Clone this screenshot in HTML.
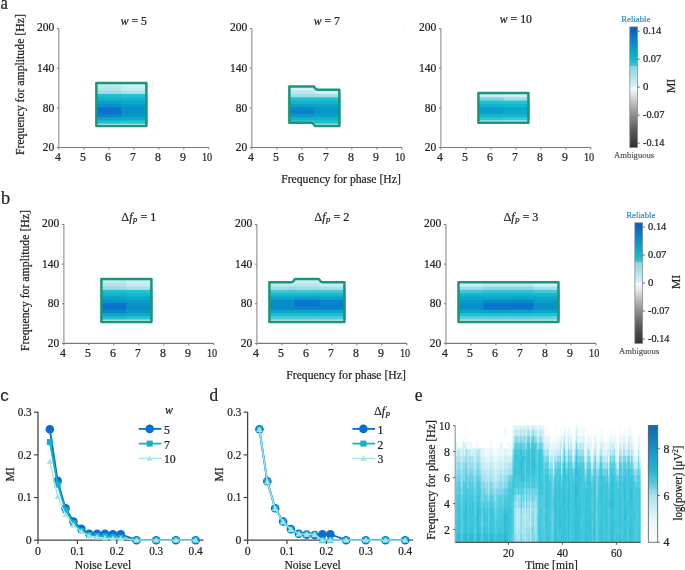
<!DOCTYPE html><html><head><meta charset="utf-8"><style>html,body{margin:0;padding:0;background:#fff;overflow:hidden}svg{display:block;will-change:transform}text{font-family:"Liberation Serif",serif;stroke:#222;stroke-width:0.22px}</style></head><body>
<svg width="685" height="570" viewBox="0 0 685 570" fill="#222">
<defs>
<linearGradient id="cba" x1="0" y1="0" x2="0" y2="1"><stop offset="0" stop-color="#0a5ec0"/><stop offset="0.035" stop-color="#0a62c2"/><stop offset="0.1" stop-color="#0a7ec8"/><stop offset="0.17" stop-color="#0a98c8"/><stop offset="0.23" stop-color="#0aaec8"/><stop offset="0.27" stop-color="#12b8cc"/><stop offset="0.32" stop-color="#3cc4d4"/><stop offset="0.326" stop-color="#80d4de"/><stop offset="0.335" stop-color="#8ed8e2"/><stop offset="0.4" stop-color="#a8e2ea"/><stop offset="0.47" stop-color="#c8eff4"/><stop offset="0.495" stop-color="#d4f4f8"/><stop offset="0.497" stop-color="#fbfbfb"/><stop offset="0.56" stop-color="#e4e4e4"/><stop offset="0.62" stop-color="#c4c4c4"/><stop offset="0.69" stop-color="#a0a0a0"/><stop offset="0.74" stop-color="#8a8a8a"/><stop offset="0.84" stop-color="#606060"/><stop offset="0.93" stop-color="#444"/><stop offset="1" stop-color="#303030"/></linearGradient>
<linearGradient id="cbb" x1="0" y1="0" x2="0" y2="1"><stop offset="0" stop-color="#0a5ec0"/><stop offset="0.035" stop-color="#0a62c2"/><stop offset="0.1" stop-color="#0a7ec8"/><stop offset="0.17" stop-color="#0a98c8"/><stop offset="0.23" stop-color="#0aaec8"/><stop offset="0.27" stop-color="#12b8cc"/><stop offset="0.32" stop-color="#3cc4d4"/><stop offset="0.326" stop-color="#80d4de"/><stop offset="0.335" stop-color="#8ed8e2"/><stop offset="0.4" stop-color="#a8e2ea"/><stop offset="0.47" stop-color="#c8eff4"/><stop offset="0.495" stop-color="#d4f4f8"/><stop offset="0.497" stop-color="#fbfbfb"/><stop offset="0.56" stop-color="#e4e4e4"/><stop offset="0.62" stop-color="#c4c4c4"/><stop offset="0.69" stop-color="#a0a0a0"/><stop offset="0.74" stop-color="#8a8a8a"/><stop offset="0.84" stop-color="#606060"/><stop offset="0.93" stop-color="#444"/><stop offset="1" stop-color="#303030"/></linearGradient>
<linearGradient id="cbe" x1="0" y1="0" x2="0" y2="1"><stop offset="0" stop-color="#0b68b6"/><stop offset="0.2" stop-color="#1a90c8"/><stop offset="0.38" stop-color="#22b4d0"/><stop offset="0.5" stop-color="#5cc9dc"/><stop offset="0.6" stop-color="#a8e2ec"/><stop offset="0.8" stop-color="#e6f7fa"/><stop offset="1" stop-color="#ffffff"/></linearGradient>
</defs>
<rect width="685" height="570" fill="#fff"/>
<text x="0.60" y="9.00" font-size="18.5" fill="#222" textLength="7.4" lengthAdjust="spacingAndGlyphs">a</text>
<text x="0.90" y="204.30" font-size="18.5" fill="#222" textLength="9.2" lengthAdjust="spacingAndGlyphs">b</text>
<text x="0.3" y="401" font-size="17" style="font-family:'Liberation Sans',sans-serif;stroke-width:0.15px" fill="#222">c</text>
<text x="209.60" y="400.80" font-size="18.5" fill="#222" textLength="8.6" lengthAdjust="spacingAndGlyphs">d</text>
<text x="414.70" y="400.80" font-size="18.5" fill="#222" textLength="7.8" lengthAdjust="spacingAndGlyphs">e</text>
<rect x="96.35" y="122.73" width="26.00" height="4.30" fill="#c8eef2"/>
<rect x="96.35" y="119.42" width="26.00" height="4.30" fill="#20bdd0"/>
<rect x="96.35" y="116.12" width="26.00" height="4.30" fill="#0aa5c8"/>
<rect x="96.35" y="112.82" width="26.00" height="4.30" fill="#0a86c8"/>
<rect x="96.35" y="109.52" width="26.00" height="4.30" fill="#0a72cc"/>
<rect x="96.35" y="106.21" width="26.00" height="4.30" fill="#0a74cc"/>
<rect x="96.35" y="102.91" width="26.00" height="4.30" fill="#0a92c8"/>
<rect x="96.35" y="99.61" width="26.00" height="4.30" fill="#0aa0c8"/>
<rect x="96.35" y="96.30" width="26.00" height="4.30" fill="#12b2cc"/>
<rect x="96.35" y="93.00" width="26.00" height="4.30" fill="#1ebdd0"/>
<rect x="96.35" y="89.70" width="26.00" height="4.30" fill="#9ddbe3"/>
<rect x="96.35" y="86.39" width="26.00" height="4.30" fill="#b0e3ea"/>
<rect x="96.35" y="83.09" width="26.00" height="4.30" fill="#c0eaf0"/>
<rect x="121.35" y="122.73" width="26.00" height="4.30" fill="#cdf0f4"/>
<rect x="121.35" y="119.42" width="26.00" height="4.30" fill="#28c2d2"/>
<rect x="121.35" y="116.12" width="26.00" height="4.30" fill="#0aacc8"/>
<rect x="121.35" y="112.82" width="26.00" height="4.30" fill="#0a98c8"/>
<rect x="121.35" y="109.52" width="26.00" height="4.30" fill="#0a90c8"/>
<rect x="121.35" y="106.21" width="26.00" height="4.30" fill="#0a90c8"/>
<rect x="121.35" y="102.91" width="26.00" height="4.30" fill="#0a9cc8"/>
<rect x="121.35" y="99.61" width="26.00" height="4.30" fill="#0aa8ca"/>
<rect x="121.35" y="96.30" width="26.00" height="4.30" fill="#17b6cd"/>
<rect x="121.35" y="93.00" width="26.00" height="4.30" fill="#24c1d2"/>
<rect x="121.35" y="89.70" width="26.00" height="4.30" fill="#aae1e9"/>
<rect x="121.35" y="86.39" width="26.00" height="4.30" fill="#c2ecf1"/>
<rect x="121.35" y="83.09" width="26.00" height="4.30" fill="#caf0f4"/>
<path d="M96.35,126.03 L96.35,83.09 L146.35,83.09 L146.35,126.03 Z" fill="none" stroke="#1c9678" stroke-width="2.5" stroke-linejoin="round"/>
<rect x="289.35" y="119.42" width="26.00" height="4.30" fill="#40c6d4"/>
<rect x="289.35" y="116.12" width="26.00" height="4.30" fill="#10b0cc"/>
<rect x="289.35" y="112.82" width="26.00" height="4.30" fill="#0a98c8"/>
<rect x="289.35" y="109.52" width="26.00" height="4.30" fill="#0a80cc"/>
<rect x="289.35" y="106.21" width="26.00" height="4.30" fill="#0a88cc"/>
<rect x="289.35" y="102.91" width="26.00" height="4.30" fill="#0aa0c8"/>
<rect x="289.35" y="99.61" width="26.00" height="4.30" fill="#10b4cc"/>
<rect x="289.35" y="96.30" width="26.00" height="4.30" fill="#20c0d0"/>
<rect x="289.35" y="93.00" width="26.00" height="4.30" fill="#a0dde6"/>
<rect x="289.35" y="89.70" width="26.00" height="4.30" fill="#b8e6ee"/>
<rect x="289.35" y="86.39" width="26.00" height="4.30" fill="#d0f2f6"/>
<rect x="314.35" y="122.73" width="26.00" height="4.30" fill="#b8e8ee"/>
<rect x="314.35" y="119.42" width="26.00" height="4.30" fill="#20c0d0"/>
<rect x="314.35" y="116.12" width="26.00" height="4.30" fill="#10b2cc"/>
<rect x="314.35" y="112.82" width="26.00" height="4.30" fill="#0aa0c8"/>
<rect x="314.35" y="109.52" width="26.00" height="4.30" fill="#0a96c8"/>
<rect x="314.35" y="106.21" width="26.00" height="4.30" fill="#0a98c8"/>
<rect x="314.35" y="102.91" width="26.00" height="4.30" fill="#0aa5c8"/>
<rect x="314.35" y="99.61" width="26.00" height="4.30" fill="#12b4cc"/>
<rect x="314.35" y="96.30" width="26.00" height="4.30" fill="#20c0d0"/>
<rect x="314.35" y="93.00" width="26.00" height="4.30" fill="#a8e0e8"/>
<rect x="314.35" y="89.70" width="26.00" height="4.30" fill="#cdf0f4"/>
<path d="M289.35,122.73 L289.35,86.39 L313.75,86.39 L314.75,87.59 L315.95,89.30 L318.35,89.70 L339.35,89.70 L339.35,126.03 L314.95,126.03 L313.95,124.83 L312.75,123.13 L310.35,122.73 Z" fill="none" stroke="#1c9678" stroke-width="2.5" stroke-linejoin="round"/>
<rect x="478.40" y="119.42" width="26.00" height="4.30" fill="#c0eaf0"/>
<rect x="478.40" y="116.12" width="26.00" height="4.30" fill="#30c5d5"/>
<rect x="478.40" y="112.82" width="26.00" height="4.30" fill="#10b5cc"/>
<rect x="478.40" y="109.52" width="26.00" height="4.30" fill="#0a9fcc"/>
<rect x="478.40" y="106.21" width="26.00" height="4.30" fill="#0a9fcc"/>
<rect x="478.40" y="102.91" width="26.00" height="4.30" fill="#10b5cc"/>
<rect x="478.40" y="99.61" width="26.00" height="4.30" fill="#20c0d0"/>
<rect x="478.40" y="96.30" width="26.00" height="4.30" fill="#7dd3e0"/>
<rect x="478.40" y="93.00" width="26.00" height="4.30" fill="#c8eef2"/>
<rect x="503.40" y="119.42" width="26.00" height="4.30" fill="#c8eef2"/>
<rect x="503.40" y="116.12" width="26.00" height="4.30" fill="#38c8d6"/>
<rect x="503.40" y="112.82" width="26.00" height="4.30" fill="#14b8cc"/>
<rect x="503.40" y="109.52" width="26.00" height="4.30" fill="#0aabc8"/>
<rect x="503.40" y="106.21" width="26.00" height="4.30" fill="#0aabc8"/>
<rect x="503.40" y="102.91" width="26.00" height="4.30" fill="#14b8cc"/>
<rect x="503.40" y="99.61" width="26.00" height="4.30" fill="#25c2d2"/>
<rect x="503.40" y="96.30" width="26.00" height="4.30" fill="#a0dde8"/>
<rect x="503.40" y="93.00" width="26.00" height="4.30" fill="#d0f0f4"/>
<path d="M478.40,122.73 L478.40,93.00 L528.40,93.00 L528.40,122.73 Z" fill="none" stroke="#1c9678" stroke-width="2.5" stroke-linejoin="round"/>
<line x1="58.85" y1="28.59" x2="58.85" y2="147.50" stroke="#8c8c8c" stroke-width="1.1"/>
<line x1="58.85" y1="147.50" x2="208.85" y2="147.50" stroke="#7a7a7a" stroke-width="1.1"/>
<line x1="56.85" y1="28.59" x2="58.85" y2="28.59" stroke="#7a7a7a" stroke-width="1"/>
<text x="54.25" y="31.19" font-size="11.8" text-anchor="end" fill="#222" textLength="17.3" lengthAdjust="spacingAndGlyphs">200</text>
<line x1="56.85" y1="68.23" x2="58.85" y2="68.23" stroke="#7a7a7a" stroke-width="1"/>
<text x="54.25" y="71.93" font-size="11.8" text-anchor="end" fill="#222" textLength="17.3" lengthAdjust="spacingAndGlyphs">140</text>
<line x1="56.85" y1="107.86" x2="58.85" y2="107.86" stroke="#7a7a7a" stroke-width="1"/>
<text x="54.25" y="111.56" font-size="11.8" text-anchor="end" fill="#222" textLength="11.5" lengthAdjust="spacingAndGlyphs">80</text>
<line x1="56.85" y1="147.50" x2="58.85" y2="147.50" stroke="#7a7a7a" stroke-width="1"/>
<text x="54.25" y="151.20" font-size="11.8" text-anchor="end" fill="#222" textLength="11.5" lengthAdjust="spacingAndGlyphs">20</text>
<line x1="58.85" y1="147.50" x2="58.85" y2="149.50" stroke="#7a7a7a" stroke-width="1"/>
<text x="57.95" y="160.60" font-size="11.8" text-anchor="middle" fill="#222">4</text>
<line x1="83.85" y1="147.50" x2="83.85" y2="149.50" stroke="#7a7a7a" stroke-width="1"/>
<text x="82.95" y="160.60" font-size="11.8" text-anchor="middle" fill="#222">5</text>
<line x1="108.85" y1="147.50" x2="108.85" y2="149.50" stroke="#7a7a7a" stroke-width="1"/>
<text x="107.95" y="160.60" font-size="11.8" text-anchor="middle" fill="#222">6</text>
<line x1="133.85" y1="147.50" x2="133.85" y2="149.50" stroke="#7a7a7a" stroke-width="1"/>
<text x="132.95" y="160.60" font-size="11.8" text-anchor="middle" fill="#222">7</text>
<line x1="158.85" y1="147.50" x2="158.85" y2="149.50" stroke="#7a7a7a" stroke-width="1"/>
<text x="157.95" y="160.60" font-size="11.8" text-anchor="middle" fill="#222">8</text>
<line x1="183.85" y1="147.50" x2="183.85" y2="149.50" stroke="#7a7a7a" stroke-width="1"/>
<text x="182.95" y="160.60" font-size="11.8" text-anchor="middle" fill="#222">9</text>
<line x1="208.85" y1="147.50" x2="208.85" y2="149.50" stroke="#7a7a7a" stroke-width="1"/>
<text x="207.05" y="160.60" font-size="11.8" text-anchor="middle" fill="#222" textLength="10.2" lengthAdjust="spacingAndGlyphs">10</text>
<text x="133.85" y="25.10" font-size="11.8" text-anchor="middle"><tspan font-style="italic">w</tspan> = 5</text>
<line x1="251.85" y1="28.59" x2="251.85" y2="147.50" stroke="#8c8c8c" stroke-width="1.1"/>
<line x1="251.85" y1="147.50" x2="401.85" y2="147.50" stroke="#7a7a7a" stroke-width="1.1"/>
<line x1="249.85" y1="28.59" x2="251.85" y2="28.59" stroke="#7a7a7a" stroke-width="1"/>
<text x="247.25" y="31.19" font-size="11.8" text-anchor="end" fill="#222" textLength="17.3" lengthAdjust="spacingAndGlyphs">200</text>
<line x1="249.85" y1="68.23" x2="251.85" y2="68.23" stroke="#7a7a7a" stroke-width="1"/>
<text x="247.25" y="71.93" font-size="11.8" text-anchor="end" fill="#222" textLength="17.3" lengthAdjust="spacingAndGlyphs">140</text>
<line x1="249.85" y1="107.86" x2="251.85" y2="107.86" stroke="#7a7a7a" stroke-width="1"/>
<text x="247.25" y="111.56" font-size="11.8" text-anchor="end" fill="#222" textLength="11.5" lengthAdjust="spacingAndGlyphs">80</text>
<line x1="249.85" y1="147.50" x2="251.85" y2="147.50" stroke="#7a7a7a" stroke-width="1"/>
<text x="247.25" y="151.20" font-size="11.8" text-anchor="end" fill="#222" textLength="11.5" lengthAdjust="spacingAndGlyphs">20</text>
<line x1="251.85" y1="147.50" x2="251.85" y2="149.50" stroke="#7a7a7a" stroke-width="1"/>
<text x="250.95" y="160.60" font-size="11.8" text-anchor="middle" fill="#222">4</text>
<line x1="276.85" y1="147.50" x2="276.85" y2="149.50" stroke="#7a7a7a" stroke-width="1"/>
<text x="275.95" y="160.60" font-size="11.8" text-anchor="middle" fill="#222">5</text>
<line x1="301.85" y1="147.50" x2="301.85" y2="149.50" stroke="#7a7a7a" stroke-width="1"/>
<text x="300.95" y="160.60" font-size="11.8" text-anchor="middle" fill="#222">6</text>
<line x1="326.85" y1="147.50" x2="326.85" y2="149.50" stroke="#7a7a7a" stroke-width="1"/>
<text x="325.95" y="160.60" font-size="11.8" text-anchor="middle" fill="#222">7</text>
<line x1="351.85" y1="147.50" x2="351.85" y2="149.50" stroke="#7a7a7a" stroke-width="1"/>
<text x="350.95" y="160.60" font-size="11.8" text-anchor="middle" fill="#222">8</text>
<line x1="376.85" y1="147.50" x2="376.85" y2="149.50" stroke="#7a7a7a" stroke-width="1"/>
<text x="375.95" y="160.60" font-size="11.8" text-anchor="middle" fill="#222">9</text>
<line x1="401.85" y1="147.50" x2="401.85" y2="149.50" stroke="#7a7a7a" stroke-width="1"/>
<text x="400.05" y="160.60" font-size="11.8" text-anchor="middle" fill="#222" textLength="10.2" lengthAdjust="spacingAndGlyphs">10</text>
<text x="326.85" y="24.60" font-size="11.8" text-anchor="middle"><tspan font-style="italic">w</tspan> = 7</text>
<line x1="440.90" y1="28.59" x2="440.90" y2="147.50" stroke="#8c8c8c" stroke-width="1.1"/>
<line x1="440.90" y1="147.50" x2="590.90" y2="147.50" stroke="#7a7a7a" stroke-width="1.1"/>
<line x1="438.90" y1="28.59" x2="440.90" y2="28.59" stroke="#7a7a7a" stroke-width="1"/>
<text x="436.30" y="31.19" font-size="11.8" text-anchor="end" fill="#222" textLength="17.3" lengthAdjust="spacingAndGlyphs">200</text>
<line x1="438.90" y1="68.23" x2="440.90" y2="68.23" stroke="#7a7a7a" stroke-width="1"/>
<text x="436.30" y="71.93" font-size="11.8" text-anchor="end" fill="#222" textLength="17.3" lengthAdjust="spacingAndGlyphs">140</text>
<line x1="438.90" y1="107.86" x2="440.90" y2="107.86" stroke="#7a7a7a" stroke-width="1"/>
<text x="436.30" y="111.56" font-size="11.8" text-anchor="end" fill="#222" textLength="11.5" lengthAdjust="spacingAndGlyphs">80</text>
<line x1="438.90" y1="147.50" x2="440.90" y2="147.50" stroke="#7a7a7a" stroke-width="1"/>
<text x="436.30" y="151.20" font-size="11.8" text-anchor="end" fill="#222" textLength="11.5" lengthAdjust="spacingAndGlyphs">20</text>
<line x1="440.90" y1="147.50" x2="440.90" y2="149.50" stroke="#7a7a7a" stroke-width="1"/>
<text x="440.00" y="160.60" font-size="11.8" text-anchor="middle" fill="#222">4</text>
<line x1="465.90" y1="147.50" x2="465.90" y2="149.50" stroke="#7a7a7a" stroke-width="1"/>
<text x="465.00" y="160.60" font-size="11.8" text-anchor="middle" fill="#222">5</text>
<line x1="490.90" y1="147.50" x2="490.90" y2="149.50" stroke="#7a7a7a" stroke-width="1"/>
<text x="490.00" y="160.60" font-size="11.8" text-anchor="middle" fill="#222">6</text>
<line x1="515.90" y1="147.50" x2="515.90" y2="149.50" stroke="#7a7a7a" stroke-width="1"/>
<text x="515.00" y="160.60" font-size="11.8" text-anchor="middle" fill="#222">7</text>
<line x1="540.90" y1="147.50" x2="540.90" y2="149.50" stroke="#7a7a7a" stroke-width="1"/>
<text x="540.00" y="160.60" font-size="11.8" text-anchor="middle" fill="#222">8</text>
<line x1="565.90" y1="147.50" x2="565.90" y2="149.50" stroke="#7a7a7a" stroke-width="1"/>
<text x="565.00" y="160.60" font-size="11.8" text-anchor="middle" fill="#222">9</text>
<line x1="590.90" y1="147.50" x2="590.90" y2="149.50" stroke="#7a7a7a" stroke-width="1"/>
<text x="589.10" y="160.60" font-size="11.8" text-anchor="middle" fill="#222" textLength="10.2" lengthAdjust="spacingAndGlyphs">10</text>
<text x="515.90" y="23.40" font-size="11.8" text-anchor="middle"><tspan font-style="italic">w</tspan> = 10</text>
<text x="23.90" y="84.60" font-size="12.6" text-anchor="middle" fill="#222" textLength="141" lengthAdjust="spacingAndGlyphs" transform="rotate(-90 23.90 84.60)">Frequency for amplitude [Hz]</text>
<text x="341.00" y="182.60" font-size="12.6" text-anchor="middle" fill="#222" textLength="119.6" lengthAdjust="spacingAndGlyphs">Frequency for phase [Hz]</text>
<rect x="629.80" y="26.90" width="7.8" height="120.70" fill="url(#cba)" stroke="#8a8a8a" stroke-width="0.8"/>
<line x1="637.60" y1="31.15" x2="639.60" y2="31.15" stroke="#555" stroke-width="1"/>
<text x="643.00" y="34.25" font-size="10.8" fill="#222" textLength="18.3" lengthAdjust="spacingAndGlyphs">0.14</text>
<line x1="637.60" y1="59.15" x2="639.60" y2="59.15" stroke="#555" stroke-width="1"/>
<text x="643.00" y="62.25" font-size="10.8" fill="#222" textLength="18.3" lengthAdjust="spacingAndGlyphs">0.07</text>
<line x1="637.60" y1="87.15" x2="639.60" y2="87.15" stroke="#555" stroke-width="1"/>
<text x="643.00" y="90.25" font-size="10.8" fill="#222">0</text>
<line x1="637.60" y1="115.15" x2="639.60" y2="115.15" stroke="#555" stroke-width="1"/>
<text x="643.00" y="118.25" font-size="10.8" fill="#222" textLength="21.4" lengthAdjust="spacingAndGlyphs">-0.07</text>
<line x1="637.60" y1="143.15" x2="639.60" y2="143.15" stroke="#555" stroke-width="1"/>
<text x="643.00" y="146.25" font-size="10.8" fill="#222" textLength="21.4" lengthAdjust="spacingAndGlyphs">-0.14</text>
<text x="635.80" y="22.00" font-size="9.0" text-anchor="middle" fill="#2f8cc4" style="stroke:#2f8cc4" textLength="29.1" lengthAdjust="spacingAndGlyphs">Reliable</text>
<text x="634.10" y="157.90" font-size="9.0" text-anchor="middle" fill="#555" style="stroke:#555" textLength="40.2" lengthAdjust="spacingAndGlyphs">Ambiguous</text>
<text x="675.30" y="86.00" font-size="11.6" text-anchor="middle" fill="#222" transform="rotate(-90 675.30 86.00)">MI</text>
<rect x="101.40" y="318.63" width="26.00" height="4.30" fill="#c8eef2"/>
<rect x="101.40" y="315.32" width="26.00" height="4.30" fill="#20bdd0"/>
<rect x="101.40" y="312.02" width="26.00" height="4.30" fill="#0aa5c8"/>
<rect x="101.40" y="308.72" width="26.00" height="4.30" fill="#0a86c8"/>
<rect x="101.40" y="305.42" width="26.00" height="4.30" fill="#0a72cc"/>
<rect x="101.40" y="302.11" width="26.00" height="4.30" fill="#0a74cc"/>
<rect x="101.40" y="298.81" width="26.00" height="4.30" fill="#0a92c8"/>
<rect x="101.40" y="295.51" width="26.00" height="4.30" fill="#0aa0c8"/>
<rect x="101.40" y="292.20" width="26.00" height="4.30" fill="#12b2cc"/>
<rect x="101.40" y="288.90" width="26.00" height="4.30" fill="#1ebdd0"/>
<rect x="101.40" y="285.60" width="26.00" height="4.30" fill="#9ddbe3"/>
<rect x="101.40" y="282.29" width="26.00" height="4.30" fill="#b0e3ea"/>
<rect x="101.40" y="278.99" width="26.00" height="4.30" fill="#c0eaf0"/>
<rect x="126.40" y="318.63" width="26.00" height="4.30" fill="#cdf0f4"/>
<rect x="126.40" y="315.32" width="26.00" height="4.30" fill="#28c2d2"/>
<rect x="126.40" y="312.02" width="26.00" height="4.30" fill="#0aacc8"/>
<rect x="126.40" y="308.72" width="26.00" height="4.30" fill="#0a98c8"/>
<rect x="126.40" y="305.42" width="26.00" height="4.30" fill="#0a90c8"/>
<rect x="126.40" y="302.11" width="26.00" height="4.30" fill="#0a90c8"/>
<rect x="126.40" y="298.81" width="26.00" height="4.30" fill="#0a9cc8"/>
<rect x="126.40" y="295.51" width="26.00" height="4.30" fill="#0aa8ca"/>
<rect x="126.40" y="292.20" width="26.00" height="4.30" fill="#17b6cd"/>
<rect x="126.40" y="288.90" width="26.00" height="4.30" fill="#24c1d2"/>
<rect x="126.40" y="285.60" width="26.00" height="4.30" fill="#aae1e9"/>
<rect x="126.40" y="282.29" width="26.00" height="4.30" fill="#c2ecf1"/>
<rect x="126.40" y="278.99" width="26.00" height="4.30" fill="#caf0f4"/>
<path d="M101.40,321.93 L101.40,278.99 L151.40,278.99 L151.40,321.93 Z" fill="none" stroke="#1c9678" stroke-width="2.5" stroke-linejoin="round"/>
<rect x="269.40" y="318.63" width="26.00" height="4.30" fill="#c8eef2"/>
<rect x="269.40" y="315.32" width="26.00" height="4.30" fill="#50cad8"/>
<rect x="269.40" y="312.02" width="26.00" height="4.30" fill="#20bcd0"/>
<rect x="269.40" y="308.72" width="26.00" height="4.30" fill="#0aa5c8"/>
<rect x="269.40" y="305.42" width="26.00" height="4.30" fill="#0a88c8"/>
<rect x="269.40" y="302.11" width="26.00" height="4.30" fill="#0a8ec8"/>
<rect x="269.40" y="298.81" width="26.00" height="4.30" fill="#0a8ec8"/>
<rect x="269.40" y="295.51" width="26.00" height="4.30" fill="#0aa5c8"/>
<rect x="269.40" y="292.20" width="26.00" height="4.30" fill="#15b8cc"/>
<rect x="269.40" y="288.90" width="26.00" height="4.30" fill="#40c5d5"/>
<rect x="269.40" y="285.60" width="26.00" height="4.30" fill="#a0dce5"/>
<rect x="269.40" y="282.29" width="26.00" height="4.30" fill="#c0e8ee"/>
<rect x="294.40" y="318.63" width="26.00" height="4.30" fill="#c8eef2"/>
<rect x="294.40" y="315.32" width="26.00" height="4.30" fill="#50cad8"/>
<rect x="294.40" y="312.02" width="26.00" height="4.30" fill="#20bcd0"/>
<rect x="294.40" y="308.72" width="26.00" height="4.30" fill="#0aa5c8"/>
<rect x="294.40" y="305.42" width="26.00" height="4.30" fill="#0a80cc"/>
<rect x="294.40" y="302.11" width="26.00" height="4.30" fill="#0a76cc"/>
<rect x="294.40" y="298.81" width="26.00" height="4.30" fill="#0a78cc"/>
<rect x="294.40" y="295.51" width="26.00" height="4.30" fill="#0aa0c8"/>
<rect x="294.40" y="292.20" width="26.00" height="4.30" fill="#15b8cc"/>
<rect x="294.40" y="288.90" width="26.00" height="4.30" fill="#40c5d5"/>
<rect x="294.40" y="285.60" width="26.00" height="4.30" fill="#a0dce5"/>
<rect x="294.40" y="282.29" width="26.00" height="4.30" fill="#b8e6ee"/>
<rect x="294.40" y="278.99" width="26.00" height="4.30" fill="#c8eef2"/>
<rect x="319.40" y="318.63" width="26.00" height="4.30" fill="#cdf0f4"/>
<rect x="319.40" y="315.32" width="26.00" height="4.30" fill="#50cad8"/>
<rect x="319.40" y="312.02" width="26.00" height="4.30" fill="#20bcd0"/>
<rect x="319.40" y="308.72" width="26.00" height="4.30" fill="#0aa5c8"/>
<rect x="319.40" y="305.42" width="26.00" height="4.30" fill="#0a80cc"/>
<rect x="319.40" y="302.11" width="26.00" height="4.30" fill="#0a7ecc"/>
<rect x="319.40" y="298.81" width="26.00" height="4.30" fill="#0a84cc"/>
<rect x="319.40" y="295.51" width="26.00" height="4.30" fill="#0aa5c8"/>
<rect x="319.40" y="292.20" width="26.00" height="4.30" fill="#15b8cc"/>
<rect x="319.40" y="288.90" width="26.00" height="4.30" fill="#40c5d5"/>
<rect x="319.40" y="285.60" width="26.00" height="4.30" fill="#a8e0e8"/>
<rect x="319.40" y="282.29" width="26.00" height="4.30" fill="#c8eef2"/>
<path d="M269.40,321.93 L269.40,282.29 L290.40,282.29 L292.80,281.89 L294.00,280.19 L295.00,278.99 L318.80,278.99 L319.80,280.19 L321.00,281.89 L323.40,282.29 L344.40,282.29 L344.40,321.93 Z" fill="none" stroke="#1c9678" stroke-width="2.5" stroke-linejoin="round"/>
<rect x="458.45" y="318.63" width="26.00" height="4.30" fill="#c8eef2"/>
<rect x="458.45" y="315.32" width="26.00" height="4.30" fill="#60cede"/>
<rect x="458.45" y="312.02" width="26.00" height="4.30" fill="#20c0d0"/>
<rect x="458.45" y="308.72" width="26.00" height="4.30" fill="#0aa5c8"/>
<rect x="458.45" y="305.42" width="26.00" height="4.30" fill="#0a90c8"/>
<rect x="458.45" y="302.11" width="26.00" height="4.30" fill="#0a90c8"/>
<rect x="458.45" y="298.81" width="26.00" height="4.30" fill="#0a9ac8"/>
<rect x="458.45" y="295.51" width="26.00" height="4.30" fill="#0aa8c8"/>
<rect x="458.45" y="292.20" width="26.00" height="4.30" fill="#10b5cc"/>
<rect x="458.45" y="288.90" width="26.00" height="4.30" fill="#40c6d6"/>
<rect x="458.45" y="285.60" width="26.00" height="4.30" fill="#a0dde6"/>
<rect x="458.45" y="282.29" width="26.00" height="4.30" fill="#cdf0f4"/>
<rect x="483.45" y="318.63" width="26.00" height="4.30" fill="#c8eef2"/>
<rect x="483.45" y="315.32" width="26.00" height="4.30" fill="#60cede"/>
<rect x="483.45" y="312.02" width="26.00" height="4.30" fill="#20c0d0"/>
<rect x="483.45" y="308.72" width="26.00" height="4.30" fill="#0aa0c8"/>
<rect x="483.45" y="305.42" width="26.00" height="4.30" fill="#0a76cc"/>
<rect x="483.45" y="302.11" width="26.00" height="4.30" fill="#0a74cc"/>
<rect x="483.45" y="298.81" width="26.00" height="4.30" fill="#0a8ac8"/>
<rect x="483.45" y="295.51" width="26.00" height="4.30" fill="#0aa5c8"/>
<rect x="483.45" y="292.20" width="26.00" height="4.30" fill="#10b5cc"/>
<rect x="483.45" y="288.90" width="26.00" height="4.30" fill="#30c2d4"/>
<rect x="483.45" y="285.60" width="26.00" height="4.30" fill="#8fd6e2"/>
<rect x="483.45" y="282.29" width="26.00" height="4.30" fill="#c0eaf0"/>
<rect x="508.45" y="318.63" width="26.00" height="4.30" fill="#c8eef2"/>
<rect x="508.45" y="315.32" width="26.00" height="4.30" fill="#60cede"/>
<rect x="508.45" y="312.02" width="26.00" height="4.30" fill="#20c0d0"/>
<rect x="508.45" y="308.72" width="26.00" height="4.30" fill="#0aa0c8"/>
<rect x="508.45" y="305.42" width="26.00" height="4.30" fill="#0a74cc"/>
<rect x="508.45" y="302.11" width="26.00" height="4.30" fill="#0a72cc"/>
<rect x="508.45" y="298.81" width="26.00" height="4.30" fill="#0a88c8"/>
<rect x="508.45" y="295.51" width="26.00" height="4.30" fill="#0aa5c8"/>
<rect x="508.45" y="292.20" width="26.00" height="4.30" fill="#10b5cc"/>
<rect x="508.45" y="288.90" width="26.00" height="4.30" fill="#30c2d4"/>
<rect x="508.45" y="285.60" width="26.00" height="4.30" fill="#8fd6e2"/>
<rect x="508.45" y="282.29" width="26.00" height="4.30" fill="#c0eaf0"/>
<rect x="533.45" y="318.63" width="26.00" height="4.30" fill="#cdf0f4"/>
<rect x="533.45" y="315.32" width="26.00" height="4.30" fill="#68d0e0"/>
<rect x="533.45" y="312.02" width="26.00" height="4.30" fill="#24c1d2"/>
<rect x="533.45" y="308.72" width="26.00" height="4.30" fill="#0aa8c8"/>
<rect x="533.45" y="305.42" width="26.00" height="4.30" fill="#0a92c8"/>
<rect x="533.45" y="302.11" width="26.00" height="4.30" fill="#0a92c8"/>
<rect x="533.45" y="298.81" width="26.00" height="4.30" fill="#0a9cc8"/>
<rect x="533.45" y="295.51" width="26.00" height="4.30" fill="#0aa8c8"/>
<rect x="533.45" y="292.20" width="26.00" height="4.30" fill="#14b8cc"/>
<rect x="533.45" y="288.90" width="26.00" height="4.30" fill="#40c6d6"/>
<rect x="533.45" y="285.60" width="26.00" height="4.30" fill="#a8e0e8"/>
<rect x="533.45" y="282.29" width="26.00" height="4.30" fill="#d0f0f4"/>
<path d="M458.45,321.93 L458.45,282.29 L558.45,282.29 L558.45,321.93 Z" fill="none" stroke="#1c9678" stroke-width="2.5" stroke-linejoin="round"/>
<line x1="63.90" y1="224.49" x2="63.90" y2="343.40" stroke="#8c8c8c" stroke-width="1.1"/>
<line x1="63.90" y1="343.40" x2="213.90" y2="343.40" stroke="#7a7a7a" stroke-width="1.1"/>
<line x1="61.90" y1="224.49" x2="63.90" y2="224.49" stroke="#7a7a7a" stroke-width="1"/>
<text x="59.30" y="227.09" font-size="11.8" text-anchor="end" fill="#222" textLength="17.3" lengthAdjust="spacingAndGlyphs">200</text>
<line x1="61.90" y1="264.13" x2="63.90" y2="264.13" stroke="#7a7a7a" stroke-width="1"/>
<text x="59.30" y="267.83" font-size="11.8" text-anchor="end" fill="#222" textLength="17.3" lengthAdjust="spacingAndGlyphs">140</text>
<line x1="61.90" y1="303.76" x2="63.90" y2="303.76" stroke="#7a7a7a" stroke-width="1"/>
<text x="59.30" y="307.46" font-size="11.8" text-anchor="end" fill="#222" textLength="11.5" lengthAdjust="spacingAndGlyphs">80</text>
<line x1="61.90" y1="343.40" x2="63.90" y2="343.40" stroke="#7a7a7a" stroke-width="1"/>
<text x="59.30" y="347.10" font-size="11.8" text-anchor="end" fill="#222" textLength="11.5" lengthAdjust="spacingAndGlyphs">20</text>
<line x1="63.90" y1="343.40" x2="63.90" y2="345.40" stroke="#7a7a7a" stroke-width="1"/>
<text x="63.00" y="356.50" font-size="11.8" text-anchor="middle" fill="#222">4</text>
<line x1="88.90" y1="343.40" x2="88.90" y2="345.40" stroke="#7a7a7a" stroke-width="1"/>
<text x="88.00" y="356.50" font-size="11.8" text-anchor="middle" fill="#222">5</text>
<line x1="113.90" y1="343.40" x2="113.90" y2="345.40" stroke="#7a7a7a" stroke-width="1"/>
<text x="113.00" y="356.50" font-size="11.8" text-anchor="middle" fill="#222">6</text>
<line x1="138.90" y1="343.40" x2="138.90" y2="345.40" stroke="#7a7a7a" stroke-width="1"/>
<text x="138.00" y="356.50" font-size="11.8" text-anchor="middle" fill="#222">7</text>
<line x1="163.90" y1="343.40" x2="163.90" y2="345.40" stroke="#7a7a7a" stroke-width="1"/>
<text x="163.00" y="356.50" font-size="11.8" text-anchor="middle" fill="#222">8</text>
<line x1="188.90" y1="343.40" x2="188.90" y2="345.40" stroke="#7a7a7a" stroke-width="1"/>
<text x="188.00" y="356.50" font-size="11.8" text-anchor="middle" fill="#222">9</text>
<line x1="213.90" y1="343.40" x2="213.90" y2="345.40" stroke="#7a7a7a" stroke-width="1"/>
<text x="212.10" y="356.50" font-size="11.8" text-anchor="middle" fill="#222" textLength="10.2" lengthAdjust="spacingAndGlyphs">10</text>
<text x="138.90" y="221.00" font-size="12.2" text-anchor="middle">Δ<tspan font-style="italic">f</tspan><tspan font-style="italic" font-size="7.8" dy="2.5">P</tspan><tspan dy="-2.5"> = 1</tspan></text>
<line x1="256.90" y1="224.49" x2="256.90" y2="343.40" stroke="#8c8c8c" stroke-width="1.1"/>
<line x1="256.90" y1="343.40" x2="406.90" y2="343.40" stroke="#7a7a7a" stroke-width="1.1"/>
<line x1="254.90" y1="224.49" x2="256.90" y2="224.49" stroke="#7a7a7a" stroke-width="1"/>
<text x="252.30" y="227.09" font-size="11.8" text-anchor="end" fill="#222" textLength="17.3" lengthAdjust="spacingAndGlyphs">200</text>
<line x1="254.90" y1="264.13" x2="256.90" y2="264.13" stroke="#7a7a7a" stroke-width="1"/>
<text x="252.30" y="267.83" font-size="11.8" text-anchor="end" fill="#222" textLength="17.3" lengthAdjust="spacingAndGlyphs">140</text>
<line x1="254.90" y1="303.76" x2="256.90" y2="303.76" stroke="#7a7a7a" stroke-width="1"/>
<text x="252.30" y="307.46" font-size="11.8" text-anchor="end" fill="#222" textLength="11.5" lengthAdjust="spacingAndGlyphs">80</text>
<line x1="254.90" y1="343.40" x2="256.90" y2="343.40" stroke="#7a7a7a" stroke-width="1"/>
<text x="252.30" y="347.10" font-size="11.8" text-anchor="end" fill="#222" textLength="11.5" lengthAdjust="spacingAndGlyphs">20</text>
<line x1="256.90" y1="343.40" x2="256.90" y2="345.40" stroke="#7a7a7a" stroke-width="1"/>
<text x="256.00" y="356.50" font-size="11.8" text-anchor="middle" fill="#222">4</text>
<line x1="281.90" y1="343.40" x2="281.90" y2="345.40" stroke="#7a7a7a" stroke-width="1"/>
<text x="281.00" y="356.50" font-size="11.8" text-anchor="middle" fill="#222">5</text>
<line x1="306.90" y1="343.40" x2="306.90" y2="345.40" stroke="#7a7a7a" stroke-width="1"/>
<text x="306.00" y="356.50" font-size="11.8" text-anchor="middle" fill="#222">6</text>
<line x1="331.90" y1="343.40" x2="331.90" y2="345.40" stroke="#7a7a7a" stroke-width="1"/>
<text x="331.00" y="356.50" font-size="11.8" text-anchor="middle" fill="#222">7</text>
<line x1="356.90" y1="343.40" x2="356.90" y2="345.40" stroke="#7a7a7a" stroke-width="1"/>
<text x="356.00" y="356.50" font-size="11.8" text-anchor="middle" fill="#222">8</text>
<line x1="381.90" y1="343.40" x2="381.90" y2="345.40" stroke="#7a7a7a" stroke-width="1"/>
<text x="381.00" y="356.50" font-size="11.8" text-anchor="middle" fill="#222">9</text>
<line x1="406.90" y1="343.40" x2="406.90" y2="345.40" stroke="#7a7a7a" stroke-width="1"/>
<text x="405.10" y="356.50" font-size="11.8" text-anchor="middle" fill="#222" textLength="10.2" lengthAdjust="spacingAndGlyphs">10</text>
<text x="331.90" y="221.00" font-size="12.2" text-anchor="middle">Δ<tspan font-style="italic">f</tspan><tspan font-style="italic" font-size="7.8" dy="2.5">P</tspan><tspan dy="-2.5"> = 2</tspan></text>
<line x1="445.95" y1="224.49" x2="445.95" y2="343.40" stroke="#8c8c8c" stroke-width="1.1"/>
<line x1="445.95" y1="343.40" x2="595.95" y2="343.40" stroke="#7a7a7a" stroke-width="1.1"/>
<line x1="443.95" y1="224.49" x2="445.95" y2="224.49" stroke="#7a7a7a" stroke-width="1"/>
<text x="441.35" y="227.09" font-size="11.8" text-anchor="end" fill="#222" textLength="17.3" lengthAdjust="spacingAndGlyphs">200</text>
<line x1="443.95" y1="264.13" x2="445.95" y2="264.13" stroke="#7a7a7a" stroke-width="1"/>
<text x="441.35" y="267.83" font-size="11.8" text-anchor="end" fill="#222" textLength="17.3" lengthAdjust="spacingAndGlyphs">140</text>
<line x1="443.95" y1="303.76" x2="445.95" y2="303.76" stroke="#7a7a7a" stroke-width="1"/>
<text x="441.35" y="307.46" font-size="11.8" text-anchor="end" fill="#222" textLength="11.5" lengthAdjust="spacingAndGlyphs">80</text>
<line x1="443.95" y1="343.40" x2="445.95" y2="343.40" stroke="#7a7a7a" stroke-width="1"/>
<text x="441.35" y="347.10" font-size="11.8" text-anchor="end" fill="#222" textLength="11.5" lengthAdjust="spacingAndGlyphs">20</text>
<line x1="445.95" y1="343.40" x2="445.95" y2="345.40" stroke="#7a7a7a" stroke-width="1"/>
<text x="445.05" y="356.50" font-size="11.8" text-anchor="middle" fill="#222">4</text>
<line x1="470.95" y1="343.40" x2="470.95" y2="345.40" stroke="#7a7a7a" stroke-width="1"/>
<text x="470.05" y="356.50" font-size="11.8" text-anchor="middle" fill="#222">5</text>
<line x1="495.95" y1="343.40" x2="495.95" y2="345.40" stroke="#7a7a7a" stroke-width="1"/>
<text x="495.05" y="356.50" font-size="11.8" text-anchor="middle" fill="#222">6</text>
<line x1="520.95" y1="343.40" x2="520.95" y2="345.40" stroke="#7a7a7a" stroke-width="1"/>
<text x="520.05" y="356.50" font-size="11.8" text-anchor="middle" fill="#222">7</text>
<line x1="545.95" y1="343.40" x2="545.95" y2="345.40" stroke="#7a7a7a" stroke-width="1"/>
<text x="545.05" y="356.50" font-size="11.8" text-anchor="middle" fill="#222">8</text>
<line x1="570.95" y1="343.40" x2="570.95" y2="345.40" stroke="#7a7a7a" stroke-width="1"/>
<text x="570.05" y="356.50" font-size="11.8" text-anchor="middle" fill="#222">9</text>
<line x1="595.95" y1="343.40" x2="595.95" y2="345.40" stroke="#7a7a7a" stroke-width="1"/>
<text x="594.15" y="356.50" font-size="11.8" text-anchor="middle" fill="#222" textLength="10.2" lengthAdjust="spacingAndGlyphs">10</text>
<text x="520.95" y="221.00" font-size="12.2" text-anchor="middle">Δ<tspan font-style="italic">f</tspan><tspan font-style="italic" font-size="7.8" dy="2.5">P</tspan><tspan dy="-2.5"> = 3</tspan></text>
<text x="28.95" y="280.50" font-size="12.6" text-anchor="middle" fill="#222" textLength="141" lengthAdjust="spacingAndGlyphs" transform="rotate(-90 28.95 280.50)">Frequency for amplitude [Hz]</text>
<text x="346.05" y="378.50" font-size="12.6" text-anchor="middle" fill="#222" textLength="119.6" lengthAdjust="spacingAndGlyphs">Frequency for phase [Hz]</text>
<rect x="634.85" y="222.80" width="7.8" height="120.70" fill="url(#cbb)" stroke="#8a8a8a" stroke-width="0.8"/>
<line x1="642.65" y1="227.05" x2="644.65" y2="227.05" stroke="#555" stroke-width="1"/>
<text x="648.05" y="230.15" font-size="10.8" fill="#222" textLength="18.3" lengthAdjust="spacingAndGlyphs">0.14</text>
<line x1="642.65" y1="255.05" x2="644.65" y2="255.05" stroke="#555" stroke-width="1"/>
<text x="648.05" y="258.15" font-size="10.8" fill="#222" textLength="18.3" lengthAdjust="spacingAndGlyphs">0.07</text>
<line x1="642.65" y1="283.05" x2="644.65" y2="283.05" stroke="#555" stroke-width="1"/>
<text x="648.05" y="286.15" font-size="10.8" fill="#222">0</text>
<line x1="642.65" y1="311.05" x2="644.65" y2="311.05" stroke="#555" stroke-width="1"/>
<text x="648.05" y="314.15" font-size="10.8" fill="#222" textLength="21.4" lengthAdjust="spacingAndGlyphs">-0.07</text>
<line x1="642.65" y1="339.05" x2="644.65" y2="339.05" stroke="#555" stroke-width="1"/>
<text x="648.05" y="342.15" font-size="10.8" fill="#222" textLength="21.4" lengthAdjust="spacingAndGlyphs">-0.14</text>
<text x="640.85" y="217.90" font-size="9.0" text-anchor="middle" fill="#2f8cc4" style="stroke:#2f8cc4" textLength="29.1" lengthAdjust="spacingAndGlyphs">Reliable</text>
<text x="639.15" y="353.80" font-size="9.0" text-anchor="middle" fill="#555" style="stroke:#555" textLength="40.2" lengthAdjust="spacingAndGlyphs">Ambiguous</text>
<text x="680.35" y="281.90" font-size="11.6" text-anchor="middle" fill="#222" transform="rotate(-90 680.35 281.90)">MI</text>
<line x1="38.00" y1="412.00" x2="38.00" y2="540.20" stroke="#444" stroke-width="1.3"/>
<line x1="38.00" y1="540.20" x2="203.50" y2="540.20" stroke="#444" stroke-width="1.3"/>
<line x1="34.00" y1="540.20" x2="38.00" y2="540.20" stroke="#444" stroke-width="1.2"/>
<text x="31.70" y="544.10" font-size="11.8" text-anchor="end" fill="#222">0</text>
<line x1="34.00" y1="497.53" x2="38.00" y2="497.53" stroke="#444" stroke-width="1.2"/>
<text x="31.70" y="501.43" font-size="11.8" text-anchor="end" fill="#222" textLength="14.0" lengthAdjust="spacingAndGlyphs">0.1</text>
<line x1="34.00" y1="454.86" x2="38.00" y2="454.86" stroke="#444" stroke-width="1.2"/>
<text x="31.70" y="458.76" font-size="11.8" text-anchor="end" fill="#222" textLength="14.0" lengthAdjust="spacingAndGlyphs">0.2</text>
<line x1="34.00" y1="412.19" x2="38.00" y2="412.19" stroke="#444" stroke-width="1.2"/>
<text x="31.70" y="416.09" font-size="11.8" text-anchor="end" fill="#222" textLength="14.0" lengthAdjust="spacingAndGlyphs">0.3</text>
<line x1="38.00" y1="540.20" x2="38.00" y2="544.00" stroke="#444" stroke-width="1.2"/>
<text x="38.00" y="555.00" font-size="11.8" text-anchor="middle" fill="#222">0</text>
<line x1="77.40" y1="540.20" x2="77.40" y2="544.00" stroke="#444" stroke-width="1.2"/>
<text x="77.40" y="555.00" font-size="11.8" text-anchor="middle" fill="#222" textLength="14.0" lengthAdjust="spacingAndGlyphs">0.1</text>
<line x1="116.80" y1="540.20" x2="116.80" y2="544.00" stroke="#444" stroke-width="1.2"/>
<text x="116.80" y="555.00" font-size="11.8" text-anchor="middle" fill="#222" textLength="14.0" lengthAdjust="spacingAndGlyphs">0.2</text>
<line x1="156.20" y1="540.20" x2="156.20" y2="544.00" stroke="#444" stroke-width="1.2"/>
<text x="156.20" y="555.00" font-size="11.8" text-anchor="middle" fill="#222" textLength="14.0" lengthAdjust="spacingAndGlyphs">0.3</text>
<line x1="195.60" y1="540.20" x2="195.60" y2="544.00" stroke="#444" stroke-width="1.2"/>
<text x="195.60" y="555.00" font-size="11.8" text-anchor="middle" fill="#222" textLength="14.0" lengthAdjust="spacingAndGlyphs">0.4</text>
<text x="103.00" y="568.70" font-size="12.6" text-anchor="middle" fill="#222" textLength="56.4" lengthAdjust="spacingAndGlyphs">Noise Level</text>
<text x="13.50" y="474.50" font-size="11.6" text-anchor="middle" fill="#222" transform="rotate(-90 13.50 474.50)">MI</text>
<path d="M49.82,429.26 L57.70,480.89 L65.58,508.20 L73.46,521.43 L81.34,528.68 L89.22,533.80 L97.10,533.80 L104.98,533.80 L112.86,534.23 L120.74,534.23 L136.50,540.20 L156.20,540.20 L175.90,540.20 L195.60,540.20" fill="none" stroke="#0a6ecf" stroke-width="1.8" stroke-linejoin="round"/>
<circle cx="49.82" cy="429.26" r="4.30" fill="#0a6ecf"/>
<circle cx="57.70" cy="480.89" r="4.30" fill="#0a6ecf"/>
<circle cx="65.58" cy="508.20" r="4.30" fill="#0a6ecf"/>
<circle cx="73.46" cy="521.43" r="4.30" fill="#0a6ecf"/>
<circle cx="81.34" cy="528.68" r="4.30" fill="#0a6ecf"/>
<circle cx="89.22" cy="533.80" r="4.30" fill="#0a6ecf"/>
<circle cx="97.10" cy="533.80" r="4.30" fill="#0a6ecf"/>
<circle cx="104.98" cy="533.80" r="4.30" fill="#0a6ecf"/>
<circle cx="112.86" cy="534.23" r="4.30" fill="#0a6ecf"/>
<circle cx="120.74" cy="534.23" r="4.30" fill="#0a6ecf"/>
<circle cx="136.50" cy="540.20" r="4.30" fill="#0a6ecf"/>
<circle cx="156.20" cy="540.20" r="4.30" fill="#0a6ecf"/>
<circle cx="175.90" cy="540.20" r="4.30" fill="#0a6ecf"/>
<circle cx="195.60" cy="540.20" r="4.30" fill="#0a6ecf"/>
<path d="M49.82,442.06 L57.70,484.73 L65.58,510.33 L73.46,523.13 L81.34,530.81 L89.22,535.08 L97.10,535.93 L104.98,536.36 L112.86,537.21 L120.74,537.64 L136.50,540.20 L156.20,540.20 L175.90,540.20 L195.60,540.20" fill="none" stroke="#14afc9" stroke-width="1.8" stroke-linejoin="round"/>
<rect x="46.82" y="439.06" width="6.00" height="6.00" fill="#14afc9"/>
<rect x="54.70" y="481.73" width="6.00" height="6.00" fill="#14afc9"/>
<rect x="62.58" y="507.33" width="6.00" height="6.00" fill="#14afc9"/>
<rect x="70.46" y="520.13" width="6.00" height="6.00" fill="#14afc9"/>
<rect x="78.34" y="527.81" width="6.00" height="6.00" fill="#14afc9"/>
<rect x="86.22" y="532.08" width="6.00" height="6.00" fill="#14afc9"/>
<rect x="94.10" y="532.93" width="6.00" height="6.00" fill="#14afc9"/>
<rect x="101.98" y="533.36" width="6.00" height="6.00" fill="#14afc9"/>
<rect x="109.86" y="534.21" width="6.00" height="6.00" fill="#14afc9"/>
<rect x="117.74" y="534.64" width="6.00" height="6.00" fill="#14afc9"/>
<rect x="133.50" y="537.20" width="6.00" height="6.00" fill="#14afc9"/>
<rect x="153.20" y="537.20" width="6.00" height="6.00" fill="#14afc9"/>
<rect x="172.90" y="537.20" width="6.00" height="6.00" fill="#14afc9"/>
<rect x="192.60" y="537.20" width="6.00" height="6.00" fill="#14afc9"/>
<path d="M49.82,461.69 L57.70,496.68 L65.58,514.60 L73.46,525.27 L81.34,531.67 L89.22,535.93 L97.10,537.21 L104.98,538.07 L112.86,538.49 L120.74,538.49 L136.50,540.20 L156.20,540.20 L175.90,540.20 L195.60,540.20" fill="none" stroke="#a6e3ec" stroke-width="1.3" stroke-linejoin="round"/>
<path d="M49.82,458.49 L53.02,464.09 L46.62,464.09 Z" fill="#a6e3ec"/>
<path d="M57.70,493.48 L60.90,499.08 L54.50,499.08 Z" fill="#a6e3ec"/>
<path d="M65.58,511.40 L68.78,517.00 L62.38,517.00 Z" fill="#a6e3ec"/>
<path d="M73.46,522.07 L76.66,527.67 L70.26,527.67 Z" fill="#a6e3ec"/>
<path d="M81.34,528.47 L84.54,534.07 L78.14,534.07 Z" fill="#a6e3ec"/>
<path d="M89.22,532.73 L92.42,538.33 L86.02,538.33 Z" fill="#a6e3ec"/>
<path d="M97.10,534.01 L100.30,539.61 L93.90,539.61 Z" fill="#a6e3ec"/>
<path d="M104.98,534.87 L108.18,540.47 L101.78,540.47 Z" fill="#a6e3ec"/>
<path d="M112.86,535.29 L116.06,540.89 L109.66,540.89 Z" fill="#a6e3ec"/>
<path d="M120.74,535.29 L123.94,540.89 L117.54,540.89 Z" fill="#a6e3ec"/>
<path d="M136.50,537.00 L139.70,542.60 L133.30,542.60 Z" fill="#a6e3ec"/>
<path d="M156.20,537.00 L159.40,542.60 L153.00,542.60 Z" fill="#a6e3ec"/>
<path d="M175.90,537.00 L179.10,542.60 L172.70,542.60 Z" fill="#a6e3ec"/>
<path d="M195.60,537.00 L198.80,542.60 L192.40,542.60 Z" fill="#a6e3ec"/>
<line x1="138.70" y1="428.90" x2="161.40" y2="428.90" stroke="#0a6ecf" stroke-width="1.8"/>
<circle cx="149.70" cy="428.90" r="4.30" fill="#0a6ecf"/>
<text x="163.90" y="433.90" font-size="11.8" fill="#222">5</text>
<line x1="138.70" y1="443.60" x2="161.40" y2="443.60" stroke="#14afc9" stroke-width="1.8"/>
<rect x="146.70" y="440.60" width="6.00" height="6.00" fill="#14afc9"/>
<text x="163.90" y="448.60" font-size="11.8" fill="#222">7</text>
<line x1="138.70" y1="458.40" x2="161.40" y2="458.40" stroke="#a6e3ec" stroke-width="1.3"/>
<path d="M149.70,455.20 L152.90,460.80 L146.50,460.80 Z" fill="#a6e3ec"/>
<text x="163.90" y="463.40" font-size="11.8" fill="#222">10</text>
<text x="164.9" y="414.1" font-size="12" font-style="italic">w</text>
<line x1="247.60" y1="412.00" x2="247.60" y2="540.20" stroke="#444" stroke-width="1.3"/>
<line x1="247.60" y1="540.20" x2="413.10" y2="540.20" stroke="#444" stroke-width="1.3"/>
<line x1="243.60" y1="540.20" x2="247.60" y2="540.20" stroke="#444" stroke-width="1.2"/>
<text x="241.30" y="544.10" font-size="11.8" text-anchor="end" fill="#222">0</text>
<line x1="243.60" y1="497.53" x2="247.60" y2="497.53" stroke="#444" stroke-width="1.2"/>
<text x="241.30" y="501.43" font-size="11.8" text-anchor="end" fill="#222" textLength="14.0" lengthAdjust="spacingAndGlyphs">0.1</text>
<line x1="243.60" y1="454.86" x2="247.60" y2="454.86" stroke="#444" stroke-width="1.2"/>
<text x="241.30" y="458.76" font-size="11.8" text-anchor="end" fill="#222" textLength="14.0" lengthAdjust="spacingAndGlyphs">0.2</text>
<line x1="243.60" y1="412.19" x2="247.60" y2="412.19" stroke="#444" stroke-width="1.2"/>
<text x="241.30" y="416.09" font-size="11.8" text-anchor="end" fill="#222" textLength="14.0" lengthAdjust="spacingAndGlyphs">0.3</text>
<line x1="247.60" y1="540.20" x2="247.60" y2="544.00" stroke="#444" stroke-width="1.2"/>
<text x="247.60" y="555.00" font-size="11.8" text-anchor="middle" fill="#222">0</text>
<line x1="287.00" y1="540.20" x2="287.00" y2="544.00" stroke="#444" stroke-width="1.2"/>
<text x="287.00" y="555.00" font-size="11.8" text-anchor="middle" fill="#222" textLength="14.0" lengthAdjust="spacingAndGlyphs">0.1</text>
<line x1="326.40" y1="540.20" x2="326.40" y2="544.00" stroke="#444" stroke-width="1.2"/>
<text x="326.40" y="555.00" font-size="11.8" text-anchor="middle" fill="#222" textLength="14.0" lengthAdjust="spacingAndGlyphs">0.2</text>
<line x1="365.80" y1="540.20" x2="365.80" y2="544.00" stroke="#444" stroke-width="1.2"/>
<text x="365.80" y="555.00" font-size="11.8" text-anchor="middle" fill="#222" textLength="14.0" lengthAdjust="spacingAndGlyphs">0.3</text>
<line x1="405.20" y1="540.20" x2="405.20" y2="544.00" stroke="#444" stroke-width="1.2"/>
<text x="405.20" y="555.00" font-size="11.8" text-anchor="middle" fill="#222" textLength="14.0" lengthAdjust="spacingAndGlyphs">0.4</text>
<text x="312.60" y="568.70" font-size="12.6" text-anchor="middle" fill="#222" textLength="56.4" lengthAdjust="spacingAndGlyphs">Noise Level</text>
<text x="223.10" y="474.50" font-size="11.6" text-anchor="middle" fill="#222" transform="rotate(-90 223.10 474.50)">MI</text>
<path d="M259.42,429.26 L267.30,481.32 L275.18,508.20 L283.06,521.43 L290.94,529.11 L298.82,533.80 L306.70,534.65 L314.58,535.08 L322.46,534.23 L330.34,534.23 L346.10,540.20 L365.80,540.20 L385.50,540.20 L405.20,540.20" fill="none" stroke="#0a6ecf" stroke-width="1.8" stroke-linejoin="round"/>
<circle cx="259.42" cy="429.26" r="4.30" fill="#0a6ecf"/>
<circle cx="267.30" cy="481.32" r="4.30" fill="#0a6ecf"/>
<circle cx="275.18" cy="508.20" r="4.30" fill="#0a6ecf"/>
<circle cx="283.06" cy="521.43" r="4.30" fill="#0a6ecf"/>
<circle cx="290.94" cy="529.11" r="4.30" fill="#0a6ecf"/>
<circle cx="298.82" cy="533.80" r="4.30" fill="#0a6ecf"/>
<circle cx="306.70" cy="534.65" r="4.30" fill="#0a6ecf"/>
<circle cx="314.58" cy="535.08" r="4.30" fill="#0a6ecf"/>
<circle cx="322.46" cy="534.23" r="4.30" fill="#0a6ecf"/>
<circle cx="330.34" cy="534.23" r="4.30" fill="#0a6ecf"/>
<circle cx="346.10" cy="540.20" r="4.30" fill="#0a6ecf"/>
<circle cx="365.80" cy="540.20" r="4.30" fill="#0a6ecf"/>
<circle cx="385.50" cy="540.20" r="4.30" fill="#0a6ecf"/>
<circle cx="405.20" cy="540.20" r="4.30" fill="#0a6ecf"/>
<path d="M259.42,429.26 L267.30,481.74 L275.18,508.62 L283.06,521.85 L290.94,529.53 L298.82,534.23 L306.70,534.65 L314.58,534.65 L322.46,540.20 L330.34,540.20 L346.10,540.20 L365.80,540.20 L385.50,540.20 L405.20,540.20" fill="none" stroke="#14afc9" stroke-width="1.8" stroke-linejoin="round"/>
<rect x="256.42" y="426.26" width="6.00" height="6.00" fill="#14afc9"/>
<rect x="264.30" y="478.74" width="6.00" height="6.00" fill="#14afc9"/>
<rect x="272.18" y="505.62" width="6.00" height="6.00" fill="#14afc9"/>
<rect x="280.06" y="518.85" width="6.00" height="6.00" fill="#14afc9"/>
<rect x="287.94" y="526.53" width="6.00" height="6.00" fill="#14afc9"/>
<rect x="295.82" y="531.23" width="6.00" height="6.00" fill="#14afc9"/>
<rect x="303.70" y="531.65" width="6.00" height="6.00" fill="#14afc9"/>
<rect x="311.58" y="531.65" width="6.00" height="6.00" fill="#14afc9"/>
<rect x="319.46" y="537.20" width="6.00" height="6.00" fill="#14afc9"/>
<rect x="327.34" y="537.20" width="6.00" height="6.00" fill="#14afc9"/>
<rect x="343.10" y="537.20" width="6.00" height="6.00" fill="#14afc9"/>
<rect x="362.80" y="537.20" width="6.00" height="6.00" fill="#14afc9"/>
<rect x="382.50" y="537.20" width="6.00" height="6.00" fill="#14afc9"/>
<rect x="402.20" y="537.20" width="6.00" height="6.00" fill="#14afc9"/>
<path d="M259.42,429.68 L267.30,481.74 L275.18,508.62 L283.06,521.85 L290.94,529.53 L298.82,533.80 L306.70,534.23 L314.58,534.65 L322.46,540.20 L330.34,540.20 L346.10,540.20 L365.80,540.20 L385.50,540.20 L405.20,540.20" fill="none" stroke="#a6e3ec" stroke-width="1.3" stroke-linejoin="round"/>
<path d="M259.42,426.48 L262.62,432.08 L256.22,432.08 Z" fill="#a6e3ec"/>
<path d="M267.30,478.54 L270.50,484.14 L264.10,484.14 Z" fill="#a6e3ec"/>
<path d="M275.18,505.42 L278.38,511.02 L271.98,511.02 Z" fill="#a6e3ec"/>
<path d="M283.06,518.65 L286.26,524.25 L279.86,524.25 Z" fill="#a6e3ec"/>
<path d="M290.94,526.33 L294.14,531.93 L287.74,531.93 Z" fill="#a6e3ec"/>
<path d="M298.82,530.60 L302.02,536.20 L295.62,536.20 Z" fill="#a6e3ec"/>
<path d="M306.70,531.03 L309.90,536.63 L303.50,536.63 Z" fill="#a6e3ec"/>
<path d="M314.58,531.45 L317.78,537.05 L311.38,537.05 Z" fill="#a6e3ec"/>
<path d="M322.46,537.00 L325.66,542.60 L319.26,542.60 Z" fill="#a6e3ec"/>
<path d="M330.34,537.00 L333.54,542.60 L327.14,542.60 Z" fill="#a6e3ec"/>
<path d="M346.10,537.00 L349.30,542.60 L342.90,542.60 Z" fill="#a6e3ec"/>
<path d="M365.80,537.00 L369.00,542.60 L362.60,542.60 Z" fill="#a6e3ec"/>
<path d="M385.50,537.00 L388.70,542.60 L382.30,542.60 Z" fill="#a6e3ec"/>
<path d="M405.20,537.00 L408.40,542.60 L402.00,542.60 Z" fill="#a6e3ec"/>
<line x1="352.40" y1="428.90" x2="375.10" y2="428.90" stroke="#0a6ecf" stroke-width="1.8"/>
<circle cx="363.40" cy="428.90" r="4.30" fill="#0a6ecf"/>
<text x="377.60" y="433.90" font-size="11.8" fill="#222">1</text>
<line x1="352.40" y1="443.60" x2="375.10" y2="443.60" stroke="#14afc9" stroke-width="1.8"/>
<rect x="360.40" y="440.60" width="6.00" height="6.00" fill="#14afc9"/>
<text x="377.60" y="448.60" font-size="11.8" fill="#222">2</text>
<line x1="352.40" y1="458.40" x2="375.10" y2="458.40" stroke="#a6e3ec" stroke-width="1.3"/>
<path d="M363.40,455.20 L366.60,460.80 L360.20,460.80 Z" fill="#a6e3ec"/>
<text x="377.60" y="463.40" font-size="11.8" fill="#222">3</text>
<text x="374" y="415" font-size="12.2">Δ<tspan font-style="italic">f</tspan><tspan font-style="italic" font-size="7.8" dy="2.5">P</tspan></text>
<rect x="455.80" y="539.35" width="2.35" height="2.95" fill="#40c8dc"/>
<rect x="455.80" y="532.85" width="2.35" height="7.50" fill="#3ac6da"/>
<rect x="455.80" y="526.35" width="2.35" height="7.50" fill="#47cade"/>
<rect x="455.80" y="519.85" width="2.35" height="7.50" fill="#44c9dd"/>
<rect x="455.80" y="513.35" width="2.35" height="7.50" fill="#4fcce0"/>
<rect x="455.80" y="506.85" width="2.35" height="7.50" fill="#4ccbdf"/>
<rect x="455.80" y="500.35" width="2.35" height="7.50" fill="#53cde1"/>
<rect x="455.80" y="493.85" width="2.35" height="7.50" fill="#4fcce0"/>
<rect x="455.80" y="487.35" width="2.35" height="7.50" fill="#5ccfe2"/>
<rect x="455.80" y="480.85" width="2.35" height="7.50" fill="#67d2e5"/>
<rect x="455.80" y="474.35" width="2.35" height="7.50" fill="#73d5e7"/>
<rect x="455.80" y="467.85" width="2.35" height="7.50" fill="#98dfec"/>
<rect x="455.80" y="461.35" width="2.35" height="7.50" fill="#9ee0ed"/>
<rect x="455.80" y="454.85" width="2.35" height="7.50" fill="#aee5f0"/>
<rect x="455.80" y="448.35" width="2.35" height="7.50" fill="#c8eef5"/>
<rect x="455.80" y="441.85" width="2.35" height="7.50" fill="#e6f7fa"/>
<rect x="457.15" y="539.35" width="2.35" height="2.95" fill="#3bc6da"/>
<rect x="457.15" y="532.85" width="2.35" height="7.50" fill="#34bfd8"/>
<rect x="457.15" y="526.35" width="2.35" height="7.50" fill="#3ac6da"/>
<rect x="457.15" y="519.85" width="2.35" height="7.50" fill="#3dc7db"/>
<rect x="457.15" y="513.35" width="2.35" height="7.50" fill="#40c8dc"/>
<rect x="457.15" y="506.85" width="2.35" height="7.50" fill="#39c5da"/>
<rect x="457.15" y="500.35" width="2.35" height="7.50" fill="#3dc7db"/>
<rect x="457.15" y="493.85" width="2.35" height="7.50" fill="#47cade"/>
<rect x="457.15" y="487.35" width="2.35" height="7.50" fill="#53cde1"/>
<rect x="457.15" y="480.85" width="2.35" height="7.50" fill="#63d1e4"/>
<rect x="457.15" y="474.35" width="2.35" height="7.50" fill="#72d5e7"/>
<rect x="457.15" y="467.85" width="2.35" height="7.50" fill="#85d9ea"/>
<rect x="457.15" y="461.35" width="2.35" height="7.50" fill="#a7e3ee"/>
<rect x="457.15" y="454.85" width="2.35" height="7.50" fill="#b0e6f0"/>
<rect x="457.15" y="448.35" width="2.35" height="7.50" fill="#c2ecf4"/>
<rect x="458.50" y="539.35" width="2.35" height="2.95" fill="#36c1d9"/>
<rect x="458.50" y="532.85" width="2.35" height="7.50" fill="#2db6d5"/>
<rect x="458.50" y="526.35" width="2.35" height="7.50" fill="#38c4d9"/>
<rect x="458.50" y="519.85" width="2.35" height="7.50" fill="#3ac6da"/>
<rect x="458.50" y="513.35" width="2.35" height="7.50" fill="#3dc7db"/>
<rect x="458.50" y="506.85" width="2.35" height="7.50" fill="#39c5da"/>
<rect x="458.50" y="500.35" width="2.35" height="7.50" fill="#3bc6da"/>
<rect x="458.50" y="493.85" width="2.35" height="7.50" fill="#48cade"/>
<rect x="458.50" y="487.35" width="2.35" height="7.50" fill="#4dcbdf"/>
<rect x="458.50" y="480.85" width="2.35" height="7.50" fill="#4acade"/>
<rect x="458.50" y="474.35" width="2.35" height="7.50" fill="#64d1e4"/>
<rect x="458.50" y="467.85" width="2.35" height="7.50" fill="#7cd7e9"/>
<rect x="458.50" y="461.35" width="2.35" height="7.50" fill="#7ed8e9"/>
<rect x="458.50" y="454.85" width="2.35" height="7.50" fill="#aae4ef"/>
<rect x="458.50" y="448.35" width="2.35" height="7.50" fill="#a8e3ef"/>
<rect x="458.50" y="441.85" width="2.35" height="7.50" fill="#f5fcfd"/>
<rect x="459.85" y="539.35" width="2.35" height="2.95" fill="#3ec7db"/>
<rect x="459.85" y="532.85" width="2.35" height="7.50" fill="#3bc6da"/>
<rect x="459.85" y="526.35" width="2.35" height="7.50" fill="#3cc6da"/>
<rect x="459.85" y="519.85" width="2.35" height="7.50" fill="#3ac6da"/>
<rect x="459.85" y="513.35" width="2.35" height="7.50" fill="#3ac6da"/>
<rect x="459.85" y="506.85" width="2.35" height="7.50" fill="#3dc7db"/>
<rect x="459.85" y="500.35" width="2.35" height="7.50" fill="#44c9dd"/>
<rect x="459.85" y="493.85" width="2.35" height="7.50" fill="#4acade"/>
<rect x="459.85" y="487.35" width="2.35" height="7.50" fill="#52cce0"/>
<rect x="459.85" y="480.85" width="2.35" height="7.50" fill="#6bd3e5"/>
<rect x="459.85" y="474.35" width="2.35" height="7.50" fill="#72d5e7"/>
<rect x="459.85" y="467.85" width="2.35" height="7.50" fill="#88daea"/>
<rect x="459.85" y="461.35" width="2.35" height="7.50" fill="#a4e2ee"/>
<rect x="459.85" y="454.85" width="2.35" height="7.50" fill="#b6e8f1"/>
<rect x="459.85" y="448.35" width="2.35" height="7.50" fill="#cef0f6"/>
<rect x="461.20" y="539.35" width="2.35" height="2.95" fill="#66d2e4"/>
<rect x="461.20" y="532.85" width="2.35" height="7.50" fill="#5bcfe2"/>
<rect x="461.20" y="526.35" width="2.35" height="7.50" fill="#68d2e5"/>
<rect x="461.20" y="519.85" width="2.35" height="7.50" fill="#6cd3e6"/>
<rect x="461.20" y="513.35" width="2.35" height="7.50" fill="#69d2e5"/>
<rect x="461.20" y="506.85" width="2.35" height="7.50" fill="#6bd3e5"/>
<rect x="461.20" y="500.35" width="2.35" height="7.50" fill="#6fd4e6"/>
<rect x="461.20" y="493.85" width="2.35" height="7.50" fill="#74d5e7"/>
<rect x="461.20" y="487.35" width="2.35" height="7.50" fill="#8adbea"/>
<rect x="461.20" y="480.85" width="2.35" height="7.50" fill="#a3e1ee"/>
<rect x="461.20" y="474.35" width="2.35" height="7.50" fill="#a7e3ee"/>
<rect x="461.20" y="467.85" width="2.35" height="7.50" fill="#b1e6f0"/>
<rect x="461.20" y="461.35" width="2.35" height="7.50" fill="#c3ecf4"/>
<rect x="461.20" y="454.85" width="2.35" height="7.50" fill="#cef0f6"/>
<rect x="461.20" y="448.35" width="2.35" height="7.50" fill="#dff4f9"/>
<rect x="462.54" y="539.35" width="2.35" height="2.95" fill="#38c4d9"/>
<rect x="462.54" y="532.85" width="2.35" height="7.50" fill="#34c0d8"/>
<rect x="462.54" y="526.35" width="2.35" height="7.50" fill="#46c9dd"/>
<rect x="462.54" y="519.85" width="2.35" height="7.50" fill="#43c9dd"/>
<rect x="462.54" y="513.35" width="2.35" height="7.50" fill="#3cc7db"/>
<rect x="462.54" y="506.85" width="2.35" height="7.50" fill="#3dc7db"/>
<rect x="462.54" y="500.35" width="2.35" height="7.50" fill="#45c9dd"/>
<rect x="462.54" y="493.85" width="2.35" height="7.50" fill="#46c9dd"/>
<rect x="462.54" y="487.35" width="2.35" height="7.50" fill="#4ccbdf"/>
<rect x="462.54" y="480.85" width="2.35" height="7.50" fill="#4ecbdf"/>
<rect x="462.54" y="474.35" width="2.35" height="7.50" fill="#6dd3e6"/>
<rect x="462.54" y="467.85" width="2.35" height="7.50" fill="#80d8e9"/>
<rect x="462.54" y="461.35" width="2.35" height="7.50" fill="#88daea"/>
<rect x="462.54" y="454.85" width="2.35" height="7.50" fill="#aae4ef"/>
<rect x="462.54" y="448.35" width="2.35" height="7.50" fill="#b8e9f2"/>
<rect x="462.54" y="441.85" width="2.35" height="7.50" fill="#cceff6"/>
<rect x="463.89" y="539.35" width="2.35" height="2.95" fill="#38c3d9"/>
<rect x="463.89" y="532.85" width="2.35" height="7.50" fill="#36c1d9"/>
<rect x="463.89" y="526.35" width="2.35" height="7.50" fill="#39c5da"/>
<rect x="463.89" y="519.85" width="2.35" height="7.50" fill="#42c8dc"/>
<rect x="463.89" y="513.35" width="2.35" height="7.50" fill="#3ec7db"/>
<rect x="463.89" y="506.85" width="2.35" height="7.50" fill="#3fc7db"/>
<rect x="463.89" y="500.35" width="2.35" height="7.50" fill="#3fc7db"/>
<rect x="463.89" y="493.85" width="2.35" height="7.50" fill="#45c9dd"/>
<rect x="463.89" y="487.35" width="2.35" height="7.50" fill="#53cde1"/>
<rect x="463.89" y="480.85" width="2.35" height="7.50" fill="#52cde0"/>
<rect x="463.89" y="474.35" width="2.35" height="7.50" fill="#7ed8e9"/>
<rect x="463.89" y="467.85" width="2.35" height="7.50" fill="#89dbea"/>
<rect x="463.89" y="461.35" width="2.35" height="7.50" fill="#9bdfed"/>
<rect x="463.89" y="454.85" width="2.35" height="7.50" fill="#b4e7f1"/>
<rect x="463.89" y="448.35" width="2.35" height="7.50" fill="#e3f6fa"/>
<rect x="465.24" y="539.35" width="2.35" height="2.95" fill="#2fb9d6"/>
<rect x="465.24" y="532.85" width="2.35" height="7.50" fill="#2bb2d4"/>
<rect x="465.24" y="526.35" width="2.35" height="7.50" fill="#30bad7"/>
<rect x="465.24" y="519.85" width="2.35" height="7.50" fill="#30bad7"/>
<rect x="465.24" y="513.35" width="2.35" height="7.50" fill="#2db4d5"/>
<rect x="465.24" y="506.85" width="2.35" height="7.50" fill="#2eb8d6"/>
<rect x="465.24" y="500.35" width="2.35" height="7.50" fill="#2fbad6"/>
<rect x="465.24" y="493.85" width="2.35" height="7.50" fill="#3ac6da"/>
<rect x="465.24" y="487.35" width="2.35" height="7.50" fill="#37c2d9"/>
<rect x="465.24" y="480.85" width="2.35" height="7.50" fill="#47cade"/>
<rect x="465.24" y="474.35" width="2.35" height="7.50" fill="#4dcbdf"/>
<rect x="465.24" y="467.85" width="2.35" height="7.50" fill="#5acee2"/>
<rect x="465.24" y="461.35" width="2.35" height="7.50" fill="#5dcfe3"/>
<rect x="465.24" y="454.85" width="2.35" height="7.50" fill="#91ddeb"/>
<rect x="465.24" y="448.35" width="2.35" height="7.50" fill="#94ddec"/>
<rect x="465.24" y="441.85" width="2.35" height="7.50" fill="#d4f2f7"/>
<rect x="465.24" y="435.35" width="2.35" height="7.50" fill="#f6fcfd"/>
<rect x="465.24" y="425.60" width="2.35" height="4.25" fill="#f7fcfd"/>
<rect x="466.59" y="539.35" width="2.35" height="2.95" fill="#3dc7db"/>
<rect x="466.59" y="532.85" width="2.35" height="7.50" fill="#3bc6da"/>
<rect x="466.59" y="526.35" width="2.35" height="7.50" fill="#40c8dc"/>
<rect x="466.59" y="519.85" width="2.35" height="7.50" fill="#47c9dd"/>
<rect x="466.59" y="513.35" width="2.35" height="7.50" fill="#45c9dd"/>
<rect x="466.59" y="506.85" width="2.35" height="7.50" fill="#44c9dd"/>
<rect x="466.59" y="500.35" width="2.35" height="7.50" fill="#48cade"/>
<rect x="466.59" y="493.85" width="2.35" height="7.50" fill="#45c9dd"/>
<rect x="466.59" y="487.35" width="2.35" height="7.50" fill="#55cde1"/>
<rect x="466.59" y="480.85" width="2.35" height="7.50" fill="#68d2e5"/>
<rect x="466.59" y="474.35" width="2.35" height="7.50" fill="#71d4e7"/>
<rect x="466.59" y="467.85" width="2.35" height="7.50" fill="#86daea"/>
<rect x="466.59" y="461.35" width="2.35" height="7.50" fill="#a0e1ed"/>
<rect x="466.59" y="454.85" width="2.35" height="7.50" fill="#a9e3ef"/>
<rect x="466.59" y="448.35" width="2.35" height="7.50" fill="#b5e7f1"/>
<rect x="466.59" y="441.85" width="2.35" height="7.50" fill="#e8f7fb"/>
<rect x="467.94" y="539.35" width="2.35" height="2.95" fill="#3bc6da"/>
<rect x="467.94" y="532.85" width="2.35" height="7.50" fill="#40c8dc"/>
<rect x="467.94" y="526.35" width="2.35" height="7.50" fill="#42c8dc"/>
<rect x="467.94" y="519.85" width="2.35" height="7.50" fill="#4acade"/>
<rect x="467.94" y="513.35" width="2.35" height="7.50" fill="#4acade"/>
<rect x="467.94" y="506.85" width="2.35" height="7.50" fill="#43c8dc"/>
<rect x="467.94" y="500.35" width="2.35" height="7.50" fill="#4ccbdf"/>
<rect x="467.94" y="493.85" width="2.35" height="7.50" fill="#4fcce0"/>
<rect x="467.94" y="487.35" width="2.35" height="7.50" fill="#54cde1"/>
<rect x="467.94" y="480.85" width="2.35" height="7.50" fill="#6ed4e6"/>
<rect x="467.94" y="474.35" width="2.35" height="7.50" fill="#74d5e7"/>
<rect x="467.94" y="467.85" width="2.35" height="7.50" fill="#97deec"/>
<rect x="467.94" y="461.35" width="2.35" height="7.50" fill="#a7e3ee"/>
<rect x="467.94" y="454.85" width="2.35" height="7.50" fill="#b9e9f2"/>
<rect x="467.94" y="448.35" width="2.35" height="7.50" fill="#c3ecf4"/>
<rect x="467.94" y="441.85" width="2.35" height="7.50" fill="#f7fcfd"/>
<rect x="469.29" y="539.35" width="2.35" height="2.95" fill="#39c4da"/>
<rect x="469.29" y="532.85" width="2.35" height="7.50" fill="#30bbd7"/>
<rect x="469.29" y="526.35" width="2.35" height="7.50" fill="#41c8dc"/>
<rect x="469.29" y="519.85" width="2.35" height="7.50" fill="#3ec7db"/>
<rect x="469.29" y="513.35" width="2.35" height="7.50" fill="#40c8dc"/>
<rect x="469.29" y="506.85" width="2.35" height="7.50" fill="#37c3d9"/>
<rect x="469.29" y="500.35" width="2.35" height="7.50" fill="#3cc6da"/>
<rect x="469.29" y="493.85" width="2.35" height="7.50" fill="#41c8dc"/>
<rect x="469.29" y="487.35" width="2.35" height="7.50" fill="#44c9dd"/>
<rect x="469.29" y="480.85" width="2.35" height="7.50" fill="#4fcce0"/>
<rect x="469.29" y="474.35" width="2.35" height="7.50" fill="#64d1e4"/>
<rect x="469.29" y="467.85" width="2.35" height="7.50" fill="#79d6e8"/>
<rect x="469.29" y="461.35" width="2.35" height="7.50" fill="#98deec"/>
<rect x="469.29" y="454.85" width="2.35" height="7.50" fill="#9adfed"/>
<rect x="469.29" y="448.35" width="2.35" height="7.50" fill="#b8e8f2"/>
<rect x="469.29" y="441.85" width="2.35" height="7.50" fill="#e6f7fa"/>
<rect x="470.64" y="539.35" width="2.35" height="2.95" fill="#33bdd8"/>
<rect x="470.64" y="532.85" width="2.35" height="7.50" fill="#30bad7"/>
<rect x="470.64" y="526.35" width="2.35" height="7.50" fill="#36c2d9"/>
<rect x="470.64" y="519.85" width="2.35" height="7.50" fill="#3ec7db"/>
<rect x="470.64" y="513.35" width="2.35" height="7.50" fill="#39c5da"/>
<rect x="470.64" y="506.85" width="2.35" height="7.50" fill="#40c8dc"/>
<rect x="470.64" y="500.35" width="2.35" height="7.50" fill="#45c9dd"/>
<rect x="470.64" y="493.85" width="2.35" height="7.50" fill="#44c9dd"/>
<rect x="470.64" y="487.35" width="2.35" height="7.50" fill="#54cde1"/>
<rect x="470.64" y="480.85" width="2.35" height="7.50" fill="#60d0e3"/>
<rect x="470.64" y="474.35" width="2.35" height="7.50" fill="#66d2e4"/>
<rect x="470.64" y="467.85" width="2.35" height="7.50" fill="#7ad6e8"/>
<rect x="470.64" y="461.35" width="2.35" height="7.50" fill="#99dfec"/>
<rect x="470.64" y="454.85" width="2.35" height="7.50" fill="#b4e7f1"/>
<rect x="470.64" y="448.35" width="2.35" height="7.50" fill="#daf3f8"/>
<rect x="471.99" y="539.35" width="2.35" height="2.95" fill="#31bbd7"/>
<rect x="471.99" y="532.85" width="2.35" height="7.50" fill="#2eb8d6"/>
<rect x="471.99" y="526.35" width="2.35" height="7.50" fill="#35c0d8"/>
<rect x="471.99" y="519.85" width="2.35" height="7.50" fill="#36c1d9"/>
<rect x="471.99" y="513.35" width="2.35" height="7.50" fill="#37c3d9"/>
<rect x="471.99" y="506.85" width="2.35" height="7.50" fill="#34bfd8"/>
<rect x="471.99" y="500.35" width="2.35" height="7.50" fill="#36c2d9"/>
<rect x="471.99" y="493.85" width="2.35" height="7.50" fill="#46c9dd"/>
<rect x="471.99" y="487.35" width="2.35" height="7.50" fill="#48cade"/>
<rect x="471.99" y="480.85" width="2.35" height="7.50" fill="#52cce0"/>
<rect x="471.99" y="474.35" width="2.35" height="7.50" fill="#5ecfe3"/>
<rect x="471.99" y="467.85" width="2.35" height="7.50" fill="#85daea"/>
<rect x="471.99" y="461.35" width="2.35" height="7.50" fill="#93ddec"/>
<rect x="471.99" y="454.85" width="2.35" height="7.50" fill="#a8e3ef"/>
<rect x="471.99" y="448.35" width="2.35" height="7.50" fill="#cff0f6"/>
<rect x="473.34" y="539.35" width="2.35" height="2.95" fill="#42c8dc"/>
<rect x="473.34" y="532.85" width="2.35" height="7.50" fill="#41c8dc"/>
<rect x="473.34" y="526.35" width="2.35" height="7.50" fill="#4ccbdf"/>
<rect x="473.34" y="519.85" width="2.35" height="7.50" fill="#44c9dd"/>
<rect x="473.34" y="513.35" width="2.35" height="7.50" fill="#4ecbdf"/>
<rect x="473.34" y="506.85" width="2.35" height="7.50" fill="#4ccbdf"/>
<rect x="473.34" y="500.35" width="2.35" height="7.50" fill="#4ccbdf"/>
<rect x="473.34" y="493.85" width="2.35" height="7.50" fill="#58cee2"/>
<rect x="473.34" y="487.35" width="2.35" height="7.50" fill="#5bcfe2"/>
<rect x="473.34" y="480.85" width="2.35" height="7.50" fill="#76d5e8"/>
<rect x="473.34" y="474.35" width="2.35" height="7.50" fill="#8bdbeb"/>
<rect x="473.34" y="467.85" width="2.35" height="7.50" fill="#93ddec"/>
<rect x="473.34" y="461.35" width="2.35" height="7.50" fill="#aee5f0"/>
<rect x="473.34" y="454.85" width="2.35" height="7.50" fill="#c0ebf3"/>
<rect x="473.34" y="448.35" width="2.35" height="7.50" fill="#cdeff6"/>
<rect x="474.68" y="539.35" width="2.35" height="2.95" fill="#50cce0"/>
<rect x="474.68" y="532.85" width="2.35" height="7.50" fill="#4dcbdf"/>
<rect x="474.68" y="526.35" width="2.35" height="7.50" fill="#55cde1"/>
<rect x="474.68" y="519.85" width="2.35" height="7.50" fill="#49cade"/>
<rect x="474.68" y="513.35" width="2.35" height="7.50" fill="#4ccbdf"/>
<rect x="474.68" y="506.85" width="2.35" height="7.50" fill="#5acee2"/>
<rect x="474.68" y="500.35" width="2.35" height="7.50" fill="#5ecfe3"/>
<rect x="474.68" y="493.85" width="2.35" height="7.50" fill="#69d2e5"/>
<rect x="474.68" y="487.35" width="2.35" height="7.50" fill="#71d4e7"/>
<rect x="474.68" y="480.85" width="2.35" height="7.50" fill="#8adbea"/>
<rect x="474.68" y="474.35" width="2.35" height="7.50" fill="#90dceb"/>
<rect x="474.68" y="467.85" width="2.35" height="7.50" fill="#abe4ef"/>
<rect x="474.68" y="461.35" width="2.35" height="7.50" fill="#c0ebf3"/>
<rect x="474.68" y="454.85" width="2.35" height="7.50" fill="#cceff6"/>
<rect x="474.68" y="448.35" width="2.35" height="7.50" fill="#d4f1f7"/>
<rect x="476.03" y="539.35" width="2.35" height="2.95" fill="#30bbd7"/>
<rect x="476.03" y="532.85" width="2.35" height="7.50" fill="#34bfd8"/>
<rect x="476.03" y="526.35" width="2.35" height="7.50" fill="#40c8dc"/>
<rect x="476.03" y="519.85" width="2.35" height="7.50" fill="#41c8dc"/>
<rect x="476.03" y="513.35" width="2.35" height="7.50" fill="#39c5da"/>
<rect x="476.03" y="506.85" width="2.35" height="7.50" fill="#40c8dc"/>
<rect x="476.03" y="500.35" width="2.35" height="7.50" fill="#46c9dd"/>
<rect x="476.03" y="493.85" width="2.35" height="7.50" fill="#4dcbdf"/>
<rect x="476.03" y="487.35" width="2.35" height="7.50" fill="#54cde1"/>
<rect x="476.03" y="480.85" width="2.35" height="7.50" fill="#56cde1"/>
<rect x="476.03" y="474.35" width="2.35" height="7.50" fill="#69d2e5"/>
<rect x="476.03" y="467.85" width="2.35" height="7.50" fill="#80d8e9"/>
<rect x="476.03" y="461.35" width="2.35" height="7.50" fill="#91ddeb"/>
<rect x="476.03" y="454.85" width="2.35" height="7.50" fill="#aee5f0"/>
<rect x="476.03" y="448.35" width="2.35" height="7.50" fill="#b6e8f1"/>
<rect x="476.03" y="441.85" width="2.35" height="7.50" fill="#edf9fc"/>
<rect x="477.38" y="539.35" width="2.35" height="2.95" fill="#2eb8d6"/>
<rect x="477.38" y="532.85" width="2.35" height="7.50" fill="#2bb0d3"/>
<rect x="477.38" y="526.35" width="2.35" height="7.50" fill="#2db6d5"/>
<rect x="477.38" y="519.85" width="2.35" height="7.50" fill="#30bbd7"/>
<rect x="477.38" y="513.35" width="2.35" height="7.50" fill="#2eb7d6"/>
<rect x="477.38" y="506.85" width="2.35" height="7.50" fill="#2db6d5"/>
<rect x="477.38" y="500.35" width="2.35" height="7.50" fill="#36c1d9"/>
<rect x="477.38" y="493.85" width="2.35" height="7.50" fill="#3ac6da"/>
<rect x="477.38" y="487.35" width="2.35" height="7.50" fill="#44c9dd"/>
<rect x="477.38" y="480.85" width="2.35" height="7.50" fill="#44c9dd"/>
<rect x="477.38" y="474.35" width="2.35" height="7.50" fill="#58cee2"/>
<rect x="477.38" y="467.85" width="2.35" height="7.50" fill="#73d5e7"/>
<rect x="477.38" y="461.35" width="2.35" height="7.50" fill="#7dd7e9"/>
<rect x="477.38" y="454.85" width="2.35" height="7.50" fill="#a3e1ee"/>
<rect x="477.38" y="448.35" width="2.35" height="7.50" fill="#b1e6f0"/>
<rect x="477.38" y="441.85" width="2.35" height="7.50" fill="#f7fcfd"/>
<rect x="478.73" y="539.35" width="2.35" height="2.95" fill="#33bed8"/>
<rect x="478.73" y="532.85" width="2.35" height="7.50" fill="#32bdd7"/>
<rect x="478.73" y="526.35" width="2.35" height="7.50" fill="#3bc6da"/>
<rect x="478.73" y="519.85" width="2.35" height="7.50" fill="#3ec7db"/>
<rect x="478.73" y="513.35" width="2.35" height="7.50" fill="#3bc6da"/>
<rect x="478.73" y="506.85" width="2.35" height="7.50" fill="#39c5da"/>
<rect x="478.73" y="500.35" width="2.35" height="7.50" fill="#3fc7db"/>
<rect x="478.73" y="493.85" width="2.35" height="7.50" fill="#3cc6da"/>
<rect x="478.73" y="487.35" width="2.35" height="7.50" fill="#48cade"/>
<rect x="478.73" y="480.85" width="2.35" height="7.50" fill="#4ecbdf"/>
<rect x="478.73" y="474.35" width="2.35" height="7.50" fill="#6cd3e6"/>
<rect x="478.73" y="467.85" width="2.35" height="7.50" fill="#83d9ea"/>
<rect x="478.73" y="461.35" width="2.35" height="7.50" fill="#96deec"/>
<rect x="478.73" y="454.85" width="2.35" height="7.50" fill="#aae4ef"/>
<rect x="478.73" y="448.35" width="2.35" height="7.50" fill="#b2e7f1"/>
<rect x="480.08" y="539.35" width="2.35" height="2.95" fill="#3ac6da"/>
<rect x="480.08" y="532.85" width="2.35" height="7.50" fill="#39c5da"/>
<rect x="480.08" y="526.35" width="2.35" height="7.50" fill="#43c8dc"/>
<rect x="480.08" y="519.85" width="2.35" height="7.50" fill="#48cade"/>
<rect x="480.08" y="513.35" width="2.35" height="7.50" fill="#43c9dd"/>
<rect x="480.08" y="506.85" width="2.35" height="7.50" fill="#41c8dc"/>
<rect x="480.08" y="500.35" width="2.35" height="7.50" fill="#4bcbdf"/>
<rect x="480.08" y="493.85" width="2.35" height="7.50" fill="#4ecce0"/>
<rect x="480.08" y="487.35" width="2.35" height="7.50" fill="#50cce0"/>
<rect x="480.08" y="480.85" width="2.35" height="7.50" fill="#68d2e5"/>
<rect x="480.08" y="474.35" width="2.35" height="7.50" fill="#75d5e7"/>
<rect x="480.08" y="467.85" width="2.35" height="7.50" fill="#9adfed"/>
<rect x="480.08" y="461.35" width="2.35" height="7.50" fill="#a8e3ef"/>
<rect x="480.08" y="454.85" width="2.35" height="7.50" fill="#c1ecf4"/>
<rect x="480.08" y="448.35" width="2.35" height="7.50" fill="#d1f0f7"/>
<rect x="481.43" y="539.35" width="2.35" height="2.95" fill="#5acee2"/>
<rect x="481.43" y="532.85" width="2.35" height="7.50" fill="#59cee2"/>
<rect x="481.43" y="526.35" width="2.35" height="7.50" fill="#6bd3e5"/>
<rect x="481.43" y="519.85" width="2.35" height="7.50" fill="#7cd7e9"/>
<rect x="481.43" y="513.35" width="2.35" height="7.50" fill="#71d4e7"/>
<rect x="481.43" y="506.85" width="2.35" height="7.50" fill="#6ad3e5"/>
<rect x="481.43" y="500.35" width="2.35" height="7.50" fill="#76d6e8"/>
<rect x="481.43" y="493.85" width="2.35" height="7.50" fill="#87daea"/>
<rect x="481.43" y="487.35" width="2.35" height="7.50" fill="#90dceb"/>
<rect x="481.43" y="480.85" width="2.35" height="7.50" fill="#9ce0ed"/>
<rect x="481.43" y="474.35" width="2.35" height="7.50" fill="#b2e6f1"/>
<rect x="481.43" y="467.85" width="2.35" height="7.50" fill="#c2ecf4"/>
<rect x="481.43" y="461.35" width="2.35" height="7.50" fill="#d5f2f7"/>
<rect x="481.43" y="454.85" width="2.35" height="7.50" fill="#e2f5fa"/>
<rect x="481.43" y="448.35" width="2.35" height="7.50" fill="#e7f7fb"/>
<rect x="482.78" y="539.35" width="2.35" height="2.95" fill="#3ec7db"/>
<rect x="482.78" y="532.85" width="2.35" height="7.50" fill="#37c3d9"/>
<rect x="482.78" y="526.35" width="2.35" height="7.50" fill="#39c5da"/>
<rect x="482.78" y="519.85" width="2.35" height="7.50" fill="#41c8dc"/>
<rect x="482.78" y="513.35" width="2.35" height="7.50" fill="#41c8dc"/>
<rect x="482.78" y="506.85" width="2.35" height="7.50" fill="#42c8dc"/>
<rect x="482.78" y="500.35" width="2.35" height="7.50" fill="#45c9dd"/>
<rect x="482.78" y="493.85" width="2.35" height="7.50" fill="#64d1e4"/>
<rect x="482.78" y="487.35" width="2.35" height="7.50" fill="#6cd3e6"/>
<rect x="482.78" y="480.85" width="2.35" height="7.50" fill="#79d6e8"/>
<rect x="482.78" y="474.35" width="2.35" height="7.50" fill="#a4e2ee"/>
<rect x="482.78" y="467.85" width="2.35" height="7.50" fill="#ace4ef"/>
<rect x="482.78" y="461.35" width="2.35" height="7.50" fill="#bceaf3"/>
<rect x="482.78" y="454.85" width="2.35" height="7.50" fill="#c9eef5"/>
<rect x="482.78" y="448.35" width="2.35" height="7.50" fill="#e2f5fa"/>
<rect x="484.13" y="539.35" width="2.35" height="2.95" fill="#35c0d8"/>
<rect x="484.13" y="532.85" width="2.35" height="7.50" fill="#32bdd7"/>
<rect x="484.13" y="526.35" width="2.35" height="7.50" fill="#38c4d9"/>
<rect x="484.13" y="519.85" width="2.35" height="7.50" fill="#42c8dc"/>
<rect x="484.13" y="513.35" width="2.35" height="7.50" fill="#39c4da"/>
<rect x="484.13" y="506.85" width="2.35" height="7.50" fill="#42c8dc"/>
<rect x="484.13" y="500.35" width="2.35" height="7.50" fill="#5acfe2"/>
<rect x="484.13" y="493.85" width="2.35" height="7.50" fill="#5ecfe3"/>
<rect x="484.13" y="487.35" width="2.35" height="7.50" fill="#74d5e7"/>
<rect x="484.13" y="480.85" width="2.35" height="7.50" fill="#8fdceb"/>
<rect x="484.13" y="474.35" width="2.35" height="7.50" fill="#aee5f0"/>
<rect x="484.13" y="467.85" width="2.35" height="7.50" fill="#b9e9f2"/>
<rect x="484.13" y="461.35" width="2.35" height="7.50" fill="#cbeff6"/>
<rect x="484.13" y="454.85" width="2.35" height="7.50" fill="#def4f9"/>
<rect x="484.13" y="448.35" width="2.35" height="7.50" fill="#eaf8fb"/>
<rect x="485.48" y="539.35" width="2.35" height="2.95" fill="#34c0d8"/>
<rect x="485.48" y="532.85" width="2.35" height="7.50" fill="#39c5da"/>
<rect x="485.48" y="526.35" width="2.35" height="7.50" fill="#43c8dc"/>
<rect x="485.48" y="519.85" width="2.35" height="7.50" fill="#49cade"/>
<rect x="485.48" y="513.35" width="2.35" height="7.50" fill="#47c9dd"/>
<rect x="485.48" y="506.85" width="2.35" height="7.50" fill="#4bcbdf"/>
<rect x="485.48" y="500.35" width="2.35" height="7.50" fill="#5ccfe2"/>
<rect x="485.48" y="493.85" width="2.35" height="7.50" fill="#5acfe2"/>
<rect x="485.48" y="487.35" width="2.35" height="7.50" fill="#88daea"/>
<rect x="485.48" y="480.85" width="2.35" height="7.50" fill="#a6e2ee"/>
<rect x="485.48" y="474.35" width="2.35" height="7.50" fill="#b3e7f1"/>
<rect x="485.48" y="467.85" width="2.35" height="7.50" fill="#c4edf4"/>
<rect x="485.48" y="461.35" width="2.35" height="7.50" fill="#cdeff6"/>
<rect x="485.48" y="454.85" width="2.35" height="7.50" fill="#e1f5f9"/>
<rect x="485.48" y="448.35" width="2.35" height="7.50" fill="#f2fbfc"/>
<rect x="486.82" y="539.35" width="2.35" height="2.95" fill="#32bdd7"/>
<rect x="486.82" y="532.85" width="2.35" height="7.50" fill="#35c1d8"/>
<rect x="486.82" y="526.35" width="2.35" height="7.50" fill="#3ec7db"/>
<rect x="486.82" y="519.85" width="2.35" height="7.50" fill="#41c8dc"/>
<rect x="486.82" y="513.35" width="2.35" height="7.50" fill="#3ac6da"/>
<rect x="486.82" y="506.85" width="2.35" height="7.50" fill="#46c9dd"/>
<rect x="486.82" y="500.35" width="2.35" height="7.50" fill="#4ecbdf"/>
<rect x="486.82" y="493.85" width="2.35" height="7.50" fill="#6ad2e5"/>
<rect x="486.82" y="487.35" width="2.35" height="7.50" fill="#80d8e9"/>
<rect x="486.82" y="480.85" width="2.35" height="7.50" fill="#87daea"/>
<rect x="486.82" y="474.35" width="2.35" height="7.50" fill="#b8e8f2"/>
<rect x="486.82" y="467.85" width="2.35" height="7.50" fill="#b9e9f2"/>
<rect x="486.82" y="461.35" width="2.35" height="7.50" fill="#cdeff6"/>
<rect x="486.82" y="454.85" width="2.35" height="7.50" fill="#ddf4f9"/>
<rect x="486.82" y="448.35" width="2.35" height="7.50" fill="#eef9fc"/>
<rect x="488.17" y="539.35" width="2.35" height="2.95" fill="#48cade"/>
<rect x="488.17" y="532.85" width="2.35" height="7.50" fill="#4ccbdf"/>
<rect x="488.17" y="526.35" width="2.35" height="7.50" fill="#5acee2"/>
<rect x="488.17" y="519.85" width="2.35" height="7.50" fill="#63d1e4"/>
<rect x="488.17" y="513.35" width="2.35" height="7.50" fill="#66d1e4"/>
<rect x="488.17" y="506.85" width="2.35" height="7.50" fill="#64d1e4"/>
<rect x="488.17" y="500.35" width="2.35" height="7.50" fill="#6ed4e6"/>
<rect x="488.17" y="493.85" width="2.35" height="7.50" fill="#94ddec"/>
<rect x="488.17" y="487.35" width="2.35" height="7.50" fill="#b2e6f1"/>
<rect x="488.17" y="480.85" width="2.35" height="7.50" fill="#b8e9f2"/>
<rect x="488.17" y="474.35" width="2.35" height="7.50" fill="#c2ecf4"/>
<rect x="488.17" y="467.85" width="2.35" height="7.50" fill="#cdeff6"/>
<rect x="488.17" y="461.35" width="2.35" height="7.50" fill="#def4f9"/>
<rect x="488.17" y="454.85" width="2.35" height="7.50" fill="#e8f7fb"/>
<rect x="488.17" y="448.35" width="2.35" height="7.50" fill="#f6fcfd"/>
<rect x="489.52" y="539.35" width="2.35" height="2.95" fill="#32bcd7"/>
<rect x="489.52" y="532.85" width="2.35" height="7.50" fill="#33bed8"/>
<rect x="489.52" y="526.35" width="2.35" height="7.50" fill="#36c1d9"/>
<rect x="489.52" y="519.85" width="2.35" height="7.50" fill="#3bc6da"/>
<rect x="489.52" y="513.35" width="2.35" height="7.50" fill="#3cc7db"/>
<rect x="489.52" y="506.85" width="2.35" height="7.50" fill="#38c4d9"/>
<rect x="489.52" y="500.35" width="2.35" height="7.50" fill="#43c8dc"/>
<rect x="489.52" y="493.85" width="2.35" height="7.50" fill="#51cce0"/>
<rect x="489.52" y="487.35" width="2.35" height="7.50" fill="#6fd4e6"/>
<rect x="489.52" y="480.85" width="2.35" height="7.50" fill="#7bd7e8"/>
<rect x="489.52" y="474.35" width="2.35" height="7.50" fill="#9de0ed"/>
<rect x="489.52" y="467.85" width="2.35" height="7.50" fill="#ade5f0"/>
<rect x="489.52" y="461.35" width="2.35" height="7.50" fill="#beeaf3"/>
<rect x="489.52" y="454.85" width="2.35" height="7.50" fill="#d3f1f7"/>
<rect x="489.52" y="448.35" width="2.35" height="7.50" fill="#def4f9"/>
<rect x="489.52" y="441.85" width="2.35" height="7.50" fill="#f5fcfd"/>
<rect x="490.87" y="539.35" width="2.35" height="2.95" fill="#2cb3d4"/>
<rect x="490.87" y="532.85" width="2.35" height="7.50" fill="#32bcd7"/>
<rect x="490.87" y="526.35" width="2.35" height="7.50" fill="#39c5da"/>
<rect x="490.87" y="519.85" width="2.35" height="7.50" fill="#38c3d9"/>
<rect x="490.87" y="513.35" width="2.35" height="7.50" fill="#38c4d9"/>
<rect x="490.87" y="506.85" width="2.35" height="7.50" fill="#3ac6da"/>
<rect x="490.87" y="500.35" width="2.35" height="7.50" fill="#48cade"/>
<rect x="490.87" y="493.85" width="2.35" height="7.50" fill="#54cde1"/>
<rect x="490.87" y="487.35" width="2.35" height="7.50" fill="#73d5e7"/>
<rect x="490.87" y="480.85" width="2.35" height="7.50" fill="#7ed8e9"/>
<rect x="490.87" y="474.35" width="2.35" height="7.50" fill="#a7e3ee"/>
<rect x="490.87" y="467.85" width="2.35" height="7.50" fill="#b4e7f1"/>
<rect x="490.87" y="461.35" width="2.35" height="7.50" fill="#c7eef5"/>
<rect x="490.87" y="454.85" width="2.35" height="7.50" fill="#d5f2f7"/>
<rect x="490.87" y="448.35" width="2.35" height="7.50" fill="#e6f7fa"/>
<rect x="492.22" y="539.35" width="2.35" height="2.95" fill="#36c1d9"/>
<rect x="492.22" y="532.85" width="2.35" height="7.50" fill="#33bdd8"/>
<rect x="492.22" y="526.35" width="2.35" height="7.50" fill="#39c5da"/>
<rect x="492.22" y="519.85" width="2.35" height="7.50" fill="#3dc7db"/>
<rect x="492.22" y="513.35" width="2.35" height="7.50" fill="#3ac6da"/>
<rect x="492.22" y="506.85" width="2.35" height="7.50" fill="#40c8dc"/>
<rect x="492.22" y="500.35" width="2.35" height="7.50" fill="#41c8dc"/>
<rect x="492.22" y="493.85" width="2.35" height="7.50" fill="#58cee2"/>
<rect x="492.22" y="487.35" width="2.35" height="7.50" fill="#77d6e8"/>
<rect x="492.22" y="480.85" width="2.35" height="7.50" fill="#93ddec"/>
<rect x="492.22" y="474.35" width="2.35" height="7.50" fill="#bae9f2"/>
<rect x="492.22" y="467.85" width="2.35" height="7.50" fill="#b8e8f2"/>
<rect x="492.22" y="461.35" width="2.35" height="7.50" fill="#c8eef5"/>
<rect x="492.22" y="454.85" width="2.35" height="7.50" fill="#dbf3f8"/>
<rect x="492.22" y="448.35" width="2.35" height="7.50" fill="#ecf9fb"/>
<rect x="493.57" y="539.35" width="2.35" height="2.95" fill="#3cc7db"/>
<rect x="493.57" y="532.85" width="2.35" height="7.50" fill="#3ac6da"/>
<rect x="493.57" y="526.35" width="2.35" height="7.50" fill="#46c9dd"/>
<rect x="493.57" y="519.85" width="2.35" height="7.50" fill="#4acade"/>
<rect x="493.57" y="513.35" width="2.35" height="7.50" fill="#46c9dd"/>
<rect x="493.57" y="506.85" width="2.35" height="7.50" fill="#55cde1"/>
<rect x="493.57" y="500.35" width="2.35" height="7.50" fill="#66d2e4"/>
<rect x="493.57" y="493.85" width="2.35" height="7.50" fill="#7fd8e9"/>
<rect x="493.57" y="487.35" width="2.35" height="7.50" fill="#96deec"/>
<rect x="493.57" y="480.85" width="2.35" height="7.50" fill="#a6e2ee"/>
<rect x="493.57" y="474.35" width="2.35" height="7.50" fill="#bceaf3"/>
<rect x="493.57" y="467.85" width="2.35" height="7.50" fill="#c7eef5"/>
<rect x="493.57" y="461.35" width="2.35" height="7.50" fill="#d6f2f7"/>
<rect x="493.57" y="454.85" width="2.35" height="7.50" fill="#e8f7fb"/>
<rect x="493.57" y="448.35" width="2.35" height="7.50" fill="#f7fcfd"/>
<rect x="494.92" y="539.35" width="2.35" height="2.95" fill="#41c8dc"/>
<rect x="494.92" y="532.85" width="2.35" height="7.50" fill="#44c9dd"/>
<rect x="494.92" y="526.35" width="2.35" height="7.50" fill="#50cce0"/>
<rect x="494.92" y="519.85" width="2.35" height="7.50" fill="#5dcfe3"/>
<rect x="494.92" y="513.35" width="2.35" height="7.50" fill="#6bd3e5"/>
<rect x="494.92" y="506.85" width="2.35" height="7.50" fill="#6fd4e6"/>
<rect x="494.92" y="500.35" width="2.35" height="7.50" fill="#7dd7e9"/>
<rect x="494.92" y="493.85" width="2.35" height="7.50" fill="#8fdceb"/>
<rect x="494.92" y="487.35" width="2.35" height="7.50" fill="#a1e1ee"/>
<rect x="494.92" y="480.85" width="2.35" height="7.50" fill="#b3e7f1"/>
<rect x="494.92" y="474.35" width="2.35" height="7.50" fill="#c9eef5"/>
<rect x="494.92" y="467.85" width="2.35" height="7.50" fill="#d2f1f7"/>
<rect x="494.92" y="461.35" width="2.35" height="7.50" fill="#e3f6fa"/>
<rect x="494.92" y="454.85" width="2.35" height="7.50" fill="#ecf9fb"/>
<rect x="494.92" y="448.35" width="2.35" height="7.50" fill="#f4fbfd"/>
<rect x="496.27" y="539.35" width="2.35" height="2.95" fill="#3cc7db"/>
<rect x="496.27" y="532.85" width="2.35" height="7.50" fill="#3bc6da"/>
<rect x="496.27" y="526.35" width="2.35" height="7.50" fill="#55cde1"/>
<rect x="496.27" y="519.85" width="2.35" height="7.50" fill="#43c9dd"/>
<rect x="496.27" y="513.35" width="2.35" height="7.50" fill="#4fcce0"/>
<rect x="496.27" y="506.85" width="2.35" height="7.50" fill="#5ccfe2"/>
<rect x="496.27" y="500.35" width="2.35" height="7.50" fill="#5ecfe3"/>
<rect x="496.27" y="493.85" width="2.35" height="7.50" fill="#6bd3e5"/>
<rect x="496.27" y="487.35" width="2.35" height="7.50" fill="#82d9e9"/>
<rect x="496.27" y="480.85" width="2.35" height="7.50" fill="#a4e2ee"/>
<rect x="496.27" y="474.35" width="2.35" height="7.50" fill="#bae9f2"/>
<rect x="496.27" y="467.85" width="2.35" height="7.50" fill="#c4edf4"/>
<rect x="496.27" y="461.35" width="2.35" height="7.50" fill="#d3f1f7"/>
<rect x="496.27" y="454.85" width="2.35" height="7.50" fill="#e3f6fa"/>
<rect x="496.27" y="448.35" width="2.35" height="7.50" fill="#f0fafc"/>
<rect x="497.62" y="539.35" width="2.35" height="2.95" fill="#33bed8"/>
<rect x="497.62" y="532.85" width="2.35" height="7.50" fill="#34bfd8"/>
<rect x="497.62" y="526.35" width="2.35" height="7.50" fill="#37c3d9"/>
<rect x="497.62" y="519.85" width="2.35" height="7.50" fill="#47c9dd"/>
<rect x="497.62" y="513.35" width="2.35" height="7.50" fill="#3ec7db"/>
<rect x="497.62" y="506.85" width="2.35" height="7.50" fill="#4acade"/>
<rect x="497.62" y="500.35" width="2.35" height="7.50" fill="#64d1e4"/>
<rect x="497.62" y="493.85" width="2.35" height="7.50" fill="#5fd0e3"/>
<rect x="497.62" y="487.35" width="2.35" height="7.50" fill="#7ed8e9"/>
<rect x="497.62" y="480.85" width="2.35" height="7.50" fill="#9ee0ed"/>
<rect x="497.62" y="474.35" width="2.35" height="7.50" fill="#ade5f0"/>
<rect x="497.62" y="467.85" width="2.35" height="7.50" fill="#bbeaf2"/>
<rect x="497.62" y="461.35" width="2.35" height="7.50" fill="#d1f0f7"/>
<rect x="497.62" y="454.85" width="2.35" height="7.50" fill="#dcf4f8"/>
<rect x="497.62" y="448.35" width="2.35" height="7.50" fill="#edf9fb"/>
<rect x="498.96" y="539.35" width="2.35" height="2.95" fill="#38c4d9"/>
<rect x="498.96" y="532.85" width="2.35" height="7.50" fill="#38c4d9"/>
<rect x="498.96" y="526.35" width="2.35" height="7.50" fill="#41c8dc"/>
<rect x="498.96" y="519.85" width="2.35" height="7.50" fill="#48cade"/>
<rect x="498.96" y="513.35" width="2.35" height="7.50" fill="#51cce0"/>
<rect x="498.96" y="506.85" width="2.35" height="7.50" fill="#4ccbdf"/>
<rect x="498.96" y="500.35" width="2.35" height="7.50" fill="#51cce0"/>
<rect x="498.96" y="493.85" width="2.35" height="7.50" fill="#62d0e4"/>
<rect x="498.96" y="487.35" width="2.35" height="7.50" fill="#82d9e9"/>
<rect x="498.96" y="480.85" width="2.35" height="7.50" fill="#8fdceb"/>
<rect x="498.96" y="474.35" width="2.35" height="7.50" fill="#b2e6f1"/>
<rect x="498.96" y="467.85" width="2.35" height="7.50" fill="#c3ecf4"/>
<rect x="498.96" y="461.35" width="2.35" height="7.50" fill="#cef0f6"/>
<rect x="498.96" y="454.85" width="2.35" height="7.50" fill="#daf3f8"/>
<rect x="498.96" y="448.35" width="2.35" height="7.50" fill="#eaf8fb"/>
<rect x="500.31" y="539.35" width="2.35" height="2.95" fill="#33bed8"/>
<rect x="500.31" y="532.85" width="2.35" height="7.50" fill="#36c2d9"/>
<rect x="500.31" y="526.35" width="2.35" height="7.50" fill="#39c5da"/>
<rect x="500.31" y="519.85" width="2.35" height="7.50" fill="#3dc7db"/>
<rect x="500.31" y="513.35" width="2.35" height="7.50" fill="#41c8dc"/>
<rect x="500.31" y="506.85" width="2.35" height="7.50" fill="#48cade"/>
<rect x="500.31" y="500.35" width="2.35" height="7.50" fill="#4ccbdf"/>
<rect x="500.31" y="493.85" width="2.35" height="7.50" fill="#4dcbdf"/>
<rect x="500.31" y="487.35" width="2.35" height="7.50" fill="#77d6e8"/>
<rect x="500.31" y="480.85" width="2.35" height="7.50" fill="#81d8e9"/>
<rect x="500.31" y="474.35" width="2.35" height="7.50" fill="#8edceb"/>
<rect x="500.31" y="467.85" width="2.35" height="7.50" fill="#abe4ef"/>
<rect x="500.31" y="461.35" width="2.35" height="7.50" fill="#bfebf3"/>
<rect x="500.31" y="454.85" width="2.35" height="7.50" fill="#d0f0f6"/>
<rect x="500.31" y="448.35" width="2.35" height="7.50" fill="#e1f5fa"/>
<rect x="500.31" y="441.85" width="2.35" height="7.50" fill="#e4f6fa"/>
<rect x="501.66" y="539.35" width="2.35" height="2.95" fill="#35c0d8"/>
<rect x="501.66" y="532.85" width="2.35" height="7.50" fill="#37c3d9"/>
<rect x="501.66" y="526.35" width="2.35" height="7.50" fill="#43c8dc"/>
<rect x="501.66" y="519.85" width="2.35" height="7.50" fill="#44c9dd"/>
<rect x="501.66" y="513.35" width="2.35" height="7.50" fill="#4bcbdf"/>
<rect x="501.66" y="506.85" width="2.35" height="7.50" fill="#49cade"/>
<rect x="501.66" y="500.35" width="2.35" height="7.50" fill="#60d0e3"/>
<rect x="501.66" y="493.85" width="2.35" height="7.50" fill="#6cd3e6"/>
<rect x="501.66" y="487.35" width="2.35" height="7.50" fill="#82d9e9"/>
<rect x="501.66" y="480.85" width="2.35" height="7.50" fill="#9bdfed"/>
<rect x="501.66" y="474.35" width="2.35" height="7.50" fill="#b6e8f1"/>
<rect x="501.66" y="467.85" width="2.35" height="7.50" fill="#c3ecf4"/>
<rect x="501.66" y="461.35" width="2.35" height="7.50" fill="#d4f1f7"/>
<rect x="501.66" y="454.85" width="2.35" height="7.50" fill="#e3f6fa"/>
<rect x="501.66" y="448.35" width="2.35" height="7.50" fill="#ebf8fb"/>
<rect x="503.01" y="539.35" width="2.35" height="2.95" fill="#36c1d9"/>
<rect x="503.01" y="532.85" width="2.35" height="7.50" fill="#39c5da"/>
<rect x="503.01" y="526.35" width="2.35" height="7.50" fill="#3dc7db"/>
<rect x="503.01" y="519.85" width="2.35" height="7.50" fill="#3ac6da"/>
<rect x="503.01" y="513.35" width="2.35" height="7.50" fill="#40c8dc"/>
<rect x="503.01" y="506.85" width="2.35" height="7.50" fill="#46c9dd"/>
<rect x="503.01" y="500.35" width="2.35" height="7.50" fill="#4fcce0"/>
<rect x="503.01" y="493.85" width="2.35" height="7.50" fill="#65d1e4"/>
<rect x="503.01" y="487.35" width="2.35" height="7.50" fill="#7ad7e8"/>
<rect x="503.01" y="480.85" width="2.35" height="7.50" fill="#a3e1ee"/>
<rect x="503.01" y="474.35" width="2.35" height="7.50" fill="#ace5ef"/>
<rect x="503.01" y="467.85" width="2.35" height="7.50" fill="#c1ecf4"/>
<rect x="503.01" y="461.35" width="2.35" height="7.50" fill="#cceff6"/>
<rect x="503.01" y="454.85" width="2.35" height="7.50" fill="#dbf3f8"/>
<rect x="503.01" y="448.35" width="2.35" height="7.50" fill="#e9f8fb"/>
<rect x="504.36" y="539.35" width="2.35" height="2.95" fill="#28aad1"/>
<rect x="504.36" y="532.85" width="2.35" height="7.50" fill="#2aafd3"/>
<rect x="504.36" y="526.35" width="2.35" height="7.50" fill="#30bad7"/>
<rect x="504.36" y="519.85" width="2.35" height="7.50" fill="#2eb7d6"/>
<rect x="504.36" y="513.35" width="2.35" height="7.50" fill="#2eb7d6"/>
<rect x="504.36" y="506.85" width="2.35" height="7.50" fill="#33bed8"/>
<rect x="504.36" y="500.35" width="2.35" height="7.50" fill="#41c8dc"/>
<rect x="504.36" y="493.85" width="2.35" height="7.50" fill="#48cade"/>
<rect x="504.36" y="487.35" width="2.35" height="7.50" fill="#53cde1"/>
<rect x="504.36" y="480.85" width="2.35" height="7.50" fill="#77d6e8"/>
<rect x="504.36" y="474.35" width="2.35" height="7.50" fill="#8bdbeb"/>
<rect x="504.36" y="467.85" width="2.35" height="7.50" fill="#a5e2ee"/>
<rect x="504.36" y="461.35" width="2.35" height="7.50" fill="#b6e8f1"/>
<rect x="504.36" y="454.85" width="2.35" height="7.50" fill="#c3ecf4"/>
<rect x="504.36" y="448.35" width="2.35" height="7.50" fill="#d5f2f7"/>
<rect x="504.36" y="428.85" width="2.35" height="7.50" fill="#f2fbfc"/>
<rect x="504.36" y="425.60" width="2.35" height="4.25" fill="#f4fbfd"/>
<rect x="505.71" y="539.35" width="2.35" height="2.95" fill="#2fb9d6"/>
<rect x="505.71" y="532.85" width="2.35" height="7.50" fill="#33bed8"/>
<rect x="505.71" y="526.35" width="2.35" height="7.50" fill="#36c2d9"/>
<rect x="505.71" y="519.85" width="2.35" height="7.50" fill="#3fc7db"/>
<rect x="505.71" y="513.35" width="2.35" height="7.50" fill="#34bfd8"/>
<rect x="505.71" y="506.85" width="2.35" height="7.50" fill="#3dc7db"/>
<rect x="505.71" y="500.35" width="2.35" height="7.50" fill="#47cade"/>
<rect x="505.71" y="493.85" width="2.35" height="7.50" fill="#58cee2"/>
<rect x="505.71" y="487.35" width="2.35" height="7.50" fill="#67d2e5"/>
<rect x="505.71" y="480.85" width="2.35" height="7.50" fill="#8ddceb"/>
<rect x="505.71" y="474.35" width="2.35" height="7.50" fill="#a6e2ee"/>
<rect x="505.71" y="467.85" width="2.35" height="7.50" fill="#bbeaf2"/>
<rect x="505.71" y="461.35" width="2.35" height="7.50" fill="#c9eef5"/>
<rect x="505.71" y="454.85" width="2.35" height="7.50" fill="#d6f2f7"/>
<rect x="505.71" y="448.35" width="2.35" height="7.50" fill="#e4f6fa"/>
<rect x="507.06" y="539.35" width="2.35" height="2.95" fill="#2db5d5"/>
<rect x="507.06" y="532.85" width="2.35" height="7.50" fill="#37c2d9"/>
<rect x="507.06" y="526.35" width="2.35" height="7.50" fill="#36c2d9"/>
<rect x="507.06" y="519.85" width="2.35" height="7.50" fill="#34bfd8"/>
<rect x="507.06" y="513.35" width="2.35" height="7.50" fill="#36c1d9"/>
<rect x="507.06" y="506.85" width="2.35" height="7.50" fill="#3bc6da"/>
<rect x="507.06" y="500.35" width="2.35" height="7.50" fill="#41c8dc"/>
<rect x="507.06" y="493.85" width="2.35" height="7.50" fill="#4dcbdf"/>
<rect x="507.06" y="487.35" width="2.35" height="7.50" fill="#56cee1"/>
<rect x="507.06" y="480.85" width="2.35" height="7.50" fill="#75d5e7"/>
<rect x="507.06" y="474.35" width="2.35" height="7.50" fill="#80d8e9"/>
<rect x="507.06" y="467.85" width="2.35" height="7.50" fill="#a8e3ef"/>
<rect x="507.06" y="461.35" width="2.35" height="7.50" fill="#c0ebf3"/>
<rect x="507.06" y="454.85" width="2.35" height="7.50" fill="#d3f1f7"/>
<rect x="507.06" y="448.35" width="2.35" height="7.50" fill="#e6f7fa"/>
<rect x="507.06" y="441.85" width="2.35" height="7.50" fill="#f6fcfd"/>
<rect x="508.41" y="539.35" width="2.35" height="2.95" fill="#3fc7db"/>
<rect x="508.41" y="532.85" width="2.35" height="7.50" fill="#3fc7db"/>
<rect x="508.41" y="526.35" width="2.35" height="7.50" fill="#3cc7db"/>
<rect x="508.41" y="519.85" width="2.35" height="7.50" fill="#3fc7db"/>
<rect x="508.41" y="513.35" width="2.35" height="7.50" fill="#3dc7db"/>
<rect x="508.41" y="506.85" width="2.35" height="7.50" fill="#42c8dc"/>
<rect x="508.41" y="500.35" width="2.35" height="7.50" fill="#43c8dc"/>
<rect x="508.41" y="493.85" width="2.35" height="7.50" fill="#43c9dd"/>
<rect x="508.41" y="487.35" width="2.35" height="7.50" fill="#46c9dd"/>
<rect x="508.41" y="480.85" width="2.35" height="7.50" fill="#4ccbdf"/>
<rect x="508.41" y="474.35" width="2.35" height="7.50" fill="#74d5e7"/>
<rect x="508.41" y="467.85" width="2.35" height="7.50" fill="#a7e3ee"/>
<rect x="508.41" y="461.35" width="2.35" height="7.50" fill="#b8e8f2"/>
<rect x="508.41" y="454.85" width="2.35" height="7.50" fill="#d5f2f7"/>
<rect x="508.41" y="448.35" width="2.35" height="7.50" fill="#e5f6fa"/>
<rect x="508.41" y="441.85" width="2.35" height="7.50" fill="#effafc"/>
<rect x="509.76" y="539.35" width="2.35" height="2.95" fill="#44c9dd"/>
<rect x="509.76" y="532.85" width="2.35" height="7.50" fill="#3dc7db"/>
<rect x="509.76" y="526.35" width="2.35" height="7.50" fill="#43c8dc"/>
<rect x="509.76" y="519.85" width="2.35" height="7.50" fill="#39c5da"/>
<rect x="509.76" y="513.35" width="2.35" height="7.50" fill="#3ec7db"/>
<rect x="509.76" y="506.85" width="2.35" height="7.50" fill="#39c4da"/>
<rect x="509.76" y="500.35" width="2.35" height="7.50" fill="#42c8dc"/>
<rect x="509.76" y="493.85" width="2.35" height="7.50" fill="#3dc7db"/>
<rect x="509.76" y="487.35" width="2.35" height="7.50" fill="#41c8dc"/>
<rect x="509.76" y="480.85" width="2.35" height="7.50" fill="#50cce0"/>
<rect x="509.76" y="474.35" width="2.35" height="7.50" fill="#64d1e4"/>
<rect x="509.76" y="467.85" width="2.35" height="7.50" fill="#9ee0ed"/>
<rect x="509.76" y="461.35" width="2.35" height="7.50" fill="#beeaf3"/>
<rect x="509.76" y="454.85" width="2.35" height="7.50" fill="#cdeff6"/>
<rect x="509.76" y="448.35" width="2.35" height="7.50" fill="#e7f7fb"/>
<rect x="509.76" y="441.85" width="2.35" height="7.50" fill="#f4fbfd"/>
<rect x="511.11" y="539.35" width="2.35" height="2.95" fill="#47cade"/>
<rect x="511.11" y="532.85" width="2.35" height="7.50" fill="#4ccbdf"/>
<rect x="511.11" y="526.35" width="2.35" height="7.50" fill="#4acade"/>
<rect x="511.11" y="519.85" width="2.35" height="7.50" fill="#48cade"/>
<rect x="511.11" y="513.35" width="2.35" height="7.50" fill="#4ecbdf"/>
<rect x="511.11" y="506.85" width="2.35" height="7.50" fill="#44c9dd"/>
<rect x="511.11" y="500.35" width="2.35" height="7.50" fill="#57cee1"/>
<rect x="511.11" y="493.85" width="2.35" height="7.50" fill="#4ccbdf"/>
<rect x="511.11" y="487.35" width="2.35" height="7.50" fill="#4ccbdf"/>
<rect x="511.11" y="480.85" width="2.35" height="7.50" fill="#5dcfe3"/>
<rect x="511.11" y="474.35" width="2.35" height="7.50" fill="#65d1e4"/>
<rect x="511.11" y="467.85" width="2.35" height="7.50" fill="#a5e2ee"/>
<rect x="511.11" y="461.35" width="2.35" height="7.50" fill="#b0e6f0"/>
<rect x="511.11" y="454.85" width="2.35" height="7.50" fill="#d0f0f6"/>
<rect x="511.11" y="448.35" width="2.35" height="7.50" fill="#e5f6fa"/>
<rect x="511.11" y="441.85" width="2.35" height="7.50" fill="#f2fbfc"/>
<rect x="512.45" y="539.35" width="2.35" height="2.95" fill="#4acade"/>
<rect x="512.45" y="532.85" width="2.35" height="7.50" fill="#62d0e4"/>
<rect x="512.45" y="526.35" width="2.35" height="7.50" fill="#4ccbdf"/>
<rect x="512.45" y="519.85" width="2.35" height="7.50" fill="#4fcce0"/>
<rect x="512.45" y="513.35" width="2.35" height="7.50" fill="#4ccbdf"/>
<rect x="512.45" y="506.85" width="2.35" height="7.50" fill="#4fcce0"/>
<rect x="512.45" y="500.35" width="2.35" height="7.50" fill="#50cce0"/>
<rect x="512.45" y="493.85" width="2.35" height="7.50" fill="#44c9dd"/>
<rect x="512.45" y="487.35" width="2.35" height="7.50" fill="#3fc7db"/>
<rect x="512.45" y="480.85" width="2.35" height="7.50" fill="#35c0d8"/>
<rect x="512.45" y="474.35" width="2.35" height="7.50" fill="#40c8dc"/>
<rect x="512.45" y="467.85" width="2.35" height="7.50" fill="#51cce0"/>
<rect x="512.45" y="461.35" width="2.35" height="7.50" fill="#6ad3e5"/>
<rect x="512.45" y="454.85" width="2.35" height="7.50" fill="#72d5e7"/>
<rect x="512.45" y="448.35" width="2.35" height="7.50" fill="#91ddeb"/>
<rect x="512.45" y="441.85" width="2.35" height="7.50" fill="#c5edf4"/>
<rect x="512.45" y="435.35" width="2.35" height="7.50" fill="#d6f2f7"/>
<rect x="512.45" y="428.85" width="2.35" height="7.50" fill="#e3f6fa"/>
<rect x="512.45" y="425.60" width="2.35" height="4.25" fill="#f2fbfc"/>
<rect x="513.80" y="539.35" width="2.35" height="2.95" fill="#87daea"/>
<rect x="513.80" y="532.85" width="2.35" height="7.50" fill="#8fdceb"/>
<rect x="513.80" y="526.35" width="2.35" height="7.50" fill="#98dfec"/>
<rect x="513.80" y="519.85" width="2.35" height="7.50" fill="#97deec"/>
<rect x="513.80" y="513.35" width="2.35" height="7.50" fill="#97deec"/>
<rect x="513.80" y="506.85" width="2.35" height="7.50" fill="#9fe0ed"/>
<rect x="513.80" y="500.35" width="2.35" height="7.50" fill="#80d8e9"/>
<rect x="513.80" y="493.85" width="2.35" height="7.50" fill="#6ed4e6"/>
<rect x="513.80" y="487.35" width="2.35" height="7.50" fill="#55cde1"/>
<rect x="513.80" y="480.85" width="2.35" height="7.50" fill="#3fc7db"/>
<rect x="513.80" y="474.35" width="2.35" height="7.50" fill="#3ec7db"/>
<rect x="513.80" y="467.85" width="2.35" height="7.50" fill="#38c3d9"/>
<rect x="513.80" y="461.35" width="2.35" height="7.50" fill="#38c4d9"/>
<rect x="513.80" y="454.85" width="2.35" height="7.50" fill="#3fc7db"/>
<rect x="513.80" y="448.35" width="2.35" height="7.50" fill="#40c8dc"/>
<rect x="513.80" y="441.85" width="2.35" height="7.50" fill="#6fd4e6"/>
<rect x="513.80" y="435.35" width="2.35" height="7.50" fill="#9ee0ed"/>
<rect x="513.80" y="428.85" width="2.35" height="7.50" fill="#c9eef5"/>
<rect x="513.80" y="425.60" width="2.35" height="4.25" fill="#e2f6fa"/>
<rect x="515.15" y="539.35" width="2.35" height="2.95" fill="#7cd7e9"/>
<rect x="515.15" y="532.85" width="2.35" height="7.50" fill="#94deec"/>
<rect x="515.15" y="526.35" width="2.35" height="7.50" fill="#a7e3ee"/>
<rect x="515.15" y="519.85" width="2.35" height="7.50" fill="#abe4ef"/>
<rect x="515.15" y="513.35" width="2.35" height="7.50" fill="#aae4ef"/>
<rect x="515.15" y="506.85" width="2.35" height="7.50" fill="#a5e2ee"/>
<rect x="515.15" y="500.35" width="2.35" height="7.50" fill="#95deec"/>
<rect x="515.15" y="493.85" width="2.35" height="7.50" fill="#84d9ea"/>
<rect x="515.15" y="487.35" width="2.35" height="7.50" fill="#60d0e3"/>
<rect x="515.15" y="480.85" width="2.35" height="7.50" fill="#4ecce0"/>
<rect x="515.15" y="474.35" width="2.35" height="7.50" fill="#48cade"/>
<rect x="515.15" y="467.85" width="2.35" height="7.50" fill="#37c3d9"/>
<rect x="515.15" y="461.35" width="2.35" height="7.50" fill="#3ac6da"/>
<rect x="515.15" y="454.85" width="2.35" height="7.50" fill="#3ac6da"/>
<rect x="515.15" y="448.35" width="2.35" height="7.50" fill="#42c8dc"/>
<rect x="515.15" y="441.85" width="2.35" height="7.50" fill="#5acfe2"/>
<rect x="515.15" y="435.35" width="2.35" height="7.50" fill="#8fdceb"/>
<rect x="515.15" y="428.85" width="2.35" height="7.50" fill="#c1ebf4"/>
<rect x="515.15" y="425.60" width="2.35" height="4.25" fill="#d7f2f8"/>
<rect x="516.50" y="539.35" width="2.35" height="2.95" fill="#b3e7f1"/>
<rect x="516.50" y="532.85" width="2.35" height="7.50" fill="#b1e6f0"/>
<rect x="516.50" y="526.35" width="2.35" height="7.50" fill="#bfebf3"/>
<rect x="516.50" y="519.85" width="2.35" height="7.50" fill="#c1ecf4"/>
<rect x="516.50" y="513.35" width="2.35" height="7.50" fill="#cceff6"/>
<rect x="516.50" y="506.85" width="2.35" height="7.50" fill="#c4edf4"/>
<rect x="516.50" y="500.35" width="2.35" height="7.50" fill="#b9e9f2"/>
<rect x="516.50" y="493.85" width="2.35" height="7.50" fill="#abe4ef"/>
<rect x="516.50" y="487.35" width="2.35" height="7.50" fill="#76d6e8"/>
<rect x="516.50" y="480.85" width="2.35" height="7.50" fill="#54cde1"/>
<rect x="516.50" y="474.35" width="2.35" height="7.50" fill="#49cade"/>
<rect x="516.50" y="467.85" width="2.35" height="7.50" fill="#43c9dd"/>
<rect x="516.50" y="461.35" width="2.35" height="7.50" fill="#46c9dd"/>
<rect x="516.50" y="454.85" width="2.35" height="7.50" fill="#44c9dd"/>
<rect x="516.50" y="448.35" width="2.35" height="7.50" fill="#44c9dd"/>
<rect x="516.50" y="441.85" width="2.35" height="7.50" fill="#5acee2"/>
<rect x="516.50" y="435.35" width="2.35" height="7.50" fill="#7dd7e9"/>
<rect x="516.50" y="428.85" width="2.35" height="7.50" fill="#bbe9f2"/>
<rect x="516.50" y="425.60" width="2.35" height="4.25" fill="#e2f5fa"/>
<rect x="517.85" y="539.35" width="2.35" height="2.95" fill="#8adbea"/>
<rect x="517.85" y="532.85" width="2.35" height="7.50" fill="#aae4ef"/>
<rect x="517.85" y="526.35" width="2.35" height="7.50" fill="#a8e3ef"/>
<rect x="517.85" y="519.85" width="2.35" height="7.50" fill="#b2e6f1"/>
<rect x="517.85" y="513.35" width="2.35" height="7.50" fill="#a7e3ee"/>
<rect x="517.85" y="506.85" width="2.35" height="7.50" fill="#aee5f0"/>
<rect x="517.85" y="500.35" width="2.35" height="7.50" fill="#8cdbeb"/>
<rect x="517.85" y="493.85" width="2.35" height="7.50" fill="#8cdbeb"/>
<rect x="517.85" y="487.35" width="2.35" height="7.50" fill="#4bcbdf"/>
<rect x="517.85" y="480.85" width="2.35" height="7.50" fill="#3ec7db"/>
<rect x="517.85" y="474.35" width="2.35" height="7.50" fill="#43c9dd"/>
<rect x="517.85" y="467.85" width="2.35" height="7.50" fill="#37c2d9"/>
<rect x="517.85" y="461.35" width="2.35" height="7.50" fill="#3ac5da"/>
<rect x="517.85" y="454.85" width="2.35" height="7.50" fill="#34c0d8"/>
<rect x="517.85" y="448.35" width="2.35" height="7.50" fill="#3dc7db"/>
<rect x="517.85" y="441.85" width="2.35" height="7.50" fill="#69d2e5"/>
<rect x="517.85" y="435.35" width="2.35" height="7.50" fill="#a3e1ee"/>
<rect x="517.85" y="428.85" width="2.35" height="7.50" fill="#c8eef5"/>
<rect x="517.85" y="425.60" width="2.35" height="4.25" fill="#e5f6fa"/>
<rect x="519.20" y="539.35" width="2.35" height="2.95" fill="#a5e2ee"/>
<rect x="519.20" y="532.85" width="2.35" height="7.50" fill="#b2e7f1"/>
<rect x="519.20" y="526.35" width="2.35" height="7.50" fill="#c0ebf3"/>
<rect x="519.20" y="519.85" width="2.35" height="7.50" fill="#c5edf4"/>
<rect x="519.20" y="513.35" width="2.35" height="7.50" fill="#c5edf4"/>
<rect x="519.20" y="506.85" width="2.35" height="7.50" fill="#c2ecf4"/>
<rect x="519.20" y="500.35" width="2.35" height="7.50" fill="#a7e3ee"/>
<rect x="519.20" y="493.85" width="2.35" height="7.50" fill="#a6e2ee"/>
<rect x="519.20" y="487.35" width="2.35" height="7.50" fill="#6dd3e6"/>
<rect x="519.20" y="480.85" width="2.35" height="7.50" fill="#58cee2"/>
<rect x="519.20" y="474.35" width="2.35" height="7.50" fill="#42c8dc"/>
<rect x="519.20" y="467.85" width="2.35" height="7.50" fill="#3fc7db"/>
<rect x="519.20" y="461.35" width="2.35" height="7.50" fill="#3ac5da"/>
<rect x="519.20" y="454.85" width="2.35" height="7.50" fill="#49cade"/>
<rect x="519.20" y="448.35" width="2.35" height="7.50" fill="#45c9dd"/>
<rect x="519.20" y="441.85" width="2.35" height="7.50" fill="#63d1e4"/>
<rect x="519.20" y="435.35" width="2.35" height="7.50" fill="#96deec"/>
<rect x="519.20" y="428.85" width="2.35" height="7.50" fill="#c4edf4"/>
<rect x="519.20" y="425.60" width="2.35" height="4.25" fill="#e3f6fa"/>
<rect x="520.55" y="539.35" width="2.35" height="2.95" fill="#5ed0e3"/>
<rect x="520.55" y="532.85" width="2.35" height="7.50" fill="#68d2e5"/>
<rect x="520.55" y="526.35" width="2.35" height="7.50" fill="#7cd7e8"/>
<rect x="520.55" y="519.85" width="2.35" height="7.50" fill="#7ed8e9"/>
<rect x="520.55" y="513.35" width="2.35" height="7.50" fill="#84d9ea"/>
<rect x="520.55" y="506.85" width="2.35" height="7.50" fill="#74d5e7"/>
<rect x="520.55" y="500.35" width="2.35" height="7.50" fill="#68d2e5"/>
<rect x="520.55" y="493.85" width="2.35" height="7.50" fill="#5acfe2"/>
<rect x="520.55" y="487.35" width="2.35" height="7.50" fill="#54cde1"/>
<rect x="520.55" y="480.85" width="2.35" height="7.50" fill="#45c9dd"/>
<rect x="520.55" y="474.35" width="2.35" height="7.50" fill="#38c4d9"/>
<rect x="520.55" y="467.85" width="2.35" height="7.50" fill="#35c1d8"/>
<rect x="520.55" y="461.35" width="2.35" height="7.50" fill="#31bbd7"/>
<rect x="520.55" y="454.85" width="2.35" height="7.50" fill="#34bfd8"/>
<rect x="520.55" y="448.35" width="2.35" height="7.50" fill="#33bdd8"/>
<rect x="520.55" y="441.85" width="2.35" height="7.50" fill="#45c9dd"/>
<rect x="520.55" y="435.35" width="2.35" height="7.50" fill="#78d6e8"/>
<rect x="520.55" y="428.85" width="2.35" height="7.50" fill="#a6e2ee"/>
<rect x="520.55" y="425.60" width="2.35" height="4.25" fill="#cef0f6"/>
<rect x="521.90" y="539.35" width="2.35" height="2.95" fill="#93ddec"/>
<rect x="521.90" y="532.85" width="2.35" height="7.50" fill="#ade5f0"/>
<rect x="521.90" y="526.35" width="2.35" height="7.50" fill="#bae9f2"/>
<rect x="521.90" y="519.85" width="2.35" height="7.50" fill="#b4e7f1"/>
<rect x="521.90" y="513.35" width="2.35" height="7.50" fill="#aee5f0"/>
<rect x="521.90" y="506.85" width="2.35" height="7.50" fill="#b6e8f1"/>
<rect x="521.90" y="500.35" width="2.35" height="7.50" fill="#86daea"/>
<rect x="521.90" y="493.85" width="2.35" height="7.50" fill="#77d6e8"/>
<rect x="521.90" y="487.35" width="2.35" height="7.50" fill="#53cde1"/>
<rect x="521.90" y="480.85" width="2.35" height="7.50" fill="#4dcbdf"/>
<rect x="521.90" y="474.35" width="2.35" height="7.50" fill="#3bc6da"/>
<rect x="521.90" y="467.85" width="2.35" height="7.50" fill="#39c5da"/>
<rect x="521.90" y="461.35" width="2.35" height="7.50" fill="#37c3d9"/>
<rect x="521.90" y="454.85" width="2.35" height="7.50" fill="#37c3d9"/>
<rect x="521.90" y="448.35" width="2.35" height="7.50" fill="#4bcbdf"/>
<rect x="521.90" y="441.85" width="2.35" height="7.50" fill="#73d5e7"/>
<rect x="521.90" y="435.35" width="2.35" height="7.50" fill="#abe4ef"/>
<rect x="521.90" y="428.85" width="2.35" height="7.50" fill="#d0f0f6"/>
<rect x="521.90" y="425.60" width="2.35" height="4.25" fill="#e5f6fa"/>
<rect x="523.25" y="539.35" width="2.35" height="2.95" fill="#76d5e8"/>
<rect x="523.25" y="532.85" width="2.35" height="7.50" fill="#96deec"/>
<rect x="523.25" y="526.35" width="2.35" height="7.50" fill="#a3e1ee"/>
<rect x="523.25" y="519.85" width="2.35" height="7.50" fill="#9ee0ed"/>
<rect x="523.25" y="513.35" width="2.35" height="7.50" fill="#a7e3ee"/>
<rect x="523.25" y="506.85" width="2.35" height="7.50" fill="#9adfed"/>
<rect x="523.25" y="500.35" width="2.35" height="7.50" fill="#89dbea"/>
<rect x="523.25" y="493.85" width="2.35" height="7.50" fill="#6ad3e5"/>
<rect x="523.25" y="487.35" width="2.35" height="7.50" fill="#69d2e5"/>
<rect x="523.25" y="480.85" width="2.35" height="7.50" fill="#4acade"/>
<rect x="523.25" y="474.35" width="2.35" height="7.50" fill="#38c4d9"/>
<rect x="523.25" y="467.85" width="2.35" height="7.50" fill="#37c2d9"/>
<rect x="523.25" y="461.35" width="2.35" height="7.50" fill="#3cc6da"/>
<rect x="523.25" y="454.85" width="2.35" height="7.50" fill="#37c3d9"/>
<rect x="523.25" y="448.35" width="2.35" height="7.50" fill="#41c8dc"/>
<rect x="523.25" y="441.85" width="2.35" height="7.50" fill="#5acee2"/>
<rect x="523.25" y="435.35" width="2.35" height="7.50" fill="#7dd7e9"/>
<rect x="523.25" y="428.85" width="2.35" height="7.50" fill="#b4e7f1"/>
<rect x="523.25" y="425.60" width="2.35" height="4.25" fill="#d4f1f7"/>
<rect x="524.59" y="539.35" width="2.35" height="2.95" fill="#b2e7f1"/>
<rect x="524.59" y="532.85" width="2.35" height="7.50" fill="#bbeaf2"/>
<rect x="524.59" y="526.35" width="2.35" height="7.50" fill="#b8e9f2"/>
<rect x="524.59" y="519.85" width="2.35" height="7.50" fill="#c2ecf4"/>
<rect x="524.59" y="513.35" width="2.35" height="7.50" fill="#c9eef5"/>
<rect x="524.59" y="506.85" width="2.35" height="7.50" fill="#c6edf5"/>
<rect x="524.59" y="500.35" width="2.35" height="7.50" fill="#c1ecf4"/>
<rect x="524.59" y="493.85" width="2.35" height="7.50" fill="#abe4ef"/>
<rect x="524.59" y="487.35" width="2.35" height="7.50" fill="#9ee0ed"/>
<rect x="524.59" y="480.85" width="2.35" height="7.50" fill="#77d6e8"/>
<rect x="524.59" y="474.35" width="2.35" height="7.50" fill="#56cee1"/>
<rect x="524.59" y="467.85" width="2.35" height="7.50" fill="#62d1e4"/>
<rect x="524.59" y="461.35" width="2.35" height="7.50" fill="#62d0e4"/>
<rect x="524.59" y="454.85" width="2.35" height="7.50" fill="#4fcce0"/>
<rect x="524.59" y="448.35" width="2.35" height="7.50" fill="#62d1e4"/>
<rect x="524.59" y="441.85" width="2.35" height="7.50" fill="#8adbea"/>
<rect x="524.59" y="435.35" width="2.35" height="7.50" fill="#a6e2ee"/>
<rect x="524.59" y="428.85" width="2.35" height="7.50" fill="#c2ecf4"/>
<rect x="524.59" y="425.60" width="2.35" height="4.25" fill="#e7f7fa"/>
<rect x="525.94" y="539.35" width="2.35" height="2.95" fill="#7cd7e8"/>
<rect x="525.94" y="532.85" width="2.35" height="7.50" fill="#8edceb"/>
<rect x="525.94" y="526.35" width="2.35" height="7.50" fill="#90dceb"/>
<rect x="525.94" y="519.85" width="2.35" height="7.50" fill="#9fe0ed"/>
<rect x="525.94" y="513.35" width="2.35" height="7.50" fill="#a4e2ee"/>
<rect x="525.94" y="506.85" width="2.35" height="7.50" fill="#89dbea"/>
<rect x="525.94" y="500.35" width="2.35" height="7.50" fill="#6ed3e6"/>
<rect x="525.94" y="493.85" width="2.35" height="7.50" fill="#4ecce0"/>
<rect x="525.94" y="487.35" width="2.35" height="7.50" fill="#4bcbdf"/>
<rect x="525.94" y="480.85" width="2.35" height="7.50" fill="#3fc7db"/>
<rect x="525.94" y="474.35" width="2.35" height="7.50" fill="#3dc7db"/>
<rect x="525.94" y="467.85" width="2.35" height="7.50" fill="#38c3d9"/>
<rect x="525.94" y="461.35" width="2.35" height="7.50" fill="#38c4d9"/>
<rect x="525.94" y="454.85" width="2.35" height="7.50" fill="#37c3d9"/>
<rect x="525.94" y="448.35" width="2.35" height="7.50" fill="#42c8dc"/>
<rect x="525.94" y="441.85" width="2.35" height="7.50" fill="#7ed7e9"/>
<rect x="525.94" y="435.35" width="2.35" height="7.50" fill="#a9e3ef"/>
<rect x="525.94" y="428.85" width="2.35" height="7.50" fill="#d5f2f7"/>
<rect x="525.94" y="425.60" width="2.35" height="4.25" fill="#d7f2f8"/>
<rect x="527.29" y="539.35" width="2.35" height="2.95" fill="#a6e2ee"/>
<rect x="527.29" y="532.85" width="2.35" height="7.50" fill="#9adfed"/>
<rect x="527.29" y="526.35" width="2.35" height="7.50" fill="#a7e3ee"/>
<rect x="527.29" y="519.85" width="2.35" height="7.50" fill="#b1e6f0"/>
<rect x="527.29" y="513.35" width="2.35" height="7.50" fill="#b8e9f2"/>
<rect x="527.29" y="506.85" width="2.35" height="7.50" fill="#beeaf3"/>
<rect x="527.29" y="500.35" width="2.35" height="7.50" fill="#ade5f0"/>
<rect x="527.29" y="493.85" width="2.35" height="7.50" fill="#a7e3ee"/>
<rect x="527.29" y="487.35" width="2.35" height="7.50" fill="#91ddeb"/>
<rect x="527.29" y="480.85" width="2.35" height="7.50" fill="#66d1e4"/>
<rect x="527.29" y="474.35" width="2.35" height="7.50" fill="#48cade"/>
<rect x="527.29" y="467.85" width="2.35" height="7.50" fill="#41c8dc"/>
<rect x="527.29" y="461.35" width="2.35" height="7.50" fill="#42c8dc"/>
<rect x="527.29" y="454.85" width="2.35" height="7.50" fill="#3cc7db"/>
<rect x="527.29" y="448.35" width="2.35" height="7.50" fill="#3fc7db"/>
<rect x="527.29" y="441.85" width="2.35" height="7.50" fill="#3cc7db"/>
<rect x="527.29" y="435.35" width="2.35" height="7.50" fill="#62d0e4"/>
<rect x="527.29" y="428.85" width="2.35" height="7.50" fill="#a2e1ee"/>
<rect x="527.29" y="425.60" width="2.35" height="4.25" fill="#cceff6"/>
<rect x="528.64" y="539.35" width="2.35" height="2.95" fill="#75d5e7"/>
<rect x="528.64" y="532.85" width="2.35" height="7.50" fill="#87daea"/>
<rect x="528.64" y="526.35" width="2.35" height="7.50" fill="#92ddec"/>
<rect x="528.64" y="519.85" width="2.35" height="7.50" fill="#a1e1ed"/>
<rect x="528.64" y="513.35" width="2.35" height="7.50" fill="#92ddeb"/>
<rect x="528.64" y="506.85" width="2.35" height="7.50" fill="#96deec"/>
<rect x="528.64" y="500.35" width="2.35" height="7.50" fill="#89daea"/>
<rect x="528.64" y="493.85" width="2.35" height="7.50" fill="#65d1e4"/>
<rect x="528.64" y="487.35" width="2.35" height="7.50" fill="#61d0e3"/>
<rect x="528.64" y="480.85" width="2.35" height="7.50" fill="#40c8dc"/>
<rect x="528.64" y="474.35" width="2.35" height="7.50" fill="#3dc7db"/>
<rect x="528.64" y="467.85" width="2.35" height="7.50" fill="#38c4d9"/>
<rect x="528.64" y="461.35" width="2.35" height="7.50" fill="#34bfd8"/>
<rect x="528.64" y="454.85" width="2.35" height="7.50" fill="#34bfd8"/>
<rect x="528.64" y="448.35" width="2.35" height="7.50" fill="#39c5da"/>
<rect x="528.64" y="441.85" width="2.35" height="7.50" fill="#4ccbdf"/>
<rect x="528.64" y="435.35" width="2.35" height="7.50" fill="#6fd4e6"/>
<rect x="528.64" y="428.85" width="2.35" height="7.50" fill="#ace4ef"/>
<rect x="528.64" y="425.60" width="2.35" height="4.25" fill="#dbf3f8"/>
<rect x="529.99" y="539.35" width="2.35" height="2.95" fill="#b8e9f2"/>
<rect x="529.99" y="532.85" width="2.35" height="7.50" fill="#b9e9f2"/>
<rect x="529.99" y="526.35" width="2.35" height="7.50" fill="#b6e8f1"/>
<rect x="529.99" y="519.85" width="2.35" height="7.50" fill="#cdeff6"/>
<rect x="529.99" y="513.35" width="2.35" height="7.50" fill="#d0f0f6"/>
<rect x="529.99" y="506.85" width="2.35" height="7.50" fill="#c9eef5"/>
<rect x="529.99" y="500.35" width="2.35" height="7.50" fill="#b4e7f1"/>
<rect x="529.99" y="493.85" width="2.35" height="7.50" fill="#aae4ef"/>
<rect x="529.99" y="487.35" width="2.35" height="7.50" fill="#84d9ea"/>
<rect x="529.99" y="480.85" width="2.35" height="7.50" fill="#6fd4e6"/>
<rect x="529.99" y="474.35" width="2.35" height="7.50" fill="#63d1e4"/>
<rect x="529.99" y="467.85" width="2.35" height="7.50" fill="#50cce0"/>
<rect x="529.99" y="461.35" width="2.35" height="7.50" fill="#5ccfe2"/>
<rect x="529.99" y="454.85" width="2.35" height="7.50" fill="#5fd0e3"/>
<rect x="529.99" y="448.35" width="2.35" height="7.50" fill="#5ecfe3"/>
<rect x="529.99" y="441.85" width="2.35" height="7.50" fill="#89dbea"/>
<rect x="529.99" y="435.35" width="2.35" height="7.50" fill="#beebf3"/>
<rect x="529.99" y="428.85" width="2.35" height="7.50" fill="#e1f5f9"/>
<rect x="529.99" y="425.60" width="2.35" height="4.25" fill="#f4fbfd"/>
<rect x="531.34" y="539.35" width="2.35" height="2.95" fill="#6ed3e6"/>
<rect x="531.34" y="532.85" width="2.35" height="7.50" fill="#73d5e7"/>
<rect x="531.34" y="526.35" width="2.35" height="7.50" fill="#78d6e8"/>
<rect x="531.34" y="519.85" width="2.35" height="7.50" fill="#8ddceb"/>
<rect x="531.34" y="513.35" width="2.35" height="7.50" fill="#84d9ea"/>
<rect x="531.34" y="506.85" width="2.35" height="7.50" fill="#93ddec"/>
<rect x="531.34" y="500.35" width="2.35" height="7.50" fill="#8fdceb"/>
<rect x="531.34" y="493.85" width="2.35" height="7.50" fill="#63d1e4"/>
<rect x="531.34" y="487.35" width="2.35" height="7.50" fill="#6dd3e6"/>
<rect x="531.34" y="480.85" width="2.35" height="7.50" fill="#43c8dc"/>
<rect x="531.34" y="474.35" width="2.35" height="7.50" fill="#3fc7db"/>
<rect x="531.34" y="467.85" width="2.35" height="7.50" fill="#38c4d9"/>
<rect x="531.34" y="461.35" width="2.35" height="7.50" fill="#32bdd7"/>
<rect x="531.34" y="454.85" width="2.35" height="7.50" fill="#34bfd8"/>
<rect x="531.34" y="448.35" width="2.35" height="7.50" fill="#36c2d9"/>
<rect x="531.34" y="441.85" width="2.35" height="7.50" fill="#3dc7db"/>
<rect x="531.34" y="435.35" width="2.35" height="7.50" fill="#63d1e4"/>
<rect x="531.34" y="428.85" width="2.35" height="7.50" fill="#a7e3ee"/>
<rect x="531.34" y="425.60" width="2.35" height="4.25" fill="#cff0f6"/>
<rect x="532.69" y="539.35" width="2.35" height="2.95" fill="#7cd7e9"/>
<rect x="532.69" y="532.85" width="2.35" height="7.50" fill="#74d5e7"/>
<rect x="532.69" y="526.35" width="2.35" height="7.50" fill="#7bd7e8"/>
<rect x="532.69" y="519.85" width="2.35" height="7.50" fill="#83d9e9"/>
<rect x="532.69" y="513.35" width="2.35" height="7.50" fill="#8adbea"/>
<rect x="532.69" y="506.85" width="2.35" height="7.50" fill="#94deec"/>
<rect x="532.69" y="500.35" width="2.35" height="7.50" fill="#84d9ea"/>
<rect x="532.69" y="493.85" width="2.35" height="7.50" fill="#7fd8e9"/>
<rect x="532.69" y="487.35" width="2.35" height="7.50" fill="#67d2e5"/>
<rect x="532.69" y="480.85" width="2.35" height="7.50" fill="#4dcbdf"/>
<rect x="532.69" y="474.35" width="2.35" height="7.50" fill="#45c9dd"/>
<rect x="532.69" y="467.85" width="2.35" height="7.50" fill="#3ac6da"/>
<rect x="532.69" y="461.35" width="2.35" height="7.50" fill="#36c1d9"/>
<rect x="532.69" y="454.85" width="2.35" height="7.50" fill="#35c1d8"/>
<rect x="532.69" y="448.35" width="2.35" height="7.50" fill="#38c3d9"/>
<rect x="532.69" y="441.85" width="2.35" height="7.50" fill="#3fc7db"/>
<rect x="532.69" y="435.35" width="2.35" height="7.50" fill="#58cee2"/>
<rect x="532.69" y="428.85" width="2.35" height="7.50" fill="#97deec"/>
<rect x="532.69" y="425.60" width="2.35" height="4.25" fill="#cbeff6"/>
<rect x="534.04" y="539.35" width="2.35" height="2.95" fill="#8edceb"/>
<rect x="534.04" y="532.85" width="2.35" height="7.50" fill="#82d9e9"/>
<rect x="534.04" y="526.35" width="2.35" height="7.50" fill="#9ce0ed"/>
<rect x="534.04" y="519.85" width="2.35" height="7.50" fill="#a8e3ef"/>
<rect x="534.04" y="513.35" width="2.35" height="7.50" fill="#ace4ef"/>
<rect x="534.04" y="506.85" width="2.35" height="7.50" fill="#abe4ef"/>
<rect x="534.04" y="500.35" width="2.35" height="7.50" fill="#9ce0ed"/>
<rect x="534.04" y="493.85" width="2.35" height="7.50" fill="#78d6e8"/>
<rect x="534.04" y="487.35" width="2.35" height="7.50" fill="#6cd3e6"/>
<rect x="534.04" y="480.85" width="2.35" height="7.50" fill="#45c9dd"/>
<rect x="534.04" y="474.35" width="2.35" height="7.50" fill="#4acade"/>
<rect x="534.04" y="467.85" width="2.35" height="7.50" fill="#40c8dc"/>
<rect x="534.04" y="461.35" width="2.35" height="7.50" fill="#31bbd7"/>
<rect x="534.04" y="454.85" width="2.35" height="7.50" fill="#3ac6da"/>
<rect x="534.04" y="448.35" width="2.35" height="7.50" fill="#40c8dc"/>
<rect x="534.04" y="441.85" width="2.35" height="7.50" fill="#49cade"/>
<rect x="534.04" y="435.35" width="2.35" height="7.50" fill="#87daea"/>
<rect x="534.04" y="428.85" width="2.35" height="7.50" fill="#bceaf3"/>
<rect x="534.04" y="425.60" width="2.35" height="4.25" fill="#d7f2f8"/>
<rect x="535.39" y="539.35" width="2.35" height="2.95" fill="#96deec"/>
<rect x="535.39" y="532.85" width="2.35" height="7.50" fill="#a2e1ee"/>
<rect x="535.39" y="526.35" width="2.35" height="7.50" fill="#a4e2ee"/>
<rect x="535.39" y="519.85" width="2.35" height="7.50" fill="#ade5f0"/>
<rect x="535.39" y="513.35" width="2.35" height="7.50" fill="#b1e6f0"/>
<rect x="535.39" y="506.85" width="2.35" height="7.50" fill="#aae4ef"/>
<rect x="535.39" y="500.35" width="2.35" height="7.50" fill="#aae4ef"/>
<rect x="535.39" y="493.85" width="2.35" height="7.50" fill="#9ee0ed"/>
<rect x="535.39" y="487.35" width="2.35" height="7.50" fill="#73d5e7"/>
<rect x="535.39" y="480.85" width="2.35" height="7.50" fill="#65d1e4"/>
<rect x="535.39" y="474.35" width="2.35" height="7.50" fill="#47c9dd"/>
<rect x="535.39" y="467.85" width="2.35" height="7.50" fill="#43c9dd"/>
<rect x="535.39" y="461.35" width="2.35" height="7.50" fill="#41c8dc"/>
<rect x="535.39" y="454.85" width="2.35" height="7.50" fill="#47cade"/>
<rect x="535.39" y="448.35" width="2.35" height="7.50" fill="#4acade"/>
<rect x="535.39" y="441.85" width="2.35" height="7.50" fill="#4fcce0"/>
<rect x="535.39" y="435.35" width="2.35" height="7.50" fill="#85daea"/>
<rect x="535.39" y="428.85" width="2.35" height="7.50" fill="#afe5f0"/>
<rect x="535.39" y="425.60" width="2.35" height="4.25" fill="#dcf4f9"/>
<rect x="536.73" y="539.35" width="2.35" height="2.95" fill="#6ed4e6"/>
<rect x="536.73" y="532.85" width="2.35" height="7.50" fill="#77d6e8"/>
<rect x="536.73" y="526.35" width="2.35" height="7.50" fill="#78d6e8"/>
<rect x="536.73" y="519.85" width="2.35" height="7.50" fill="#7bd7e8"/>
<rect x="536.73" y="513.35" width="2.35" height="7.50" fill="#70d4e6"/>
<rect x="536.73" y="506.85" width="2.35" height="7.50" fill="#8ddceb"/>
<rect x="536.73" y="500.35" width="2.35" height="7.50" fill="#78d6e8"/>
<rect x="536.73" y="493.85" width="2.35" height="7.50" fill="#71d4e7"/>
<rect x="536.73" y="487.35" width="2.35" height="7.50" fill="#74d5e7"/>
<rect x="536.73" y="480.85" width="2.35" height="7.50" fill="#5acee2"/>
<rect x="536.73" y="474.35" width="2.35" height="7.50" fill="#62d0e4"/>
<rect x="536.73" y="467.85" width="2.35" height="7.50" fill="#5dcfe3"/>
<rect x="536.73" y="461.35" width="2.35" height="7.50" fill="#5ccfe2"/>
<rect x="536.73" y="454.85" width="2.35" height="7.50" fill="#66d1e4"/>
<rect x="536.73" y="448.35" width="2.35" height="7.50" fill="#65d1e4"/>
<rect x="536.73" y="441.85" width="2.35" height="7.50" fill="#8ddceb"/>
<rect x="536.73" y="435.35" width="2.35" height="7.50" fill="#bbeaf2"/>
<rect x="536.73" y="428.85" width="2.35" height="7.50" fill="#daf3f8"/>
<rect x="536.73" y="425.60" width="2.35" height="4.25" fill="#edf9fb"/>
<rect x="538.08" y="539.35" width="2.35" height="2.95" fill="#42c8dc"/>
<rect x="538.08" y="532.85" width="2.35" height="7.50" fill="#48cade"/>
<rect x="538.08" y="526.35" width="2.35" height="7.50" fill="#3fc7db"/>
<rect x="538.08" y="519.85" width="2.35" height="7.50" fill="#48cade"/>
<rect x="538.08" y="513.35" width="2.35" height="7.50" fill="#44c9dd"/>
<rect x="538.08" y="506.85" width="2.35" height="7.50" fill="#47cade"/>
<rect x="538.08" y="500.35" width="2.35" height="7.50" fill="#48cade"/>
<rect x="538.08" y="493.85" width="2.35" height="7.50" fill="#4bcbdf"/>
<rect x="538.08" y="487.35" width="2.35" height="7.50" fill="#3fc7db"/>
<rect x="538.08" y="480.85" width="2.35" height="7.50" fill="#48cade"/>
<rect x="538.08" y="474.35" width="2.35" height="7.50" fill="#3ec7db"/>
<rect x="538.08" y="467.85" width="2.35" height="7.50" fill="#3ac6da"/>
<rect x="538.08" y="461.35" width="2.35" height="7.50" fill="#3dc7db"/>
<rect x="538.08" y="454.85" width="2.35" height="7.50" fill="#3dc7db"/>
<rect x="538.08" y="448.35" width="2.35" height="7.50" fill="#45c9dd"/>
<rect x="538.08" y="441.85" width="2.35" height="7.50" fill="#8adbea"/>
<rect x="538.08" y="435.35" width="2.35" height="7.50" fill="#b3e7f1"/>
<rect x="538.08" y="428.85" width="2.35" height="7.50" fill="#d9f3f8"/>
<rect x="538.08" y="425.60" width="2.35" height="4.25" fill="#e8f7fb"/>
<rect x="539.43" y="539.35" width="2.35" height="2.95" fill="#38c4d9"/>
<rect x="539.43" y="532.85" width="2.35" height="7.50" fill="#3dc7db"/>
<rect x="539.43" y="526.35" width="2.35" height="7.50" fill="#3bc6da"/>
<rect x="539.43" y="519.85" width="2.35" height="7.50" fill="#3ec7db"/>
<rect x="539.43" y="513.35" width="2.35" height="7.50" fill="#3cc7db"/>
<rect x="539.43" y="506.85" width="2.35" height="7.50" fill="#47cade"/>
<rect x="539.43" y="500.35" width="2.35" height="7.50" fill="#42c8dc"/>
<rect x="539.43" y="493.85" width="2.35" height="7.50" fill="#40c8dc"/>
<rect x="539.43" y="487.35" width="2.35" height="7.50" fill="#3bc6da"/>
<rect x="539.43" y="480.85" width="2.35" height="7.50" fill="#38c3d9"/>
<rect x="539.43" y="474.35" width="2.35" height="7.50" fill="#36c2d9"/>
<rect x="539.43" y="467.85" width="2.35" height="7.50" fill="#37c3d9"/>
<rect x="539.43" y="461.35" width="2.35" height="7.50" fill="#36c1d9"/>
<rect x="539.43" y="454.85" width="2.35" height="7.50" fill="#3bc6da"/>
<rect x="539.43" y="448.35" width="2.35" height="7.50" fill="#3ac6da"/>
<rect x="539.43" y="441.85" width="2.35" height="7.50" fill="#60d0e3"/>
<rect x="539.43" y="435.35" width="2.35" height="7.50" fill="#96deec"/>
<rect x="539.43" y="428.85" width="2.35" height="7.50" fill="#bceaf3"/>
<rect x="539.43" y="425.60" width="2.35" height="4.25" fill="#dbf3f8"/>
<rect x="540.78" y="539.35" width="2.35" height="2.95" fill="#46c9dd"/>
<rect x="540.78" y="532.85" width="2.35" height="7.50" fill="#45c9dd"/>
<rect x="540.78" y="526.35" width="2.35" height="7.50" fill="#4ccbdf"/>
<rect x="540.78" y="519.85" width="2.35" height="7.50" fill="#53cde1"/>
<rect x="540.78" y="513.35" width="2.35" height="7.50" fill="#4ccbdf"/>
<rect x="540.78" y="506.85" width="2.35" height="7.50" fill="#45c9dd"/>
<rect x="540.78" y="500.35" width="2.35" height="7.50" fill="#59cee2"/>
<rect x="540.78" y="493.85" width="2.35" height="7.50" fill="#52cce0"/>
<rect x="540.78" y="487.35" width="2.35" height="7.50" fill="#4acade"/>
<rect x="540.78" y="480.85" width="2.35" height="7.50" fill="#40c8dc"/>
<rect x="540.78" y="474.35" width="2.35" height="7.50" fill="#45c9dd"/>
<rect x="540.78" y="467.85" width="2.35" height="7.50" fill="#46c9dd"/>
<rect x="540.78" y="461.35" width="2.35" height="7.50" fill="#3ec7db"/>
<rect x="540.78" y="454.85" width="2.35" height="7.50" fill="#47c9dd"/>
<rect x="540.78" y="448.35" width="2.35" height="7.50" fill="#43c9dd"/>
<rect x="540.78" y="441.85" width="2.35" height="7.50" fill="#69d2e5"/>
<rect x="540.78" y="435.35" width="2.35" height="7.50" fill="#92ddec"/>
<rect x="540.78" y="428.85" width="2.35" height="7.50" fill="#c2ecf4"/>
<rect x="540.78" y="425.60" width="2.35" height="4.25" fill="#d9f3f8"/>
<rect x="542.13" y="539.35" width="2.35" height="2.95" fill="#45c9dd"/>
<rect x="542.13" y="532.85" width="2.35" height="7.50" fill="#44c9dd"/>
<rect x="542.13" y="526.35" width="2.35" height="7.50" fill="#44c9dd"/>
<rect x="542.13" y="519.85" width="2.35" height="7.50" fill="#47cade"/>
<rect x="542.13" y="513.35" width="2.35" height="7.50" fill="#4dcbdf"/>
<rect x="542.13" y="506.85" width="2.35" height="7.50" fill="#49cade"/>
<rect x="542.13" y="500.35" width="2.35" height="7.50" fill="#4bcbdf"/>
<rect x="542.13" y="493.85" width="2.35" height="7.50" fill="#43c8dc"/>
<rect x="542.13" y="487.35" width="2.35" height="7.50" fill="#3ec7db"/>
<rect x="542.13" y="480.85" width="2.35" height="7.50" fill="#3cc6da"/>
<rect x="542.13" y="474.35" width="2.35" height="7.50" fill="#41c8dc"/>
<rect x="542.13" y="467.85" width="2.35" height="7.50" fill="#3dc7db"/>
<rect x="542.13" y="461.35" width="2.35" height="7.50" fill="#46c9dd"/>
<rect x="542.13" y="454.85" width="2.35" height="7.50" fill="#45c9dd"/>
<rect x="542.13" y="448.35" width="2.35" height="7.50" fill="#57cee1"/>
<rect x="542.13" y="441.85" width="2.35" height="7.50" fill="#8adbea"/>
<rect x="542.13" y="435.35" width="2.35" height="7.50" fill="#c2ecf4"/>
<rect x="542.13" y="428.85" width="2.35" height="7.50" fill="#cff0f6"/>
<rect x="542.13" y="425.60" width="2.35" height="4.25" fill="#e7f7fa"/>
<rect x="543.48" y="539.35" width="2.35" height="2.95" fill="#5dcfe3"/>
<rect x="543.48" y="532.85" width="2.35" height="7.50" fill="#58cee2"/>
<rect x="543.48" y="526.35" width="2.35" height="7.50" fill="#61d0e3"/>
<rect x="543.48" y="519.85" width="2.35" height="7.50" fill="#66d2e4"/>
<rect x="543.48" y="513.35" width="2.35" height="7.50" fill="#65d1e4"/>
<rect x="543.48" y="506.85" width="2.35" height="7.50" fill="#65d1e4"/>
<rect x="543.48" y="500.35" width="2.35" height="7.50" fill="#59cee2"/>
<rect x="543.48" y="493.85" width="2.35" height="7.50" fill="#65d1e4"/>
<rect x="543.48" y="487.35" width="2.35" height="7.50" fill="#60d0e3"/>
<rect x="543.48" y="480.85" width="2.35" height="7.50" fill="#62d1e4"/>
<rect x="543.48" y="474.35" width="2.35" height="7.50" fill="#5acee2"/>
<rect x="543.48" y="467.85" width="2.35" height="7.50" fill="#64d1e4"/>
<rect x="543.48" y="461.35" width="2.35" height="7.50" fill="#77d6e8"/>
<rect x="543.48" y="454.85" width="2.35" height="7.50" fill="#88daea"/>
<rect x="543.48" y="448.35" width="2.35" height="7.50" fill="#a8e3ef"/>
<rect x="543.48" y="441.85" width="2.35" height="7.50" fill="#cdeff6"/>
<rect x="543.48" y="435.35" width="2.35" height="7.50" fill="#dff5f9"/>
<rect x="544.83" y="539.35" width="2.35" height="2.95" fill="#41c8dc"/>
<rect x="544.83" y="532.85" width="2.35" height="7.50" fill="#3cc7db"/>
<rect x="544.83" y="526.35" width="2.35" height="7.50" fill="#3fc7db"/>
<rect x="544.83" y="519.85" width="2.35" height="7.50" fill="#40c8dc"/>
<rect x="544.83" y="513.35" width="2.35" height="7.50" fill="#38c3d9"/>
<rect x="544.83" y="506.85" width="2.35" height="7.50" fill="#40c8dc"/>
<rect x="544.83" y="500.35" width="2.35" height="7.50" fill="#41c8dc"/>
<rect x="544.83" y="493.85" width="2.35" height="7.50" fill="#3bc6da"/>
<rect x="544.83" y="487.35" width="2.35" height="7.50" fill="#3ac6da"/>
<rect x="544.83" y="480.85" width="2.35" height="7.50" fill="#45c9dd"/>
<rect x="544.83" y="474.35" width="2.35" height="7.50" fill="#3ec7db"/>
<rect x="544.83" y="467.85" width="2.35" height="7.50" fill="#47cade"/>
<rect x="544.83" y="461.35" width="2.35" height="7.50" fill="#58cee2"/>
<rect x="544.83" y="454.85" width="2.35" height="7.50" fill="#7fd8e9"/>
<rect x="544.83" y="448.35" width="2.35" height="7.50" fill="#b0e6f0"/>
<rect x="544.83" y="441.85" width="2.35" height="7.50" fill="#d1f0f7"/>
<rect x="544.83" y="435.35" width="2.35" height="7.50" fill="#e1f5fa"/>
<rect x="544.83" y="428.85" width="2.35" height="7.50" fill="#f5fcfd"/>
<rect x="544.83" y="425.60" width="2.35" height="4.25" fill="#f7fcfd"/>
<rect x="546.18" y="539.35" width="2.35" height="2.95" fill="#3cc7db"/>
<rect x="546.18" y="532.85" width="2.35" height="7.50" fill="#3dc7db"/>
<rect x="546.18" y="526.35" width="2.35" height="7.50" fill="#44c9dd"/>
<rect x="546.18" y="519.85" width="2.35" height="7.50" fill="#38c3d9"/>
<rect x="546.18" y="513.35" width="2.35" height="7.50" fill="#3dc7db"/>
<rect x="546.18" y="506.85" width="2.35" height="7.50" fill="#44c9dd"/>
<rect x="546.18" y="500.35" width="2.35" height="7.50" fill="#3ac6da"/>
<rect x="546.18" y="493.85" width="2.35" height="7.50" fill="#36c2d9"/>
<rect x="546.18" y="487.35" width="2.35" height="7.50" fill="#3fc7db"/>
<rect x="546.18" y="480.85" width="2.35" height="7.50" fill="#38c4d9"/>
<rect x="546.18" y="474.35" width="2.35" height="7.50" fill="#3ac6da"/>
<rect x="546.18" y="467.85" width="2.35" height="7.50" fill="#4ccbdf"/>
<rect x="546.18" y="461.35" width="2.35" height="7.50" fill="#54cde1"/>
<rect x="546.18" y="454.85" width="2.35" height="7.50" fill="#87daea"/>
<rect x="546.18" y="448.35" width="2.35" height="7.50" fill="#aee5f0"/>
<rect x="546.18" y="441.85" width="2.35" height="7.50" fill="#d5f2f7"/>
<rect x="546.18" y="435.35" width="2.35" height="7.50" fill="#eaf8fb"/>
<rect x="547.53" y="539.35" width="2.35" height="2.95" fill="#3cc7db"/>
<rect x="547.53" y="532.85" width="2.35" height="7.50" fill="#3dc7db"/>
<rect x="547.53" y="526.35" width="2.35" height="7.50" fill="#3ac6da"/>
<rect x="547.53" y="519.85" width="2.35" height="7.50" fill="#44c9dd"/>
<rect x="547.53" y="513.35" width="2.35" height="7.50" fill="#40c8dc"/>
<rect x="547.53" y="506.85" width="2.35" height="7.50" fill="#3fc7db"/>
<rect x="547.53" y="500.35" width="2.35" height="7.50" fill="#3bc6da"/>
<rect x="547.53" y="493.85" width="2.35" height="7.50" fill="#3bc6da"/>
<rect x="547.53" y="487.35" width="2.35" height="7.50" fill="#39c5da"/>
<rect x="547.53" y="480.85" width="2.35" height="7.50" fill="#40c8dc"/>
<rect x="547.53" y="474.35" width="2.35" height="7.50" fill="#3bc6da"/>
<rect x="547.53" y="467.85" width="2.35" height="7.50" fill="#41c8dc"/>
<rect x="547.53" y="461.35" width="2.35" height="7.50" fill="#53cde1"/>
<rect x="547.53" y="454.85" width="2.35" height="7.50" fill="#66d2e4"/>
<rect x="547.53" y="448.35" width="2.35" height="7.50" fill="#9bdfed"/>
<rect x="547.53" y="441.85" width="2.35" height="7.50" fill="#c9eef5"/>
<rect x="547.53" y="435.35" width="2.35" height="7.50" fill="#dff5f9"/>
<rect x="547.53" y="428.85" width="2.35" height="7.50" fill="#f5fcfd"/>
<rect x="548.87" y="539.35" width="2.35" height="2.95" fill="#43c9dd"/>
<rect x="548.87" y="532.85" width="2.35" height="7.50" fill="#49cade"/>
<rect x="548.87" y="526.35" width="2.35" height="7.50" fill="#3fc7db"/>
<rect x="548.87" y="519.85" width="2.35" height="7.50" fill="#3fc7db"/>
<rect x="548.87" y="513.35" width="2.35" height="7.50" fill="#47c9dd"/>
<rect x="548.87" y="506.85" width="2.35" height="7.50" fill="#46c9dd"/>
<rect x="548.87" y="500.35" width="2.35" height="7.50" fill="#49cade"/>
<rect x="548.87" y="493.85" width="2.35" height="7.50" fill="#44c9dd"/>
<rect x="548.87" y="487.35" width="2.35" height="7.50" fill="#46c9dd"/>
<rect x="548.87" y="480.85" width="2.35" height="7.50" fill="#49cade"/>
<rect x="548.87" y="474.35" width="2.35" height="7.50" fill="#60d0e3"/>
<rect x="548.87" y="467.85" width="2.35" height="7.50" fill="#84d9ea"/>
<rect x="548.87" y="461.35" width="2.35" height="7.50" fill="#b1e6f0"/>
<rect x="548.87" y="454.85" width="2.35" height="7.50" fill="#d3f1f7"/>
<rect x="548.87" y="448.35" width="2.35" height="7.50" fill="#e9f8fb"/>
<rect x="550.22" y="539.35" width="2.35" height="2.95" fill="#52cde0"/>
<rect x="550.22" y="532.85" width="2.35" height="7.50" fill="#4ecbdf"/>
<rect x="550.22" y="526.35" width="2.35" height="7.50" fill="#4dcbdf"/>
<rect x="550.22" y="519.85" width="2.35" height="7.50" fill="#45c9dd"/>
<rect x="550.22" y="513.35" width="2.35" height="7.50" fill="#5bcfe2"/>
<rect x="550.22" y="506.85" width="2.35" height="7.50" fill="#48cade"/>
<rect x="550.22" y="500.35" width="2.35" height="7.50" fill="#4dcbdf"/>
<rect x="550.22" y="493.85" width="2.35" height="7.50" fill="#43c8dc"/>
<rect x="550.22" y="487.35" width="2.35" height="7.50" fill="#49cade"/>
<rect x="550.22" y="480.85" width="2.35" height="7.50" fill="#46c9dd"/>
<rect x="550.22" y="474.35" width="2.35" height="7.50" fill="#50cce0"/>
<rect x="550.22" y="467.85" width="2.35" height="7.50" fill="#71d4e7"/>
<rect x="550.22" y="461.35" width="2.35" height="7.50" fill="#8fdceb"/>
<rect x="550.22" y="454.85" width="2.35" height="7.50" fill="#b8e9f2"/>
<rect x="550.22" y="448.35" width="2.35" height="7.50" fill="#d8f3f8"/>
<rect x="550.22" y="441.85" width="2.35" height="7.50" fill="#f1fafc"/>
<rect x="551.57" y="539.35" width="2.35" height="2.95" fill="#6fd4e6"/>
<rect x="551.57" y="532.85" width="2.35" height="7.50" fill="#58cee2"/>
<rect x="551.57" y="526.35" width="2.35" height="7.50" fill="#6bd3e5"/>
<rect x="551.57" y="519.85" width="2.35" height="7.50" fill="#71d4e7"/>
<rect x="551.57" y="513.35" width="2.35" height="7.50" fill="#66d1e4"/>
<rect x="551.57" y="506.85" width="2.35" height="7.50" fill="#67d2e5"/>
<rect x="551.57" y="500.35" width="2.35" height="7.50" fill="#5ccfe2"/>
<rect x="551.57" y="493.85" width="2.35" height="7.50" fill="#63d1e4"/>
<rect x="551.57" y="487.35" width="2.35" height="7.50" fill="#64d1e4"/>
<rect x="551.57" y="480.85" width="2.35" height="7.50" fill="#67d2e5"/>
<rect x="551.57" y="474.35" width="2.35" height="7.50" fill="#6ad2e5"/>
<rect x="551.57" y="467.85" width="2.35" height="7.50" fill="#75d5e7"/>
<rect x="551.57" y="461.35" width="2.35" height="7.50" fill="#97deec"/>
<rect x="551.57" y="454.85" width="2.35" height="7.50" fill="#b4e7f1"/>
<rect x="551.57" y="448.35" width="2.35" height="7.50" fill="#d2f1f7"/>
<rect x="551.57" y="441.85" width="2.35" height="7.50" fill="#e7f7fa"/>
<rect x="551.57" y="435.35" width="2.35" height="7.50" fill="#f6fcfd"/>
<rect x="552.92" y="539.35" width="2.35" height="2.95" fill="#50cce0"/>
<rect x="552.92" y="532.85" width="2.35" height="7.50" fill="#53cde1"/>
<rect x="552.92" y="526.35" width="2.35" height="7.50" fill="#59cee2"/>
<rect x="552.92" y="519.85" width="2.35" height="7.50" fill="#56cde1"/>
<rect x="552.92" y="513.35" width="2.35" height="7.50" fill="#64d1e4"/>
<rect x="552.92" y="506.85" width="2.35" height="7.50" fill="#5dcfe3"/>
<rect x="552.92" y="500.35" width="2.35" height="7.50" fill="#51cce0"/>
<rect x="552.92" y="493.85" width="2.35" height="7.50" fill="#52cce0"/>
<rect x="552.92" y="487.35" width="2.35" height="7.50" fill="#6cd3e6"/>
<rect x="552.92" y="480.85" width="2.35" height="7.50" fill="#7dd7e9"/>
<rect x="552.92" y="474.35" width="2.35" height="7.50" fill="#8edceb"/>
<rect x="552.92" y="467.85" width="2.35" height="7.50" fill="#c2ecf4"/>
<rect x="552.92" y="461.35" width="2.35" height="7.50" fill="#e5f6fa"/>
<rect x="552.92" y="454.85" width="2.35" height="7.50" fill="#edf9fc"/>
<rect x="554.27" y="539.35" width="2.35" height="2.95" fill="#35c0d8"/>
<rect x="554.27" y="532.85" width="2.35" height="7.50" fill="#33bed8"/>
<rect x="554.27" y="526.35" width="2.35" height="7.50" fill="#36c1d9"/>
<rect x="554.27" y="519.85" width="2.35" height="7.50" fill="#37c2d9"/>
<rect x="554.27" y="513.35" width="2.35" height="7.50" fill="#34bfd8"/>
<rect x="554.27" y="506.85" width="2.35" height="7.50" fill="#37c2d9"/>
<rect x="554.27" y="500.35" width="2.35" height="7.50" fill="#35c0d8"/>
<rect x="554.27" y="493.85" width="2.35" height="7.50" fill="#39c4da"/>
<rect x="554.27" y="487.35" width="2.35" height="7.50" fill="#36c2d9"/>
<rect x="554.27" y="480.85" width="2.35" height="7.50" fill="#37c2d9"/>
<rect x="554.27" y="474.35" width="2.35" height="7.50" fill="#38c4d9"/>
<rect x="554.27" y="467.85" width="2.35" height="7.50" fill="#56cee1"/>
<rect x="554.27" y="461.35" width="2.35" height="7.50" fill="#6ed3e6"/>
<rect x="554.27" y="454.85" width="2.35" height="7.50" fill="#9bdfed"/>
<rect x="554.27" y="448.35" width="2.35" height="7.50" fill="#c0ebf3"/>
<rect x="554.27" y="441.85" width="2.35" height="7.50" fill="#e0f5f9"/>
<rect x="554.27" y="435.35" width="2.35" height="7.50" fill="#f5fcfd"/>
<rect x="555.62" y="539.35" width="2.35" height="2.95" fill="#3cc6da"/>
<rect x="555.62" y="532.85" width="2.35" height="7.50" fill="#38c4d9"/>
<rect x="555.62" y="526.35" width="2.35" height="7.50" fill="#33bed8"/>
<rect x="555.62" y="519.85" width="2.35" height="7.50" fill="#39c5da"/>
<rect x="555.62" y="513.35" width="2.35" height="7.50" fill="#37c3d9"/>
<rect x="555.62" y="506.85" width="2.35" height="7.50" fill="#36c2d9"/>
<rect x="555.62" y="500.35" width="2.35" height="7.50" fill="#35c0d8"/>
<rect x="555.62" y="493.85" width="2.35" height="7.50" fill="#38c4d9"/>
<rect x="555.62" y="487.35" width="2.35" height="7.50" fill="#37c2d9"/>
<rect x="555.62" y="480.85" width="2.35" height="7.50" fill="#39c5da"/>
<rect x="555.62" y="474.35" width="2.35" height="7.50" fill="#42c8dc"/>
<rect x="555.62" y="467.85" width="2.35" height="7.50" fill="#4dcbdf"/>
<rect x="555.62" y="461.35" width="2.35" height="7.50" fill="#78d6e8"/>
<rect x="555.62" y="454.85" width="2.35" height="7.50" fill="#b8e8f2"/>
<rect x="555.62" y="448.35" width="2.35" height="7.50" fill="#d3f1f7"/>
<rect x="555.62" y="441.85" width="2.35" height="7.50" fill="#e7f7fa"/>
<rect x="555.62" y="435.35" width="2.35" height="7.50" fill="#f6fcfd"/>
<rect x="556.97" y="539.35" width="2.35" height="2.95" fill="#4ecce0"/>
<rect x="556.97" y="532.85" width="2.35" height="7.50" fill="#47cade"/>
<rect x="556.97" y="526.35" width="2.35" height="7.50" fill="#50cce0"/>
<rect x="556.97" y="519.85" width="2.35" height="7.50" fill="#45c9dd"/>
<rect x="556.97" y="513.35" width="2.35" height="7.50" fill="#49cade"/>
<rect x="556.97" y="506.85" width="2.35" height="7.50" fill="#49cade"/>
<rect x="556.97" y="500.35" width="2.35" height="7.50" fill="#4acade"/>
<rect x="556.97" y="493.85" width="2.35" height="7.50" fill="#43c9dd"/>
<rect x="556.97" y="487.35" width="2.35" height="7.50" fill="#44c9dd"/>
<rect x="556.97" y="480.85" width="2.35" height="7.50" fill="#52cce0"/>
<rect x="556.97" y="474.35" width="2.35" height="7.50" fill="#45c9dd"/>
<rect x="556.97" y="467.85" width="2.35" height="7.50" fill="#4acade"/>
<rect x="556.97" y="461.35" width="2.35" height="7.50" fill="#63d1e4"/>
<rect x="556.97" y="454.85" width="2.35" height="7.50" fill="#89dbea"/>
<rect x="556.97" y="448.35" width="2.35" height="7.50" fill="#b5e8f1"/>
<rect x="556.97" y="441.85" width="2.35" height="7.50" fill="#e2f6fa"/>
<rect x="556.97" y="435.35" width="2.35" height="7.50" fill="#f1fafc"/>
<rect x="558.32" y="539.35" width="2.35" height="2.95" fill="#38c3d9"/>
<rect x="558.32" y="532.85" width="2.35" height="7.50" fill="#3cc7db"/>
<rect x="558.32" y="526.35" width="2.35" height="7.50" fill="#35c1d8"/>
<rect x="558.32" y="519.85" width="2.35" height="7.50" fill="#37c2d9"/>
<rect x="558.32" y="513.35" width="2.35" height="7.50" fill="#37c2d9"/>
<rect x="558.32" y="506.85" width="2.35" height="7.50" fill="#35c1d8"/>
<rect x="558.32" y="500.35" width="2.35" height="7.50" fill="#3ac6da"/>
<rect x="558.32" y="493.85" width="2.35" height="7.50" fill="#36c1d9"/>
<rect x="558.32" y="487.35" width="2.35" height="7.50" fill="#37c2d9"/>
<rect x="558.32" y="480.85" width="2.35" height="7.50" fill="#34bfd8"/>
<rect x="558.32" y="474.35" width="2.35" height="7.50" fill="#41c8dc"/>
<rect x="558.32" y="467.85" width="2.35" height="7.50" fill="#48cade"/>
<rect x="558.32" y="461.35" width="2.35" height="7.50" fill="#65d1e4"/>
<rect x="558.32" y="454.85" width="2.35" height="7.50" fill="#9ee0ed"/>
<rect x="558.32" y="448.35" width="2.35" height="7.50" fill="#d3f1f7"/>
<rect x="558.32" y="441.85" width="2.35" height="7.50" fill="#e6f7fa"/>
<rect x="558.32" y="435.35" width="2.35" height="7.50" fill="#f4fbfd"/>
<rect x="559.67" y="539.35" width="2.35" height="2.95" fill="#37c2d9"/>
<rect x="559.67" y="532.85" width="2.35" height="7.50" fill="#3bc6da"/>
<rect x="559.67" y="526.35" width="2.35" height="7.50" fill="#43c8dc"/>
<rect x="559.67" y="519.85" width="2.35" height="7.50" fill="#33bdd8"/>
<rect x="559.67" y="513.35" width="2.35" height="7.50" fill="#3ac6da"/>
<rect x="559.67" y="506.85" width="2.35" height="7.50" fill="#34bfd8"/>
<rect x="559.67" y="500.35" width="2.35" height="7.50" fill="#3cc7db"/>
<rect x="559.67" y="493.85" width="2.35" height="7.50" fill="#38c4d9"/>
<rect x="559.67" y="487.35" width="2.35" height="7.50" fill="#39c5da"/>
<rect x="559.67" y="480.85" width="2.35" height="7.50" fill="#3ec7db"/>
<rect x="559.67" y="474.35" width="2.35" height="7.50" fill="#39c4da"/>
<rect x="559.67" y="467.85" width="2.35" height="7.50" fill="#3ec7db"/>
<rect x="559.67" y="461.35" width="2.35" height="7.50" fill="#51cce0"/>
<rect x="559.67" y="454.85" width="2.35" height="7.50" fill="#77d6e8"/>
<rect x="559.67" y="448.35" width="2.35" height="7.50" fill="#a9e3ef"/>
<rect x="559.67" y="441.85" width="2.35" height="7.50" fill="#c1ecf4"/>
<rect x="559.67" y="435.35" width="2.35" height="7.50" fill="#dff5f9"/>
<rect x="559.67" y="428.85" width="2.35" height="7.50" fill="#f1fafc"/>
<rect x="561.01" y="539.35" width="2.35" height="2.95" fill="#37c3d9"/>
<rect x="561.01" y="532.85" width="2.35" height="7.50" fill="#38c4d9"/>
<rect x="561.01" y="526.35" width="2.35" height="7.50" fill="#3bc6da"/>
<rect x="561.01" y="519.85" width="2.35" height="7.50" fill="#3dc7db"/>
<rect x="561.01" y="513.35" width="2.35" height="7.50" fill="#37c2d9"/>
<rect x="561.01" y="506.85" width="2.35" height="7.50" fill="#3bc6da"/>
<rect x="561.01" y="500.35" width="2.35" height="7.50" fill="#3ec7db"/>
<rect x="561.01" y="493.85" width="2.35" height="7.50" fill="#42c8dc"/>
<rect x="561.01" y="487.35" width="2.35" height="7.50" fill="#48cade"/>
<rect x="561.01" y="480.85" width="2.35" height="7.50" fill="#57cee1"/>
<rect x="561.01" y="474.35" width="2.35" height="7.50" fill="#74d5e7"/>
<rect x="561.01" y="467.85" width="2.35" height="7.50" fill="#a9e3ef"/>
<rect x="561.01" y="461.35" width="2.35" height="7.50" fill="#c5edf4"/>
<rect x="561.01" y="454.85" width="2.35" height="7.50" fill="#e4f6fa"/>
<rect x="561.01" y="448.35" width="2.35" height="7.50" fill="#f0fafc"/>
<rect x="562.36" y="539.35" width="2.35" height="2.95" fill="#39c5da"/>
<rect x="562.36" y="532.85" width="2.35" height="7.50" fill="#39c5da"/>
<rect x="562.36" y="526.35" width="2.35" height="7.50" fill="#3dc7db"/>
<rect x="562.36" y="519.85" width="2.35" height="7.50" fill="#3ec7db"/>
<rect x="562.36" y="513.35" width="2.35" height="7.50" fill="#3cc7db"/>
<rect x="562.36" y="506.85" width="2.35" height="7.50" fill="#3dc7db"/>
<rect x="562.36" y="500.35" width="2.35" height="7.50" fill="#36c2d9"/>
<rect x="562.36" y="493.85" width="2.35" height="7.50" fill="#3cc7db"/>
<rect x="562.36" y="487.35" width="2.35" height="7.50" fill="#39c5da"/>
<rect x="562.36" y="480.85" width="2.35" height="7.50" fill="#38c4d9"/>
<rect x="562.36" y="474.35" width="2.35" height="7.50" fill="#3bc6da"/>
<rect x="562.36" y="467.85" width="2.35" height="7.50" fill="#43c9dd"/>
<rect x="562.36" y="461.35" width="2.35" height="7.50" fill="#58cee2"/>
<rect x="562.36" y="454.85" width="2.35" height="7.50" fill="#9bdfed"/>
<rect x="562.36" y="448.35" width="2.35" height="7.50" fill="#bbe9f2"/>
<rect x="562.36" y="441.85" width="2.35" height="7.50" fill="#dcf4f9"/>
<rect x="562.36" y="435.35" width="2.35" height="7.50" fill="#ecf9fb"/>
<rect x="563.71" y="539.35" width="2.35" height="2.95" fill="#37c2d9"/>
<rect x="563.71" y="532.85" width="2.35" height="7.50" fill="#35c0d8"/>
<rect x="563.71" y="526.35" width="2.35" height="7.50" fill="#33bed8"/>
<rect x="563.71" y="519.85" width="2.35" height="7.50" fill="#36c1d9"/>
<rect x="563.71" y="513.35" width="2.35" height="7.50" fill="#34bfd8"/>
<rect x="563.71" y="506.85" width="2.35" height="7.50" fill="#32bdd7"/>
<rect x="563.71" y="500.35" width="2.35" height="7.50" fill="#37c2d9"/>
<rect x="563.71" y="493.85" width="2.35" height="7.50" fill="#31bcd7"/>
<rect x="563.71" y="487.35" width="2.35" height="7.50" fill="#37c2d9"/>
<rect x="563.71" y="480.85" width="2.35" height="7.50" fill="#39c4da"/>
<rect x="563.71" y="474.35" width="2.35" height="7.50" fill="#36c1d9"/>
<rect x="563.71" y="467.85" width="2.35" height="7.50" fill="#35c0d8"/>
<rect x="563.71" y="461.35" width="2.35" height="7.50" fill="#37c2d9"/>
<rect x="563.71" y="454.85" width="2.35" height="7.50" fill="#46c9dd"/>
<rect x="563.71" y="448.35" width="2.35" height="7.50" fill="#5ccfe2"/>
<rect x="563.71" y="441.85" width="2.35" height="7.50" fill="#87daea"/>
<rect x="563.71" y="435.35" width="2.35" height="7.50" fill="#b8e9f2"/>
<rect x="563.71" y="428.85" width="2.35" height="7.50" fill="#dbf3f8"/>
<rect x="563.71" y="425.60" width="2.35" height="4.25" fill="#f1fafc"/>
<rect x="565.06" y="539.35" width="2.35" height="2.95" fill="#38c3d9"/>
<rect x="565.06" y="532.85" width="2.35" height="7.50" fill="#3ac6da"/>
<rect x="565.06" y="526.35" width="2.35" height="7.50" fill="#3ec7db"/>
<rect x="565.06" y="519.85" width="2.35" height="7.50" fill="#39c5da"/>
<rect x="565.06" y="513.35" width="2.35" height="7.50" fill="#39c5da"/>
<rect x="565.06" y="506.85" width="2.35" height="7.50" fill="#3dc7db"/>
<rect x="565.06" y="500.35" width="2.35" height="7.50" fill="#42c8dc"/>
<rect x="565.06" y="493.85" width="2.35" height="7.50" fill="#3dc7db"/>
<rect x="565.06" y="487.35" width="2.35" height="7.50" fill="#42c8dc"/>
<rect x="565.06" y="480.85" width="2.35" height="7.50" fill="#3fc7db"/>
<rect x="565.06" y="474.35" width="2.35" height="7.50" fill="#39c5da"/>
<rect x="565.06" y="467.85" width="2.35" height="7.50" fill="#49cade"/>
<rect x="565.06" y="461.35" width="2.35" height="7.50" fill="#68d2e5"/>
<rect x="565.06" y="454.85" width="2.35" height="7.50" fill="#8cdbeb"/>
<rect x="565.06" y="448.35" width="2.35" height="7.50" fill="#bceaf3"/>
<rect x="565.06" y="441.85" width="2.35" height="7.50" fill="#def4f9"/>
<rect x="565.06" y="435.35" width="2.35" height="7.50" fill="#eef9fc"/>
<rect x="565.06" y="428.85" width="2.35" height="7.50" fill="#f6fcfd"/>
<rect x="566.41" y="539.35" width="2.35" height="2.95" fill="#43c8dc"/>
<rect x="566.41" y="532.85" width="2.35" height="7.50" fill="#43c8dc"/>
<rect x="566.41" y="526.35" width="2.35" height="7.50" fill="#3cc7db"/>
<rect x="566.41" y="519.85" width="2.35" height="7.50" fill="#4dcbdf"/>
<rect x="566.41" y="513.35" width="2.35" height="7.50" fill="#41c8dc"/>
<rect x="566.41" y="506.85" width="2.35" height="7.50" fill="#47cade"/>
<rect x="566.41" y="500.35" width="2.35" height="7.50" fill="#43c8dc"/>
<rect x="566.41" y="493.85" width="2.35" height="7.50" fill="#46c9dd"/>
<rect x="566.41" y="487.35" width="2.35" height="7.50" fill="#48cade"/>
<rect x="566.41" y="480.85" width="2.35" height="7.50" fill="#50cce0"/>
<rect x="566.41" y="474.35" width="2.35" height="7.50" fill="#4dcbdf"/>
<rect x="566.41" y="467.85" width="2.35" height="7.50" fill="#64d1e4"/>
<rect x="566.41" y="461.35" width="2.35" height="7.50" fill="#9bdfed"/>
<rect x="566.41" y="454.85" width="2.35" height="7.50" fill="#c8eef5"/>
<rect x="566.41" y="448.35" width="2.35" height="7.50" fill="#dff5f9"/>
<rect x="566.41" y="441.85" width="2.35" height="7.50" fill="#f6fcfd"/>
<rect x="567.76" y="539.35" width="2.35" height="2.95" fill="#34bfd8"/>
<rect x="567.76" y="532.85" width="2.35" height="7.50" fill="#35c0d8"/>
<rect x="567.76" y="526.35" width="2.35" height="7.50" fill="#36c2d9"/>
<rect x="567.76" y="519.85" width="2.35" height="7.50" fill="#35c0d8"/>
<rect x="567.76" y="513.35" width="2.35" height="7.50" fill="#34bfd8"/>
<rect x="567.76" y="506.85" width="2.35" height="7.50" fill="#34bfd8"/>
<rect x="567.76" y="500.35" width="2.35" height="7.50" fill="#35c0d8"/>
<rect x="567.76" y="493.85" width="2.35" height="7.50" fill="#35c0d8"/>
<rect x="567.76" y="487.35" width="2.35" height="7.50" fill="#35c0d8"/>
<rect x="567.76" y="480.85" width="2.35" height="7.50" fill="#39c5da"/>
<rect x="567.76" y="474.35" width="2.35" height="7.50" fill="#36c2d9"/>
<rect x="567.76" y="467.85" width="2.35" height="7.50" fill="#3ac6da"/>
<rect x="567.76" y="461.35" width="2.35" height="7.50" fill="#40c8dc"/>
<rect x="567.76" y="454.85" width="2.35" height="7.50" fill="#5ed0e3"/>
<rect x="567.76" y="448.35" width="2.35" height="7.50" fill="#7ad6e8"/>
<rect x="567.76" y="441.85" width="2.35" height="7.50" fill="#aae4ef"/>
<rect x="567.76" y="435.35" width="2.35" height="7.50" fill="#cdf0f6"/>
<rect x="567.76" y="428.85" width="2.35" height="7.50" fill="#e5f6fa"/>
<rect x="567.76" y="425.60" width="2.35" height="4.25" fill="#f3fbfd"/>
<rect x="569.11" y="539.35" width="2.35" height="2.95" fill="#3ac6da"/>
<rect x="569.11" y="532.85" width="2.35" height="7.50" fill="#45c9dd"/>
<rect x="569.11" y="526.35" width="2.35" height="7.50" fill="#3dc7db"/>
<rect x="569.11" y="519.85" width="2.35" height="7.50" fill="#3ac6da"/>
<rect x="569.11" y="513.35" width="2.35" height="7.50" fill="#3dc7db"/>
<rect x="569.11" y="506.85" width="2.35" height="7.50" fill="#37c3d9"/>
<rect x="569.11" y="500.35" width="2.35" height="7.50" fill="#3cc7db"/>
<rect x="569.11" y="493.85" width="2.35" height="7.50" fill="#36c1d9"/>
<rect x="569.11" y="487.35" width="2.35" height="7.50" fill="#37c3d9"/>
<rect x="569.11" y="480.85" width="2.35" height="7.50" fill="#3bc6da"/>
<rect x="569.11" y="474.35" width="2.35" height="7.50" fill="#41c8dc"/>
<rect x="569.11" y="467.85" width="2.35" height="7.50" fill="#4ccbdf"/>
<rect x="569.11" y="461.35" width="2.35" height="7.50" fill="#63d1e4"/>
<rect x="569.11" y="454.85" width="2.35" height="7.50" fill="#8bdbeb"/>
<rect x="569.11" y="448.35" width="2.35" height="7.50" fill="#aee5f0"/>
<rect x="569.11" y="441.85" width="2.35" height="7.50" fill="#def4f9"/>
<rect x="569.11" y="435.35" width="2.35" height="7.50" fill="#eaf8fb"/>
<rect x="570.46" y="539.35" width="2.35" height="2.95" fill="#4fcce0"/>
<rect x="570.46" y="532.85" width="2.35" height="7.50" fill="#4ecce0"/>
<rect x="570.46" y="526.35" width="2.35" height="7.50" fill="#4dcbdf"/>
<rect x="570.46" y="519.85" width="2.35" height="7.50" fill="#50cce0"/>
<rect x="570.46" y="513.35" width="2.35" height="7.50" fill="#55cde1"/>
<rect x="570.46" y="506.85" width="2.35" height="7.50" fill="#4dcbdf"/>
<rect x="570.46" y="500.35" width="2.35" height="7.50" fill="#50cce0"/>
<rect x="570.46" y="493.85" width="2.35" height="7.50" fill="#4ecce0"/>
<rect x="570.46" y="487.35" width="2.35" height="7.50" fill="#58cee2"/>
<rect x="570.46" y="480.85" width="2.35" height="7.50" fill="#55cde1"/>
<rect x="570.46" y="474.35" width="2.35" height="7.50" fill="#57cee1"/>
<rect x="570.46" y="467.85" width="2.35" height="7.50" fill="#50cce0"/>
<rect x="570.46" y="461.35" width="2.35" height="7.50" fill="#52cde0"/>
<rect x="570.46" y="454.85" width="2.35" height="7.50" fill="#6ad2e5"/>
<rect x="570.46" y="448.35" width="2.35" height="7.50" fill="#89dbea"/>
<rect x="570.46" y="441.85" width="2.35" height="7.50" fill="#b6e8f1"/>
<rect x="570.46" y="435.35" width="2.35" height="7.50" fill="#d2f1f7"/>
<rect x="570.46" y="428.85" width="2.35" height="7.50" fill="#f0fafc"/>
<rect x="571.81" y="539.35" width="2.35" height="2.95" fill="#3ac6da"/>
<rect x="571.81" y="532.85" width="2.35" height="7.50" fill="#3ac6da"/>
<rect x="571.81" y="526.35" width="2.35" height="7.50" fill="#3dc7db"/>
<rect x="571.81" y="519.85" width="2.35" height="7.50" fill="#34bfd8"/>
<rect x="571.81" y="513.35" width="2.35" height="7.50" fill="#3bc6da"/>
<rect x="571.81" y="506.85" width="2.35" height="7.50" fill="#39c5da"/>
<rect x="571.81" y="500.35" width="2.35" height="7.50" fill="#3cc6da"/>
<rect x="571.81" y="493.85" width="2.35" height="7.50" fill="#39c5da"/>
<rect x="571.81" y="487.35" width="2.35" height="7.50" fill="#3cc6da"/>
<rect x="571.81" y="480.85" width="2.35" height="7.50" fill="#33bed8"/>
<rect x="571.81" y="474.35" width="2.35" height="7.50" fill="#3fc7db"/>
<rect x="571.81" y="467.85" width="2.35" height="7.50" fill="#47cade"/>
<rect x="571.81" y="461.35" width="2.35" height="7.50" fill="#74d5e7"/>
<rect x="571.81" y="454.85" width="2.35" height="7.50" fill="#bae9f2"/>
<rect x="571.81" y="448.35" width="2.35" height="7.50" fill="#d0f0f6"/>
<rect x="571.81" y="441.85" width="2.35" height="7.50" fill="#e7f7fa"/>
<rect x="571.81" y="435.35" width="2.35" height="7.50" fill="#f5fcfd"/>
<rect x="573.15" y="539.35" width="2.35" height="2.95" fill="#40c8dc"/>
<rect x="573.15" y="532.85" width="2.35" height="7.50" fill="#46c9dd"/>
<rect x="573.15" y="526.35" width="2.35" height="7.50" fill="#40c8dc"/>
<rect x="573.15" y="519.85" width="2.35" height="7.50" fill="#40c8dc"/>
<rect x="573.15" y="513.35" width="2.35" height="7.50" fill="#3dc7db"/>
<rect x="573.15" y="506.85" width="2.35" height="7.50" fill="#47c9dd"/>
<rect x="573.15" y="500.35" width="2.35" height="7.50" fill="#44c9dd"/>
<rect x="573.15" y="493.85" width="2.35" height="7.50" fill="#48cade"/>
<rect x="573.15" y="487.35" width="2.35" height="7.50" fill="#4acade"/>
<rect x="573.15" y="480.85" width="2.35" height="7.50" fill="#52cce0"/>
<rect x="573.15" y="474.35" width="2.35" height="7.50" fill="#65d1e4"/>
<rect x="573.15" y="467.85" width="2.35" height="7.50" fill="#80d8e9"/>
<rect x="573.15" y="461.35" width="2.35" height="7.50" fill="#b9e9f2"/>
<rect x="573.15" y="454.85" width="2.35" height="7.50" fill="#d7f2f8"/>
<rect x="573.15" y="448.35" width="2.35" height="7.50" fill="#edf9fb"/>
<rect x="574.50" y="539.35" width="2.35" height="2.95" fill="#35c0d8"/>
<rect x="574.50" y="532.85" width="2.35" height="7.50" fill="#34bfd8"/>
<rect x="574.50" y="526.35" width="2.35" height="7.50" fill="#37c2d9"/>
<rect x="574.50" y="519.85" width="2.35" height="7.50" fill="#34bfd8"/>
<rect x="574.50" y="513.35" width="2.35" height="7.50" fill="#38c4d9"/>
<rect x="574.50" y="506.85" width="2.35" height="7.50" fill="#39c5da"/>
<rect x="574.50" y="500.35" width="2.35" height="7.50" fill="#35c0d8"/>
<rect x="574.50" y="493.85" width="2.35" height="7.50" fill="#31bcd7"/>
<rect x="574.50" y="487.35" width="2.35" height="7.50" fill="#30bad7"/>
<rect x="574.50" y="480.85" width="2.35" height="7.50" fill="#32bcd7"/>
<rect x="574.50" y="474.35" width="2.35" height="7.50" fill="#34bed8"/>
<rect x="574.50" y="467.85" width="2.35" height="7.50" fill="#35c0d8"/>
<rect x="574.50" y="461.35" width="2.35" height="7.50" fill="#49cade"/>
<rect x="574.50" y="454.85" width="2.35" height="7.50" fill="#76d6e8"/>
<rect x="574.50" y="448.35" width="2.35" height="7.50" fill="#a3e2ee"/>
<rect x="574.50" y="441.85" width="2.35" height="7.50" fill="#cff0f6"/>
<rect x="574.50" y="435.35" width="2.35" height="7.50" fill="#e8f7fb"/>
<rect x="574.50" y="428.85" width="2.35" height="7.50" fill="#f1fafc"/>
<rect x="574.50" y="425.60" width="2.35" height="4.25" fill="#f7fcfd"/>
<rect x="575.85" y="539.35" width="2.35" height="2.95" fill="#34bfd8"/>
<rect x="575.85" y="532.85" width="2.35" height="7.50" fill="#35c0d8"/>
<rect x="575.85" y="526.35" width="2.35" height="7.50" fill="#33bed8"/>
<rect x="575.85" y="519.85" width="2.35" height="7.50" fill="#31bcd7"/>
<rect x="575.85" y="513.35" width="2.35" height="7.50" fill="#36c1d9"/>
<rect x="575.85" y="506.85" width="2.35" height="7.50" fill="#34bfd8"/>
<rect x="575.85" y="500.35" width="2.35" height="7.50" fill="#32bcd7"/>
<rect x="575.85" y="493.85" width="2.35" height="7.50" fill="#32bdd7"/>
<rect x="575.85" y="487.35" width="2.35" height="7.50" fill="#2eb8d6"/>
<rect x="575.85" y="480.85" width="2.35" height="7.50" fill="#31bbd7"/>
<rect x="575.85" y="474.35" width="2.35" height="7.50" fill="#3ac6da"/>
<rect x="575.85" y="467.85" width="2.35" height="7.50" fill="#30bad7"/>
<rect x="575.85" y="461.35" width="2.35" height="7.50" fill="#35c0d8"/>
<rect x="575.85" y="454.85" width="2.35" height="7.50" fill="#39c4da"/>
<rect x="575.85" y="448.35" width="2.35" height="7.50" fill="#55cde1"/>
<rect x="575.85" y="441.85" width="2.35" height="7.50" fill="#72d5e7"/>
<rect x="575.85" y="435.35" width="2.35" height="7.50" fill="#b7e8f2"/>
<rect x="575.85" y="428.85" width="2.35" height="7.50" fill="#cceff6"/>
<rect x="575.85" y="425.60" width="2.35" height="4.25" fill="#e2f5fa"/>
<rect x="577.20" y="539.35" width="2.35" height="2.95" fill="#3ac6da"/>
<rect x="577.20" y="532.85" width="2.35" height="7.50" fill="#38c3d9"/>
<rect x="577.20" y="526.35" width="2.35" height="7.50" fill="#39c5da"/>
<rect x="577.20" y="519.85" width="2.35" height="7.50" fill="#3ac6da"/>
<rect x="577.20" y="513.35" width="2.35" height="7.50" fill="#3dc7db"/>
<rect x="577.20" y="506.85" width="2.35" height="7.50" fill="#3ac6da"/>
<rect x="577.20" y="500.35" width="2.35" height="7.50" fill="#39c4da"/>
<rect x="577.20" y="493.85" width="2.35" height="7.50" fill="#3fc7db"/>
<rect x="577.20" y="487.35" width="2.35" height="7.50" fill="#34c0d8"/>
<rect x="577.20" y="480.85" width="2.35" height="7.50" fill="#3fc7db"/>
<rect x="577.20" y="474.35" width="2.35" height="7.50" fill="#3ac6da"/>
<rect x="577.20" y="467.85" width="2.35" height="7.50" fill="#3ec7db"/>
<rect x="577.20" y="461.35" width="2.35" height="7.50" fill="#4bcbdf"/>
<rect x="577.20" y="454.85" width="2.35" height="7.50" fill="#6cd3e6"/>
<rect x="577.20" y="448.35" width="2.35" height="7.50" fill="#8bdbeb"/>
<rect x="577.20" y="441.85" width="2.35" height="7.50" fill="#c6edf5"/>
<rect x="577.20" y="435.35" width="2.35" height="7.50" fill="#e2f5fa"/>
<rect x="577.20" y="428.85" width="2.35" height="7.50" fill="#f0fafc"/>
<rect x="578.55" y="539.35" width="2.35" height="2.95" fill="#40c8dc"/>
<rect x="578.55" y="532.85" width="2.35" height="7.50" fill="#35c1d8"/>
<rect x="578.55" y="526.35" width="2.35" height="7.50" fill="#39c5da"/>
<rect x="578.55" y="519.85" width="2.35" height="7.50" fill="#36c1d9"/>
<rect x="578.55" y="513.35" width="2.35" height="7.50" fill="#36c1d9"/>
<rect x="578.55" y="506.85" width="2.35" height="7.50" fill="#34bfd8"/>
<rect x="578.55" y="500.35" width="2.35" height="7.50" fill="#37c3d9"/>
<rect x="578.55" y="493.85" width="2.35" height="7.50" fill="#39c4da"/>
<rect x="578.55" y="487.35" width="2.35" height="7.50" fill="#40c8dc"/>
<rect x="578.55" y="480.85" width="2.35" height="7.50" fill="#37c2d9"/>
<rect x="578.55" y="474.35" width="2.35" height="7.50" fill="#3dc7db"/>
<rect x="578.55" y="467.85" width="2.35" height="7.50" fill="#38c4d9"/>
<rect x="578.55" y="461.35" width="2.35" height="7.50" fill="#4ecce0"/>
<rect x="578.55" y="454.85" width="2.35" height="7.50" fill="#75d5e7"/>
<rect x="578.55" y="448.35" width="2.35" height="7.50" fill="#a3e1ee"/>
<rect x="578.55" y="441.85" width="2.35" height="7.50" fill="#c9eef5"/>
<rect x="578.55" y="435.35" width="2.35" height="7.50" fill="#e3f6fa"/>
<rect x="578.55" y="428.85" width="2.35" height="7.50" fill="#f0fafc"/>
<rect x="579.90" y="539.35" width="2.35" height="2.95" fill="#3cc7db"/>
<rect x="579.90" y="532.85" width="2.35" height="7.50" fill="#38c3d9"/>
<rect x="579.90" y="526.35" width="2.35" height="7.50" fill="#3cc6da"/>
<rect x="579.90" y="519.85" width="2.35" height="7.50" fill="#44c9dd"/>
<rect x="579.90" y="513.35" width="2.35" height="7.50" fill="#41c8dc"/>
<rect x="579.90" y="506.85" width="2.35" height="7.50" fill="#3dc7db"/>
<rect x="579.90" y="500.35" width="2.35" height="7.50" fill="#3dc7db"/>
<rect x="579.90" y="493.85" width="2.35" height="7.50" fill="#3ac6da"/>
<rect x="579.90" y="487.35" width="2.35" height="7.50" fill="#41c8dc"/>
<rect x="579.90" y="480.85" width="2.35" height="7.50" fill="#43c8dc"/>
<rect x="579.90" y="474.35" width="2.35" height="7.50" fill="#39c5da"/>
<rect x="579.90" y="467.85" width="2.35" height="7.50" fill="#3ec7db"/>
<rect x="579.90" y="461.35" width="2.35" height="7.50" fill="#40c8dc"/>
<rect x="579.90" y="454.85" width="2.35" height="7.50" fill="#6bd3e5"/>
<rect x="579.90" y="448.35" width="2.35" height="7.50" fill="#99dfec"/>
<rect x="579.90" y="441.85" width="2.35" height="7.50" fill="#b4e7f1"/>
<rect x="579.90" y="435.35" width="2.35" height="7.50" fill="#e5f6fa"/>
<rect x="579.90" y="428.85" width="2.35" height="7.50" fill="#f5fcfd"/>
<rect x="581.25" y="539.35" width="2.35" height="2.95" fill="#4acade"/>
<rect x="581.25" y="532.85" width="2.35" height="7.50" fill="#47cade"/>
<rect x="581.25" y="526.35" width="2.35" height="7.50" fill="#41c8dc"/>
<rect x="581.25" y="519.85" width="2.35" height="7.50" fill="#47cade"/>
<rect x="581.25" y="513.35" width="2.35" height="7.50" fill="#46c9dd"/>
<rect x="581.25" y="506.85" width="2.35" height="7.50" fill="#42c8dc"/>
<rect x="581.25" y="500.35" width="2.35" height="7.50" fill="#4bcbdf"/>
<rect x="581.25" y="493.85" width="2.35" height="7.50" fill="#4ecbdf"/>
<rect x="581.25" y="487.35" width="2.35" height="7.50" fill="#45c9dd"/>
<rect x="581.25" y="480.85" width="2.35" height="7.50" fill="#46c9dd"/>
<rect x="581.25" y="474.35" width="2.35" height="7.50" fill="#43c8dc"/>
<rect x="581.25" y="467.85" width="2.35" height="7.50" fill="#49cade"/>
<rect x="581.25" y="461.35" width="2.35" height="7.50" fill="#57cee1"/>
<rect x="581.25" y="454.85" width="2.35" height="7.50" fill="#74d5e7"/>
<rect x="581.25" y="448.35" width="2.35" height="7.50" fill="#a2e1ee"/>
<rect x="581.25" y="441.85" width="2.35" height="7.50" fill="#c7eef5"/>
<rect x="581.25" y="435.35" width="2.35" height="7.50" fill="#e5f6fa"/>
<rect x="582.60" y="539.35" width="2.35" height="2.95" fill="#46c9dd"/>
<rect x="582.60" y="532.85" width="2.35" height="7.50" fill="#47c9dd"/>
<rect x="582.60" y="526.35" width="2.35" height="7.50" fill="#46c9dd"/>
<rect x="582.60" y="519.85" width="2.35" height="7.50" fill="#41c8dc"/>
<rect x="582.60" y="513.35" width="2.35" height="7.50" fill="#4fcce0"/>
<rect x="582.60" y="506.85" width="2.35" height="7.50" fill="#41c8dc"/>
<rect x="582.60" y="500.35" width="2.35" height="7.50" fill="#3fc7db"/>
<rect x="582.60" y="493.85" width="2.35" height="7.50" fill="#3fc7db"/>
<rect x="582.60" y="487.35" width="2.35" height="7.50" fill="#46c9dd"/>
<rect x="582.60" y="480.85" width="2.35" height="7.50" fill="#4acade"/>
<rect x="582.60" y="474.35" width="2.35" height="7.50" fill="#49cade"/>
<rect x="582.60" y="467.85" width="2.35" height="7.50" fill="#45c9dd"/>
<rect x="582.60" y="461.35" width="2.35" height="7.50" fill="#43c8dc"/>
<rect x="582.60" y="454.85" width="2.35" height="7.50" fill="#6bd3e5"/>
<rect x="582.60" y="448.35" width="2.35" height="7.50" fill="#91ddeb"/>
<rect x="582.60" y="441.85" width="2.35" height="7.50" fill="#b7e8f2"/>
<rect x="582.60" y="435.35" width="2.35" height="7.50" fill="#d7f2f8"/>
<rect x="582.60" y="428.85" width="2.35" height="7.50" fill="#f0fafc"/>
<rect x="583.95" y="539.35" width="2.35" height="2.95" fill="#38c4d9"/>
<rect x="583.95" y="532.85" width="2.35" height="7.50" fill="#3cc6da"/>
<rect x="583.95" y="526.35" width="2.35" height="7.50" fill="#3dc7db"/>
<rect x="583.95" y="519.85" width="2.35" height="7.50" fill="#42c8dc"/>
<rect x="583.95" y="513.35" width="2.35" height="7.50" fill="#3fc7db"/>
<rect x="583.95" y="506.85" width="2.35" height="7.50" fill="#40c8dc"/>
<rect x="583.95" y="500.35" width="2.35" height="7.50" fill="#46c9dd"/>
<rect x="583.95" y="493.85" width="2.35" height="7.50" fill="#42c8dc"/>
<rect x="583.95" y="487.35" width="2.35" height="7.50" fill="#38c4d9"/>
<rect x="583.95" y="480.85" width="2.35" height="7.50" fill="#43c8dc"/>
<rect x="583.95" y="474.35" width="2.35" height="7.50" fill="#4dcbdf"/>
<rect x="583.95" y="467.85" width="2.35" height="7.50" fill="#65d1e4"/>
<rect x="583.95" y="461.35" width="2.35" height="7.50" fill="#86daea"/>
<rect x="583.95" y="454.85" width="2.35" height="7.50" fill="#b3e7f1"/>
<rect x="583.95" y="448.35" width="2.35" height="7.50" fill="#d5f2f7"/>
<rect x="583.95" y="441.85" width="2.35" height="7.50" fill="#e7f7fb"/>
<rect x="585.29" y="539.35" width="2.35" height="2.95" fill="#39c5da"/>
<rect x="585.29" y="532.85" width="2.35" height="7.50" fill="#34bfd8"/>
<rect x="585.29" y="526.35" width="2.35" height="7.50" fill="#3ac5da"/>
<rect x="585.29" y="519.85" width="2.35" height="7.50" fill="#38c3d9"/>
<rect x="585.29" y="513.35" width="2.35" height="7.50" fill="#3cc7db"/>
<rect x="585.29" y="506.85" width="2.35" height="7.50" fill="#37c2d9"/>
<rect x="585.29" y="500.35" width="2.35" height="7.50" fill="#38c4d9"/>
<rect x="585.29" y="493.85" width="2.35" height="7.50" fill="#3cc6da"/>
<rect x="585.29" y="487.35" width="2.35" height="7.50" fill="#43c8dc"/>
<rect x="585.29" y="480.85" width="2.35" height="7.50" fill="#58cee2"/>
<rect x="585.29" y="474.35" width="2.35" height="7.50" fill="#77d6e8"/>
<rect x="585.29" y="467.85" width="2.35" height="7.50" fill="#ace4ef"/>
<rect x="585.29" y="461.35" width="2.35" height="7.50" fill="#cef0f6"/>
<rect x="585.29" y="454.85" width="2.35" height="7.50" fill="#e8f7fb"/>
<rect x="585.29" y="448.35" width="2.35" height="7.50" fill="#f2fbfc"/>
<rect x="586.64" y="539.35" width="2.35" height="2.95" fill="#37c3d9"/>
<rect x="586.64" y="532.85" width="2.35" height="7.50" fill="#34bfd8"/>
<rect x="586.64" y="526.35" width="2.35" height="7.50" fill="#35c0d8"/>
<rect x="586.64" y="519.85" width="2.35" height="7.50" fill="#37c3d9"/>
<rect x="586.64" y="513.35" width="2.35" height="7.50" fill="#3cc7db"/>
<rect x="586.64" y="506.85" width="2.35" height="7.50" fill="#3bc6da"/>
<rect x="586.64" y="500.35" width="2.35" height="7.50" fill="#3ac6da"/>
<rect x="586.64" y="493.85" width="2.35" height="7.50" fill="#38c3d9"/>
<rect x="586.64" y="487.35" width="2.35" height="7.50" fill="#39c5da"/>
<rect x="586.64" y="480.85" width="2.35" height="7.50" fill="#39c5da"/>
<rect x="586.64" y="474.35" width="2.35" height="7.50" fill="#37c3d9"/>
<rect x="586.64" y="467.85" width="2.35" height="7.50" fill="#3fc7db"/>
<rect x="586.64" y="461.35" width="2.35" height="7.50" fill="#5ecfe3"/>
<rect x="586.64" y="454.85" width="2.35" height="7.50" fill="#8bdbea"/>
<rect x="586.64" y="448.35" width="2.35" height="7.50" fill="#b3e7f1"/>
<rect x="586.64" y="441.85" width="2.35" height="7.50" fill="#d3f1f7"/>
<rect x="586.64" y="435.35" width="2.35" height="7.50" fill="#edf9fb"/>
<rect x="586.64" y="428.85" width="2.35" height="7.50" fill="#f7fcfd"/>
<rect x="587.99" y="539.35" width="2.35" height="2.95" fill="#42c8dc"/>
<rect x="587.99" y="532.85" width="2.35" height="7.50" fill="#3cc7db"/>
<rect x="587.99" y="526.35" width="2.35" height="7.50" fill="#42c8dc"/>
<rect x="587.99" y="519.85" width="2.35" height="7.50" fill="#3bc6da"/>
<rect x="587.99" y="513.35" width="2.35" height="7.50" fill="#40c8dc"/>
<rect x="587.99" y="506.85" width="2.35" height="7.50" fill="#39c4da"/>
<rect x="587.99" y="500.35" width="2.35" height="7.50" fill="#41c8dc"/>
<rect x="587.99" y="493.85" width="2.35" height="7.50" fill="#3bc6da"/>
<rect x="587.99" y="487.35" width="2.35" height="7.50" fill="#3dc7db"/>
<rect x="587.99" y="480.85" width="2.35" height="7.50" fill="#42c8dc"/>
<rect x="587.99" y="474.35" width="2.35" height="7.50" fill="#47cade"/>
<rect x="587.99" y="467.85" width="2.35" height="7.50" fill="#43c8dc"/>
<rect x="587.99" y="461.35" width="2.35" height="7.50" fill="#5ed0e3"/>
<rect x="587.99" y="454.85" width="2.35" height="7.50" fill="#7cd7e9"/>
<rect x="587.99" y="448.35" width="2.35" height="7.50" fill="#a5e2ee"/>
<rect x="587.99" y="441.85" width="2.35" height="7.50" fill="#d9f3f8"/>
<rect x="587.99" y="435.35" width="2.35" height="7.50" fill="#e9f8fb"/>
<rect x="589.34" y="539.35" width="2.35" height="2.95" fill="#3cc6da"/>
<rect x="589.34" y="532.85" width="2.35" height="7.50" fill="#38c4d9"/>
<rect x="589.34" y="526.35" width="2.35" height="7.50" fill="#33bed8"/>
<rect x="589.34" y="519.85" width="2.35" height="7.50" fill="#34bed8"/>
<rect x="589.34" y="513.35" width="2.35" height="7.50" fill="#38c4d9"/>
<rect x="589.34" y="506.85" width="2.35" height="7.50" fill="#38c4d9"/>
<rect x="589.34" y="500.35" width="2.35" height="7.50" fill="#3ac5da"/>
<rect x="589.34" y="493.85" width="2.35" height="7.50" fill="#38c4d9"/>
<rect x="589.34" y="487.35" width="2.35" height="7.50" fill="#39c4da"/>
<rect x="589.34" y="480.85" width="2.35" height="7.50" fill="#37c2d9"/>
<rect x="589.34" y="474.35" width="2.35" height="7.50" fill="#3cc7db"/>
<rect x="589.34" y="467.85" width="2.35" height="7.50" fill="#3fc7db"/>
<rect x="589.34" y="461.35" width="2.35" height="7.50" fill="#5dcfe3"/>
<rect x="589.34" y="454.85" width="2.35" height="7.50" fill="#8ddceb"/>
<rect x="589.34" y="448.35" width="2.35" height="7.50" fill="#bdeaf3"/>
<rect x="589.34" y="441.85" width="2.35" height="7.50" fill="#e0f5f9"/>
<rect x="589.34" y="435.35" width="2.35" height="7.50" fill="#ebf8fb"/>
<rect x="590.69" y="539.35" width="2.35" height="2.95" fill="#42c8dc"/>
<rect x="590.69" y="532.85" width="2.35" height="7.50" fill="#3ec7db"/>
<rect x="590.69" y="526.35" width="2.35" height="7.50" fill="#40c8dc"/>
<rect x="590.69" y="519.85" width="2.35" height="7.50" fill="#43c8dc"/>
<rect x="590.69" y="513.35" width="2.35" height="7.50" fill="#41c8dc"/>
<rect x="590.69" y="506.85" width="2.35" height="7.50" fill="#44c9dd"/>
<rect x="590.69" y="500.35" width="2.35" height="7.50" fill="#4acade"/>
<rect x="590.69" y="493.85" width="2.35" height="7.50" fill="#47cade"/>
<rect x="590.69" y="487.35" width="2.35" height="7.50" fill="#40c8dc"/>
<rect x="590.69" y="480.85" width="2.35" height="7.50" fill="#4ecbdf"/>
<rect x="590.69" y="474.35" width="2.35" height="7.50" fill="#6ad3e5"/>
<rect x="590.69" y="467.85" width="2.35" height="7.50" fill="#90dceb"/>
<rect x="590.69" y="461.35" width="2.35" height="7.50" fill="#b7e8f2"/>
<rect x="590.69" y="454.85" width="2.35" height="7.50" fill="#dff4f9"/>
<rect x="590.69" y="448.35" width="2.35" height="7.50" fill="#effafc"/>
<rect x="592.04" y="539.35" width="2.35" height="2.95" fill="#5ccfe2"/>
<rect x="592.04" y="532.85" width="2.35" height="7.50" fill="#4fcce0"/>
<rect x="592.04" y="526.35" width="2.35" height="7.50" fill="#4ecbdf"/>
<rect x="592.04" y="519.85" width="2.35" height="7.50" fill="#5ccfe2"/>
<rect x="592.04" y="513.35" width="2.35" height="7.50" fill="#4dcbdf"/>
<rect x="592.04" y="506.85" width="2.35" height="7.50" fill="#51cce0"/>
<rect x="592.04" y="500.35" width="2.35" height="7.50" fill="#58cee2"/>
<rect x="592.04" y="493.85" width="2.35" height="7.50" fill="#5fd0e3"/>
<rect x="592.04" y="487.35" width="2.35" height="7.50" fill="#5acfe2"/>
<rect x="592.04" y="480.85" width="2.35" height="7.50" fill="#5fd0e3"/>
<rect x="592.04" y="474.35" width="2.35" height="7.50" fill="#70d4e6"/>
<rect x="592.04" y="467.85" width="2.35" height="7.50" fill="#a1e1ed"/>
<rect x="592.04" y="461.35" width="2.35" height="7.50" fill="#c3ecf4"/>
<rect x="592.04" y="454.85" width="2.35" height="7.50" fill="#def4f9"/>
<rect x="592.04" y="448.35" width="2.35" height="7.50" fill="#f3fbfc"/>
<rect x="593.39" y="539.35" width="2.35" height="2.95" fill="#3cc6da"/>
<rect x="593.39" y="532.85" width="2.35" height="7.50" fill="#37c2d9"/>
<rect x="593.39" y="526.35" width="2.35" height="7.50" fill="#34c0d8"/>
<rect x="593.39" y="519.85" width="2.35" height="7.50" fill="#38c4d9"/>
<rect x="593.39" y="513.35" width="2.35" height="7.50" fill="#35c1d8"/>
<rect x="593.39" y="506.85" width="2.35" height="7.50" fill="#38c4d9"/>
<rect x="593.39" y="500.35" width="2.35" height="7.50" fill="#38c3d9"/>
<rect x="593.39" y="493.85" width="2.35" height="7.50" fill="#39c5da"/>
<rect x="593.39" y="487.35" width="2.35" height="7.50" fill="#39c5da"/>
<rect x="593.39" y="480.85" width="2.35" height="7.50" fill="#34bfd8"/>
<rect x="593.39" y="474.35" width="2.35" height="7.50" fill="#41c8dc"/>
<rect x="593.39" y="467.85" width="2.35" height="7.50" fill="#59cee2"/>
<rect x="593.39" y="461.35" width="2.35" height="7.50" fill="#77d6e8"/>
<rect x="593.39" y="454.85" width="2.35" height="7.50" fill="#a6e2ee"/>
<rect x="593.39" y="448.35" width="2.35" height="7.50" fill="#d0f0f6"/>
<rect x="593.39" y="441.85" width="2.35" height="7.50" fill="#e3f6fa"/>
<rect x="593.39" y="435.35" width="2.35" height="7.50" fill="#f1fafc"/>
<rect x="594.74" y="539.35" width="2.35" height="2.95" fill="#42c8dc"/>
<rect x="594.74" y="532.85" width="2.35" height="7.50" fill="#43c8dc"/>
<rect x="594.74" y="526.35" width="2.35" height="7.50" fill="#38c4d9"/>
<rect x="594.74" y="519.85" width="2.35" height="7.50" fill="#3cc7db"/>
<rect x="594.74" y="513.35" width="2.35" height="7.50" fill="#41c8dc"/>
<rect x="594.74" y="506.85" width="2.35" height="7.50" fill="#3ec7db"/>
<rect x="594.74" y="500.35" width="2.35" height="7.50" fill="#3dc7db"/>
<rect x="594.74" y="493.85" width="2.35" height="7.50" fill="#39c5da"/>
<rect x="594.74" y="487.35" width="2.35" height="7.50" fill="#3bc6da"/>
<rect x="594.74" y="480.85" width="2.35" height="7.50" fill="#40c8dc"/>
<rect x="594.74" y="474.35" width="2.35" height="7.50" fill="#43c8dc"/>
<rect x="594.74" y="467.85" width="2.35" height="7.50" fill="#4dcbdf"/>
<rect x="594.74" y="461.35" width="2.35" height="7.50" fill="#58cee2"/>
<rect x="594.74" y="454.85" width="2.35" height="7.50" fill="#71d4e7"/>
<rect x="594.74" y="448.35" width="2.35" height="7.50" fill="#afe5f0"/>
<rect x="594.74" y="441.85" width="2.35" height="7.50" fill="#d1f1f7"/>
<rect x="594.74" y="435.35" width="2.35" height="7.50" fill="#ebf8fb"/>
<rect x="594.74" y="428.85" width="2.35" height="7.50" fill="#f7fcfd"/>
<rect x="596.09" y="539.35" width="2.35" height="2.95" fill="#7ed7e9"/>
<rect x="596.09" y="532.85" width="2.35" height="7.50" fill="#68d2e5"/>
<rect x="596.09" y="526.35" width="2.35" height="7.50" fill="#73d5e7"/>
<rect x="596.09" y="519.85" width="2.35" height="7.50" fill="#6dd3e6"/>
<rect x="596.09" y="513.35" width="2.35" height="7.50" fill="#78d6e8"/>
<rect x="596.09" y="506.85" width="2.35" height="7.50" fill="#6ed3e6"/>
<rect x="596.09" y="500.35" width="2.35" height="7.50" fill="#71d4e7"/>
<rect x="596.09" y="493.85" width="2.35" height="7.50" fill="#7fd8e9"/>
<rect x="596.09" y="487.35" width="2.35" height="7.50" fill="#88daea"/>
<rect x="596.09" y="480.85" width="2.35" height="7.50" fill="#84d9ea"/>
<rect x="596.09" y="474.35" width="2.35" height="7.50" fill="#7bd7e8"/>
<rect x="596.09" y="467.85" width="2.35" height="7.50" fill="#91ddeb"/>
<rect x="596.09" y="461.35" width="2.35" height="7.50" fill="#b7e8f2"/>
<rect x="596.09" y="454.85" width="2.35" height="7.50" fill="#d5f2f7"/>
<rect x="596.09" y="448.35" width="2.35" height="7.50" fill="#eaf8fb"/>
<rect x="597.44" y="539.35" width="2.35" height="2.95" fill="#58cee2"/>
<rect x="597.44" y="532.85" width="2.35" height="7.50" fill="#4dcbdf"/>
<rect x="597.44" y="526.35" width="2.35" height="7.50" fill="#4ecbdf"/>
<rect x="597.44" y="519.85" width="2.35" height="7.50" fill="#50cce0"/>
<rect x="597.44" y="513.35" width="2.35" height="7.50" fill="#46c9dd"/>
<rect x="597.44" y="506.85" width="2.35" height="7.50" fill="#49cade"/>
<rect x="597.44" y="500.35" width="2.35" height="7.50" fill="#42c8dc"/>
<rect x="597.44" y="493.85" width="2.35" height="7.50" fill="#49cade"/>
<rect x="597.44" y="487.35" width="2.35" height="7.50" fill="#4ecbdf"/>
<rect x="597.44" y="480.85" width="2.35" height="7.50" fill="#56cee1"/>
<rect x="597.44" y="474.35" width="2.35" height="7.50" fill="#67d2e5"/>
<rect x="597.44" y="467.85" width="2.35" height="7.50" fill="#94deec"/>
<rect x="597.44" y="461.35" width="2.35" height="7.50" fill="#bfebf3"/>
<rect x="597.44" y="454.85" width="2.35" height="7.50" fill="#ddf4f9"/>
<rect x="597.44" y="448.35" width="2.35" height="7.50" fill="#f1fafc"/>
<rect x="598.78" y="539.35" width="2.35" height="2.95" fill="#3ec7db"/>
<rect x="598.78" y="532.85" width="2.35" height="7.50" fill="#41c8dc"/>
<rect x="598.78" y="526.35" width="2.35" height="7.50" fill="#3bc6da"/>
<rect x="598.78" y="519.85" width="2.35" height="7.50" fill="#42c8dc"/>
<rect x="598.78" y="513.35" width="2.35" height="7.50" fill="#41c8dc"/>
<rect x="598.78" y="506.85" width="2.35" height="7.50" fill="#43c8dc"/>
<rect x="598.78" y="500.35" width="2.35" height="7.50" fill="#41c8dc"/>
<rect x="598.78" y="493.85" width="2.35" height="7.50" fill="#41c8dc"/>
<rect x="598.78" y="487.35" width="2.35" height="7.50" fill="#43c8dc"/>
<rect x="598.78" y="480.85" width="2.35" height="7.50" fill="#45c9dd"/>
<rect x="598.78" y="474.35" width="2.35" height="7.50" fill="#49cade"/>
<rect x="598.78" y="467.85" width="2.35" height="7.50" fill="#52cce0"/>
<rect x="598.78" y="461.35" width="2.35" height="7.50" fill="#86daea"/>
<rect x="598.78" y="454.85" width="2.35" height="7.50" fill="#b8e8f2"/>
<rect x="598.78" y="448.35" width="2.35" height="7.50" fill="#d8f3f8"/>
<rect x="598.78" y="441.85" width="2.35" height="7.50" fill="#ebf8fb"/>
<rect x="600.13" y="539.35" width="2.35" height="2.95" fill="#3ac6da"/>
<rect x="600.13" y="532.85" width="2.35" height="7.50" fill="#3ec7db"/>
<rect x="600.13" y="526.35" width="2.35" height="7.50" fill="#39c5da"/>
<rect x="600.13" y="519.85" width="2.35" height="7.50" fill="#39c5da"/>
<rect x="600.13" y="513.35" width="2.35" height="7.50" fill="#3cc7db"/>
<rect x="600.13" y="506.85" width="2.35" height="7.50" fill="#40c8dc"/>
<rect x="600.13" y="500.35" width="2.35" height="7.50" fill="#3fc7db"/>
<rect x="600.13" y="493.85" width="2.35" height="7.50" fill="#38c3d9"/>
<rect x="600.13" y="487.35" width="2.35" height="7.50" fill="#38c4d9"/>
<rect x="600.13" y="480.85" width="2.35" height="7.50" fill="#42c8dc"/>
<rect x="600.13" y="474.35" width="2.35" height="7.50" fill="#3cc6da"/>
<rect x="600.13" y="467.85" width="2.35" height="7.50" fill="#43c8dc"/>
<rect x="600.13" y="461.35" width="2.35" height="7.50" fill="#44c9dd"/>
<rect x="600.13" y="454.85" width="2.35" height="7.50" fill="#6cd3e6"/>
<rect x="600.13" y="448.35" width="2.35" height="7.50" fill="#a9e3ef"/>
<rect x="600.13" y="441.85" width="2.35" height="7.50" fill="#cbeff6"/>
<rect x="600.13" y="435.35" width="2.35" height="7.50" fill="#e7f7fa"/>
<rect x="600.13" y="428.85" width="2.35" height="7.50" fill="#f6fcfd"/>
<rect x="601.48" y="539.35" width="2.35" height="2.95" fill="#39c4da"/>
<rect x="601.48" y="532.85" width="2.35" height="7.50" fill="#34bfd8"/>
<rect x="601.48" y="526.35" width="2.35" height="7.50" fill="#39c5da"/>
<rect x="601.48" y="519.85" width="2.35" height="7.50" fill="#36c1d9"/>
<rect x="601.48" y="513.35" width="2.35" height="7.50" fill="#3bc6da"/>
<rect x="601.48" y="506.85" width="2.35" height="7.50" fill="#37c3d9"/>
<rect x="601.48" y="500.35" width="2.35" height="7.50" fill="#35c0d8"/>
<rect x="601.48" y="493.85" width="2.35" height="7.50" fill="#37c3d9"/>
<rect x="601.48" y="487.35" width="2.35" height="7.50" fill="#34bfd8"/>
<rect x="601.48" y="480.85" width="2.35" height="7.50" fill="#36c1d9"/>
<rect x="601.48" y="474.35" width="2.35" height="7.50" fill="#34bfd8"/>
<rect x="601.48" y="467.85" width="2.35" height="7.50" fill="#45c9dd"/>
<rect x="601.48" y="461.35" width="2.35" height="7.50" fill="#68d2e5"/>
<rect x="601.48" y="454.85" width="2.35" height="7.50" fill="#9ce0ed"/>
<rect x="601.48" y="448.35" width="2.35" height="7.50" fill="#beebf3"/>
<rect x="601.48" y="441.85" width="2.35" height="7.50" fill="#d6f2f8"/>
<rect x="601.48" y="435.35" width="2.35" height="7.50" fill="#edf9fc"/>
<rect x="602.83" y="539.35" width="2.35" height="2.95" fill="#4bcbdf"/>
<rect x="602.83" y="532.85" width="2.35" height="7.50" fill="#49cade"/>
<rect x="602.83" y="526.35" width="2.35" height="7.50" fill="#43c8dc"/>
<rect x="602.83" y="519.85" width="2.35" height="7.50" fill="#4dcbdf"/>
<rect x="602.83" y="513.35" width="2.35" height="7.50" fill="#47cade"/>
<rect x="602.83" y="506.85" width="2.35" height="7.50" fill="#3ac6da"/>
<rect x="602.83" y="500.35" width="2.35" height="7.50" fill="#45c9dd"/>
<rect x="602.83" y="493.85" width="2.35" height="7.50" fill="#43c9dd"/>
<rect x="602.83" y="487.35" width="2.35" height="7.50" fill="#46c9dd"/>
<rect x="602.83" y="480.85" width="2.35" height="7.50" fill="#46c9dd"/>
<rect x="602.83" y="474.35" width="2.35" height="7.50" fill="#48cade"/>
<rect x="602.83" y="467.85" width="2.35" height="7.50" fill="#81d8e9"/>
<rect x="602.83" y="461.35" width="2.35" height="7.50" fill="#abe4ef"/>
<rect x="602.83" y="454.85" width="2.35" height="7.50" fill="#d1f0f7"/>
<rect x="602.83" y="448.35" width="2.35" height="7.50" fill="#e1f5fa"/>
<rect x="604.18" y="539.35" width="2.35" height="2.95" fill="#3fc7db"/>
<rect x="604.18" y="532.85" width="2.35" height="7.50" fill="#41c8dc"/>
<rect x="604.18" y="526.35" width="2.35" height="7.50" fill="#47c9dd"/>
<rect x="604.18" y="519.85" width="2.35" height="7.50" fill="#3dc7db"/>
<rect x="604.18" y="513.35" width="2.35" height="7.50" fill="#3dc7db"/>
<rect x="604.18" y="506.85" width="2.35" height="7.50" fill="#3ec7db"/>
<rect x="604.18" y="500.35" width="2.35" height="7.50" fill="#3dc7db"/>
<rect x="604.18" y="493.85" width="2.35" height="7.50" fill="#43c9dd"/>
<rect x="604.18" y="487.35" width="2.35" height="7.50" fill="#41c8dc"/>
<rect x="604.18" y="480.85" width="2.35" height="7.50" fill="#48cade"/>
<rect x="604.18" y="474.35" width="2.35" height="7.50" fill="#48cade"/>
<rect x="604.18" y="467.85" width="2.35" height="7.50" fill="#5acee2"/>
<rect x="604.18" y="461.35" width="2.35" height="7.50" fill="#8cdbeb"/>
<rect x="604.18" y="454.85" width="2.35" height="7.50" fill="#aae4ef"/>
<rect x="604.18" y="448.35" width="2.35" height="7.50" fill="#d1f1f7"/>
<rect x="604.18" y="441.85" width="2.35" height="7.50" fill="#eaf8fb"/>
<rect x="605.53" y="539.35" width="2.35" height="2.95" fill="#38c4d9"/>
<rect x="605.53" y="532.85" width="2.35" height="7.50" fill="#3cc7db"/>
<rect x="605.53" y="526.35" width="2.35" height="7.50" fill="#3cc7db"/>
<rect x="605.53" y="519.85" width="2.35" height="7.50" fill="#3ac6da"/>
<rect x="605.53" y="513.35" width="2.35" height="7.50" fill="#37c3d9"/>
<rect x="605.53" y="506.85" width="2.35" height="7.50" fill="#3bc6da"/>
<rect x="605.53" y="500.35" width="2.35" height="7.50" fill="#3ac6da"/>
<rect x="605.53" y="493.85" width="2.35" height="7.50" fill="#3bc6da"/>
<rect x="605.53" y="487.35" width="2.35" height="7.50" fill="#40c8dc"/>
<rect x="605.53" y="480.85" width="2.35" height="7.50" fill="#3fc7db"/>
<rect x="605.53" y="474.35" width="2.35" height="7.50" fill="#5dcfe3"/>
<rect x="605.53" y="467.85" width="2.35" height="7.50" fill="#7bd7e8"/>
<rect x="605.53" y="461.35" width="2.35" height="7.50" fill="#b1e6f0"/>
<rect x="605.53" y="454.85" width="2.35" height="7.50" fill="#d7f2f8"/>
<rect x="605.53" y="448.35" width="2.35" height="7.50" fill="#e7f7fa"/>
<rect x="606.88" y="539.35" width="2.35" height="2.95" fill="#3fc7db"/>
<rect x="606.88" y="532.85" width="2.35" height="7.50" fill="#43c8dc"/>
<rect x="606.88" y="526.35" width="2.35" height="7.50" fill="#40c8dc"/>
<rect x="606.88" y="519.85" width="2.35" height="7.50" fill="#3fc7db"/>
<rect x="606.88" y="513.35" width="2.35" height="7.50" fill="#3dc7db"/>
<rect x="606.88" y="506.85" width="2.35" height="7.50" fill="#3cc6da"/>
<rect x="606.88" y="500.35" width="2.35" height="7.50" fill="#3cc7db"/>
<rect x="606.88" y="493.85" width="2.35" height="7.50" fill="#41c8dc"/>
<rect x="606.88" y="487.35" width="2.35" height="7.50" fill="#41c8dc"/>
<rect x="606.88" y="480.85" width="2.35" height="7.50" fill="#39c4da"/>
<rect x="606.88" y="474.35" width="2.35" height="7.50" fill="#41c8dc"/>
<rect x="606.88" y="467.85" width="2.35" height="7.50" fill="#4bcbdf"/>
<rect x="606.88" y="461.35" width="2.35" height="7.50" fill="#83d9e9"/>
<rect x="606.88" y="454.85" width="2.35" height="7.50" fill="#b0e6f0"/>
<rect x="606.88" y="448.35" width="2.35" height="7.50" fill="#c7eef5"/>
<rect x="606.88" y="441.85" width="2.35" height="7.50" fill="#e5f6fa"/>
<rect x="606.88" y="435.35" width="2.35" height="7.50" fill="#f7fcfd"/>
<rect x="608.23" y="539.35" width="2.35" height="2.95" fill="#4bcbdf"/>
<rect x="608.23" y="532.85" width="2.35" height="7.50" fill="#51cce0"/>
<rect x="608.23" y="526.35" width="2.35" height="7.50" fill="#4ecbdf"/>
<rect x="608.23" y="519.85" width="2.35" height="7.50" fill="#4fcce0"/>
<rect x="608.23" y="513.35" width="2.35" height="7.50" fill="#56cde1"/>
<rect x="608.23" y="506.85" width="2.35" height="7.50" fill="#58cee2"/>
<rect x="608.23" y="500.35" width="2.35" height="7.50" fill="#48cade"/>
<rect x="608.23" y="493.85" width="2.35" height="7.50" fill="#56cde1"/>
<rect x="608.23" y="487.35" width="2.35" height="7.50" fill="#5fd0e3"/>
<rect x="608.23" y="480.85" width="2.35" height="7.50" fill="#73d5e7"/>
<rect x="608.23" y="474.35" width="2.35" height="7.50" fill="#98deec"/>
<rect x="608.23" y="467.85" width="2.35" height="7.50" fill="#c5edf4"/>
<rect x="608.23" y="461.35" width="2.35" height="7.50" fill="#d9f3f8"/>
<rect x="608.23" y="454.85" width="2.35" height="7.50" fill="#f6fcfd"/>
<rect x="609.58" y="539.35" width="2.35" height="2.95" fill="#41c8dc"/>
<rect x="609.58" y="532.85" width="2.35" height="7.50" fill="#3fc7db"/>
<rect x="609.58" y="526.35" width="2.35" height="7.50" fill="#44c9dd"/>
<rect x="609.58" y="519.85" width="2.35" height="7.50" fill="#3fc7db"/>
<rect x="609.58" y="513.35" width="2.35" height="7.50" fill="#41c8dc"/>
<rect x="609.58" y="506.85" width="2.35" height="7.50" fill="#40c8dc"/>
<rect x="609.58" y="500.35" width="2.35" height="7.50" fill="#36c1d9"/>
<rect x="609.58" y="493.85" width="2.35" height="7.50" fill="#3dc7db"/>
<rect x="609.58" y="487.35" width="2.35" height="7.50" fill="#42c8dc"/>
<rect x="609.58" y="480.85" width="2.35" height="7.50" fill="#3cc7db"/>
<rect x="609.58" y="474.35" width="2.35" height="7.50" fill="#3cc6da"/>
<rect x="609.58" y="467.85" width="2.35" height="7.50" fill="#3bc6da"/>
<rect x="609.58" y="461.35" width="2.35" height="7.50" fill="#4bcbdf"/>
<rect x="609.58" y="454.85" width="2.35" height="7.50" fill="#6dd3e6"/>
<rect x="609.58" y="448.35" width="2.35" height="7.50" fill="#a6e2ee"/>
<rect x="609.58" y="441.85" width="2.35" height="7.50" fill="#c6edf5"/>
<rect x="609.58" y="435.35" width="2.35" height="7.50" fill="#e2f5fa"/>
<rect x="609.58" y="428.85" width="2.35" height="7.50" fill="#f6fcfd"/>
<rect x="610.92" y="539.35" width="2.35" height="2.95" fill="#32bcd7"/>
<rect x="610.92" y="532.85" width="2.35" height="7.50" fill="#34bed8"/>
<rect x="610.92" y="526.35" width="2.35" height="7.50" fill="#34bfd8"/>
<rect x="610.92" y="519.85" width="2.35" height="7.50" fill="#33bed8"/>
<rect x="610.92" y="513.35" width="2.35" height="7.50" fill="#34bfd8"/>
<rect x="610.92" y="506.85" width="2.35" height="7.50" fill="#32bdd7"/>
<rect x="610.92" y="500.35" width="2.35" height="7.50" fill="#31bbd7"/>
<rect x="610.92" y="493.85" width="2.35" height="7.50" fill="#31bcd7"/>
<rect x="610.92" y="487.35" width="2.35" height="7.50" fill="#36c2d9"/>
<rect x="610.92" y="480.85" width="2.35" height="7.50" fill="#34bed8"/>
<rect x="610.92" y="474.35" width="2.35" height="7.50" fill="#3bc6da"/>
<rect x="610.92" y="467.85" width="2.35" height="7.50" fill="#42c8dc"/>
<rect x="610.92" y="461.35" width="2.35" height="7.50" fill="#5fd0e3"/>
<rect x="610.92" y="454.85" width="2.35" height="7.50" fill="#8edceb"/>
<rect x="610.92" y="448.35" width="2.35" height="7.50" fill="#c0ebf3"/>
<rect x="610.92" y="441.85" width="2.35" height="7.50" fill="#daf3f8"/>
<rect x="610.92" y="435.35" width="2.35" height="7.50" fill="#ecf9fb"/>
<rect x="610.92" y="428.85" width="2.35" height="7.50" fill="#f2fbfc"/>
<rect x="612.27" y="539.35" width="2.35" height="2.95" fill="#37c2d9"/>
<rect x="612.27" y="532.85" width="2.35" height="7.50" fill="#35c1d8"/>
<rect x="612.27" y="526.35" width="2.35" height="7.50" fill="#31bcd7"/>
<rect x="612.27" y="519.85" width="2.35" height="7.50" fill="#35c0d8"/>
<rect x="612.27" y="513.35" width="2.35" height="7.50" fill="#3bc6da"/>
<rect x="612.27" y="506.85" width="2.35" height="7.50" fill="#3ac5da"/>
<rect x="612.27" y="500.35" width="2.35" height="7.50" fill="#35c0d8"/>
<rect x="612.27" y="493.85" width="2.35" height="7.50" fill="#36c1d9"/>
<rect x="612.27" y="487.35" width="2.35" height="7.50" fill="#36c2d9"/>
<rect x="612.27" y="480.85" width="2.35" height="7.50" fill="#34c0d8"/>
<rect x="612.27" y="474.35" width="2.35" height="7.50" fill="#35c0d8"/>
<rect x="612.27" y="467.85" width="2.35" height="7.50" fill="#3dc7db"/>
<rect x="612.27" y="461.35" width="2.35" height="7.50" fill="#56cde1"/>
<rect x="612.27" y="454.85" width="2.35" height="7.50" fill="#85d9ea"/>
<rect x="612.27" y="448.35" width="2.35" height="7.50" fill="#b2e6f1"/>
<rect x="612.27" y="441.85" width="2.35" height="7.50" fill="#d0f0f6"/>
<rect x="612.27" y="435.35" width="2.35" height="7.50" fill="#ebf8fb"/>
<rect x="612.27" y="428.85" width="2.35" height="7.50" fill="#f6fcfd"/>
<rect x="613.62" y="539.35" width="2.35" height="2.95" fill="#46c9dd"/>
<rect x="613.62" y="532.85" width="2.35" height="7.50" fill="#48cade"/>
<rect x="613.62" y="526.35" width="2.35" height="7.50" fill="#40c8dc"/>
<rect x="613.62" y="519.85" width="2.35" height="7.50" fill="#3dc7db"/>
<rect x="613.62" y="513.35" width="2.35" height="7.50" fill="#42c8dc"/>
<rect x="613.62" y="506.85" width="2.35" height="7.50" fill="#42c8dc"/>
<rect x="613.62" y="500.35" width="2.35" height="7.50" fill="#3fc7db"/>
<rect x="613.62" y="493.85" width="2.35" height="7.50" fill="#3ac6da"/>
<rect x="613.62" y="487.35" width="2.35" height="7.50" fill="#43c8dc"/>
<rect x="613.62" y="480.85" width="2.35" height="7.50" fill="#47cade"/>
<rect x="613.62" y="474.35" width="2.35" height="7.50" fill="#46c9dd"/>
<rect x="613.62" y="467.85" width="2.35" height="7.50" fill="#4ecce0"/>
<rect x="613.62" y="461.35" width="2.35" height="7.50" fill="#54cde1"/>
<rect x="613.62" y="454.85" width="2.35" height="7.50" fill="#69d2e5"/>
<rect x="613.62" y="448.35" width="2.35" height="7.50" fill="#98dfec"/>
<rect x="613.62" y="441.85" width="2.35" height="7.50" fill="#c9eef5"/>
<rect x="613.62" y="435.35" width="2.35" height="7.50" fill="#e6f7fa"/>
<rect x="613.62" y="428.85" width="2.35" height="7.50" fill="#f5fcfd"/>
<rect x="614.97" y="539.35" width="2.35" height="2.95" fill="#41c8dc"/>
<rect x="614.97" y="532.85" width="2.35" height="7.50" fill="#44c9dd"/>
<rect x="614.97" y="526.35" width="2.35" height="7.50" fill="#47c9dd"/>
<rect x="614.97" y="519.85" width="2.35" height="7.50" fill="#3dc7db"/>
<rect x="614.97" y="513.35" width="2.35" height="7.50" fill="#43c8dc"/>
<rect x="614.97" y="506.85" width="2.35" height="7.50" fill="#4ccbdf"/>
<rect x="614.97" y="500.35" width="2.35" height="7.50" fill="#42c8dc"/>
<rect x="614.97" y="493.85" width="2.35" height="7.50" fill="#46c9dd"/>
<rect x="614.97" y="487.35" width="2.35" height="7.50" fill="#4ccbdf"/>
<rect x="614.97" y="480.85" width="2.35" height="7.50" fill="#3fc7db"/>
<rect x="614.97" y="474.35" width="2.35" height="7.50" fill="#4bcbdf"/>
<rect x="614.97" y="467.85" width="2.35" height="7.50" fill="#65d1e4"/>
<rect x="614.97" y="461.35" width="2.35" height="7.50" fill="#7cd7e8"/>
<rect x="614.97" y="454.85" width="2.35" height="7.50" fill="#b8e9f2"/>
<rect x="614.97" y="448.35" width="2.35" height="7.50" fill="#d5f2f7"/>
<rect x="614.97" y="441.85" width="2.35" height="7.50" fill="#effafc"/>
<rect x="616.32" y="539.35" width="2.35" height="2.95" fill="#44c9dd"/>
<rect x="616.32" y="532.85" width="2.35" height="7.50" fill="#36c1d9"/>
<rect x="616.32" y="526.35" width="2.35" height="7.50" fill="#4bcbdf"/>
<rect x="616.32" y="519.85" width="2.35" height="7.50" fill="#3cc7db"/>
<rect x="616.32" y="513.35" width="2.35" height="7.50" fill="#46c9dd"/>
<rect x="616.32" y="506.85" width="2.35" height="7.50" fill="#3dc7db"/>
<rect x="616.32" y="500.35" width="2.35" height="7.50" fill="#40c8dc"/>
<rect x="616.32" y="493.85" width="2.35" height="7.50" fill="#45c9dd"/>
<rect x="616.32" y="487.35" width="2.35" height="7.50" fill="#3cc7db"/>
<rect x="616.32" y="480.85" width="2.35" height="7.50" fill="#46c9dd"/>
<rect x="616.32" y="474.35" width="2.35" height="7.50" fill="#5dcfe3"/>
<rect x="616.32" y="467.85" width="2.35" height="7.50" fill="#8cdbeb"/>
<rect x="616.32" y="461.35" width="2.35" height="7.50" fill="#bfebf3"/>
<rect x="616.32" y="454.85" width="2.35" height="7.50" fill="#e0f5f9"/>
<rect x="616.32" y="448.35" width="2.35" height="7.50" fill="#effafc"/>
<rect x="617.67" y="539.35" width="2.35" height="2.95" fill="#42c8dc"/>
<rect x="617.67" y="532.85" width="2.35" height="7.50" fill="#46c9dd"/>
<rect x="617.67" y="526.35" width="2.35" height="7.50" fill="#4bcbdf"/>
<rect x="617.67" y="519.85" width="2.35" height="7.50" fill="#40c8dc"/>
<rect x="617.67" y="513.35" width="2.35" height="7.50" fill="#42c8dc"/>
<rect x="617.67" y="506.85" width="2.35" height="7.50" fill="#3dc7db"/>
<rect x="617.67" y="500.35" width="2.35" height="7.50" fill="#44c9dd"/>
<rect x="617.67" y="493.85" width="2.35" height="7.50" fill="#40c8dc"/>
<rect x="617.67" y="487.35" width="2.35" height="7.50" fill="#47cade"/>
<rect x="617.67" y="480.85" width="2.35" height="7.50" fill="#56cde1"/>
<rect x="617.67" y="474.35" width="2.35" height="7.50" fill="#75d5e7"/>
<rect x="617.67" y="467.85" width="2.35" height="7.50" fill="#a7e3ee"/>
<rect x="617.67" y="461.35" width="2.35" height="7.50" fill="#cef0f6"/>
<rect x="617.67" y="454.85" width="2.35" height="7.50" fill="#e5f6fa"/>
<rect x="617.67" y="448.35" width="2.35" height="7.50" fill="#f3fbfc"/>
<rect x="619.02" y="539.35" width="2.35" height="2.95" fill="#35c0d8"/>
<rect x="619.02" y="532.85" width="2.35" height="7.50" fill="#38c4d9"/>
<rect x="619.02" y="526.35" width="2.35" height="7.50" fill="#3fc7db"/>
<rect x="619.02" y="519.85" width="2.35" height="7.50" fill="#35c0d8"/>
<rect x="619.02" y="513.35" width="2.35" height="7.50" fill="#39c4da"/>
<rect x="619.02" y="506.85" width="2.35" height="7.50" fill="#39c4da"/>
<rect x="619.02" y="500.35" width="2.35" height="7.50" fill="#35c0d8"/>
<rect x="619.02" y="493.85" width="2.35" height="7.50" fill="#39c5da"/>
<rect x="619.02" y="487.35" width="2.35" height="7.50" fill="#34bfd8"/>
<rect x="619.02" y="480.85" width="2.35" height="7.50" fill="#3dc7db"/>
<rect x="619.02" y="474.35" width="2.35" height="7.50" fill="#37c2d9"/>
<rect x="619.02" y="467.85" width="2.35" height="7.50" fill="#3ac6da"/>
<rect x="619.02" y="461.35" width="2.35" height="7.50" fill="#49cade"/>
<rect x="619.02" y="454.85" width="2.35" height="7.50" fill="#72d5e7"/>
<rect x="619.02" y="448.35" width="2.35" height="7.50" fill="#aee5f0"/>
<rect x="619.02" y="441.85" width="2.35" height="7.50" fill="#d1f1f7"/>
<rect x="619.02" y="435.35" width="2.35" height="7.50" fill="#e8f7fb"/>
<rect x="619.02" y="428.85" width="2.35" height="7.50" fill="#f2fbfc"/>
<rect x="620.37" y="539.35" width="2.35" height="2.95" fill="#39c5da"/>
<rect x="620.37" y="532.85" width="2.35" height="7.50" fill="#37c3d9"/>
<rect x="620.37" y="526.35" width="2.35" height="7.50" fill="#43c8dc"/>
<rect x="620.37" y="519.85" width="2.35" height="7.50" fill="#3fc7db"/>
<rect x="620.37" y="513.35" width="2.35" height="7.50" fill="#3bc6da"/>
<rect x="620.37" y="506.85" width="2.35" height="7.50" fill="#3cc7db"/>
<rect x="620.37" y="500.35" width="2.35" height="7.50" fill="#3bc6da"/>
<rect x="620.37" y="493.85" width="2.35" height="7.50" fill="#3bc6da"/>
<rect x="620.37" y="487.35" width="2.35" height="7.50" fill="#45c9dd"/>
<rect x="620.37" y="480.85" width="2.35" height="7.50" fill="#3ac6da"/>
<rect x="620.37" y="474.35" width="2.35" height="7.50" fill="#3fc7db"/>
<rect x="620.37" y="467.85" width="2.35" height="7.50" fill="#4ccbdf"/>
<rect x="620.37" y="461.35" width="2.35" height="7.50" fill="#59cee2"/>
<rect x="620.37" y="454.85" width="2.35" height="7.50" fill="#91ddeb"/>
<rect x="620.37" y="448.35" width="2.35" height="7.50" fill="#b4e7f1"/>
<rect x="620.37" y="441.85" width="2.35" height="7.50" fill="#d5f2f7"/>
<rect x="620.37" y="435.35" width="2.35" height="7.50" fill="#ebf8fb"/>
<rect x="621.72" y="539.35" width="2.35" height="2.95" fill="#4bcbdf"/>
<rect x="621.72" y="532.85" width="2.35" height="7.50" fill="#47c9dd"/>
<rect x="621.72" y="526.35" width="2.35" height="7.50" fill="#4acade"/>
<rect x="621.72" y="519.85" width="2.35" height="7.50" fill="#48cade"/>
<rect x="621.72" y="513.35" width="2.35" height="7.50" fill="#47cade"/>
<rect x="621.72" y="506.85" width="2.35" height="7.50" fill="#4acade"/>
<rect x="621.72" y="500.35" width="2.35" height="7.50" fill="#50cce0"/>
<rect x="621.72" y="493.85" width="2.35" height="7.50" fill="#47cade"/>
<rect x="621.72" y="487.35" width="2.35" height="7.50" fill="#47cade"/>
<rect x="621.72" y="480.85" width="2.35" height="7.50" fill="#4dcbdf"/>
<rect x="621.72" y="474.35" width="2.35" height="7.50" fill="#61d0e3"/>
<rect x="621.72" y="467.85" width="2.35" height="7.50" fill="#73d5e7"/>
<rect x="621.72" y="461.35" width="2.35" height="7.50" fill="#95deec"/>
<rect x="621.72" y="454.85" width="2.35" height="7.50" fill="#b6e8f1"/>
<rect x="621.72" y="448.35" width="2.35" height="7.50" fill="#e0f5f9"/>
<rect x="621.72" y="441.85" width="2.35" height="7.50" fill="#edf9fc"/>
<rect x="623.06" y="539.35" width="2.35" height="2.95" fill="#3ec7db"/>
<rect x="623.06" y="532.85" width="2.35" height="7.50" fill="#3dc7db"/>
<rect x="623.06" y="526.35" width="2.35" height="7.50" fill="#41c8dc"/>
<rect x="623.06" y="519.85" width="2.35" height="7.50" fill="#3cc7db"/>
<rect x="623.06" y="513.35" width="2.35" height="7.50" fill="#41c8dc"/>
<rect x="623.06" y="506.85" width="2.35" height="7.50" fill="#40c8dc"/>
<rect x="623.06" y="500.35" width="2.35" height="7.50" fill="#3fc7db"/>
<rect x="623.06" y="493.85" width="2.35" height="7.50" fill="#3dc7db"/>
<rect x="623.06" y="487.35" width="2.35" height="7.50" fill="#39c5da"/>
<rect x="623.06" y="480.85" width="2.35" height="7.50" fill="#39c5da"/>
<rect x="623.06" y="474.35" width="2.35" height="7.50" fill="#43c8dc"/>
<rect x="623.06" y="467.85" width="2.35" height="7.50" fill="#4ccbdf"/>
<rect x="623.06" y="461.35" width="2.35" height="7.50" fill="#4bcbdf"/>
<rect x="623.06" y="454.85" width="2.35" height="7.50" fill="#71d4e7"/>
<rect x="623.06" y="448.35" width="2.35" height="7.50" fill="#a6e2ee"/>
<rect x="623.06" y="441.85" width="2.35" height="7.50" fill="#c4edf4"/>
<rect x="623.06" y="435.35" width="2.35" height="7.50" fill="#e1f5f9"/>
<rect x="623.06" y="428.85" width="2.35" height="7.50" fill="#f5fcfd"/>
<rect x="624.41" y="539.35" width="2.35" height="2.95" fill="#36c2d9"/>
<rect x="624.41" y="532.85" width="2.35" height="7.50" fill="#37c3d9"/>
<rect x="624.41" y="526.35" width="2.35" height="7.50" fill="#33bed8"/>
<rect x="624.41" y="519.85" width="2.35" height="7.50" fill="#3cc7db"/>
<rect x="624.41" y="513.35" width="2.35" height="7.50" fill="#2db6d5"/>
<rect x="624.41" y="506.85" width="2.35" height="7.50" fill="#32bdd7"/>
<rect x="624.41" y="500.35" width="2.35" height="7.50" fill="#34bfd8"/>
<rect x="624.41" y="493.85" width="2.35" height="7.50" fill="#31bcd7"/>
<rect x="624.41" y="487.35" width="2.35" height="7.50" fill="#33bed8"/>
<rect x="624.41" y="480.85" width="2.35" height="7.50" fill="#34bfd8"/>
<rect x="624.41" y="474.35" width="2.35" height="7.50" fill="#34bfd8"/>
<rect x="624.41" y="467.85" width="2.35" height="7.50" fill="#42c8dc"/>
<rect x="624.41" y="461.35" width="2.35" height="7.50" fill="#4bcbdf"/>
<rect x="624.41" y="454.85" width="2.35" height="7.50" fill="#78d6e8"/>
<rect x="624.41" y="448.35" width="2.35" height="7.50" fill="#b5e7f1"/>
<rect x="624.41" y="441.85" width="2.35" height="7.50" fill="#d2f1f7"/>
<rect x="624.41" y="435.35" width="2.35" height="7.50" fill="#e5f6fa"/>
<rect x="624.41" y="428.85" width="2.35" height="7.50" fill="#f3fbfd"/>
<rect x="625.76" y="539.35" width="2.35" height="2.95" fill="#38c4d9"/>
<rect x="625.76" y="532.85" width="2.35" height="7.50" fill="#40c8dc"/>
<rect x="625.76" y="526.35" width="2.35" height="7.50" fill="#43c9dd"/>
<rect x="625.76" y="519.85" width="2.35" height="7.50" fill="#41c8dc"/>
<rect x="625.76" y="513.35" width="2.35" height="7.50" fill="#3ac6da"/>
<rect x="625.76" y="506.85" width="2.35" height="7.50" fill="#3ac6da"/>
<rect x="625.76" y="500.35" width="2.35" height="7.50" fill="#41c8dc"/>
<rect x="625.76" y="493.85" width="2.35" height="7.50" fill="#43c8dc"/>
<rect x="625.76" y="487.35" width="2.35" height="7.50" fill="#42c8dc"/>
<rect x="625.76" y="480.85" width="2.35" height="7.50" fill="#44c9dd"/>
<rect x="625.76" y="474.35" width="2.35" height="7.50" fill="#4ecbdf"/>
<rect x="625.76" y="467.85" width="2.35" height="7.50" fill="#59cee2"/>
<rect x="625.76" y="461.35" width="2.35" height="7.50" fill="#72d4e7"/>
<rect x="625.76" y="454.85" width="2.35" height="7.50" fill="#b0e6f0"/>
<rect x="625.76" y="448.35" width="2.35" height="7.50" fill="#d6f2f8"/>
<rect x="625.76" y="441.85" width="2.35" height="7.50" fill="#eaf8fb"/>
<rect x="625.76" y="435.35" width="2.35" height="7.50" fill="#f7fcfd"/>
<rect x="627.11" y="539.35" width="2.35" height="2.95" fill="#43c8dc"/>
<rect x="627.11" y="532.85" width="2.35" height="7.50" fill="#4ecce0"/>
<rect x="627.11" y="526.35" width="2.35" height="7.50" fill="#42c8dc"/>
<rect x="627.11" y="519.85" width="2.35" height="7.50" fill="#43c9dd"/>
<rect x="627.11" y="513.35" width="2.35" height="7.50" fill="#47cade"/>
<rect x="627.11" y="506.85" width="2.35" height="7.50" fill="#3ec7db"/>
<rect x="627.11" y="500.35" width="2.35" height="7.50" fill="#42c8dc"/>
<rect x="627.11" y="493.85" width="2.35" height="7.50" fill="#48cade"/>
<rect x="627.11" y="487.35" width="2.35" height="7.50" fill="#43c9dd"/>
<rect x="627.11" y="480.85" width="2.35" height="7.50" fill="#41c8dc"/>
<rect x="627.11" y="474.35" width="2.35" height="7.50" fill="#46c9dd"/>
<rect x="627.11" y="467.85" width="2.35" height="7.50" fill="#4ecbdf"/>
<rect x="627.11" y="461.35" width="2.35" height="7.50" fill="#68d2e5"/>
<rect x="627.11" y="454.85" width="2.35" height="7.50" fill="#7ed8e9"/>
<rect x="627.11" y="448.35" width="2.35" height="7.50" fill="#c2ecf4"/>
<rect x="627.11" y="441.85" width="2.35" height="7.50" fill="#def4f9"/>
<rect x="627.11" y="435.35" width="2.35" height="7.50" fill="#f1fafc"/>
<rect x="628.46" y="539.35" width="2.35" height="2.95" fill="#3bc6da"/>
<rect x="628.46" y="532.85" width="2.35" height="7.50" fill="#3dc7db"/>
<rect x="628.46" y="526.35" width="2.35" height="7.50" fill="#3ec7db"/>
<rect x="628.46" y="519.85" width="2.35" height="7.50" fill="#3cc7db"/>
<rect x="628.46" y="513.35" width="2.35" height="7.50" fill="#47cade"/>
<rect x="628.46" y="506.85" width="2.35" height="7.50" fill="#3fc7db"/>
<rect x="628.46" y="500.35" width="2.35" height="7.50" fill="#3ac6da"/>
<rect x="628.46" y="493.85" width="2.35" height="7.50" fill="#3ec7db"/>
<rect x="628.46" y="487.35" width="2.35" height="7.50" fill="#40c8dc"/>
<rect x="628.46" y="480.85" width="2.35" height="7.50" fill="#3dc7db"/>
<rect x="628.46" y="474.35" width="2.35" height="7.50" fill="#39c5da"/>
<rect x="628.46" y="467.85" width="2.35" height="7.50" fill="#37c3d9"/>
<rect x="628.46" y="461.35" width="2.35" height="7.50" fill="#44c9dd"/>
<rect x="628.46" y="454.85" width="2.35" height="7.50" fill="#5ed0e3"/>
<rect x="628.46" y="448.35" width="2.35" height="7.50" fill="#8cdbeb"/>
<rect x="628.46" y="441.85" width="2.35" height="7.50" fill="#aee5f0"/>
<rect x="628.46" y="435.35" width="2.35" height="7.50" fill="#d4f1f7"/>
<rect x="628.46" y="428.85" width="2.35" height="7.50" fill="#edf9fc"/>
<rect x="628.46" y="425.60" width="2.35" height="4.25" fill="#f6fcfd"/>
<rect x="629.81" y="539.35" width="2.35" height="2.95" fill="#36c1d9"/>
<rect x="629.81" y="532.85" width="2.35" height="7.50" fill="#34bfd8"/>
<rect x="629.81" y="526.35" width="2.35" height="7.50" fill="#32bdd7"/>
<rect x="629.81" y="519.85" width="2.35" height="7.50" fill="#3bc6da"/>
<rect x="629.81" y="513.35" width="2.35" height="7.50" fill="#37c2d9"/>
<rect x="629.81" y="506.85" width="2.35" height="7.50" fill="#38c4d9"/>
<rect x="629.81" y="500.35" width="2.35" height="7.50" fill="#35c0d8"/>
<rect x="629.81" y="493.85" width="2.35" height="7.50" fill="#33bed8"/>
<rect x="629.81" y="487.35" width="2.35" height="7.50" fill="#30bbd7"/>
<rect x="629.81" y="480.85" width="2.35" height="7.50" fill="#38c3d9"/>
<rect x="629.81" y="474.35" width="2.35" height="7.50" fill="#40c8dc"/>
<rect x="629.81" y="467.85" width="2.35" height="7.50" fill="#55cde1"/>
<rect x="629.81" y="461.35" width="2.35" height="7.50" fill="#88daea"/>
<rect x="629.81" y="454.85" width="2.35" height="7.50" fill="#b9e9f2"/>
<rect x="629.81" y="448.35" width="2.35" height="7.50" fill="#d8f2f8"/>
<rect x="629.81" y="441.85" width="2.35" height="7.50" fill="#eef9fc"/>
<rect x="631.16" y="539.35" width="2.35" height="2.95" fill="#3ac6da"/>
<rect x="631.16" y="532.85" width="2.35" height="7.50" fill="#3bc6da"/>
<rect x="631.16" y="526.35" width="2.35" height="7.50" fill="#3bc6da"/>
<rect x="631.16" y="519.85" width="2.35" height="7.50" fill="#37c3d9"/>
<rect x="631.16" y="513.35" width="2.35" height="7.50" fill="#3ac6da"/>
<rect x="631.16" y="506.85" width="2.35" height="7.50" fill="#3bc6da"/>
<rect x="631.16" y="500.35" width="2.35" height="7.50" fill="#3dc7db"/>
<rect x="631.16" y="493.85" width="2.35" height="7.50" fill="#35c0d8"/>
<rect x="631.16" y="487.35" width="2.35" height="7.50" fill="#37c3d9"/>
<rect x="631.16" y="480.85" width="2.35" height="7.50" fill="#3ec7db"/>
<rect x="631.16" y="474.35" width="2.35" height="7.50" fill="#37c3d9"/>
<rect x="631.16" y="467.85" width="2.35" height="7.50" fill="#41c8dc"/>
<rect x="631.16" y="461.35" width="2.35" height="7.50" fill="#4fcce0"/>
<rect x="631.16" y="454.85" width="2.35" height="7.50" fill="#75d5e7"/>
<rect x="631.16" y="448.35" width="2.35" height="7.50" fill="#a7e3ee"/>
<rect x="631.16" y="441.85" width="2.35" height="7.50" fill="#c9eef5"/>
<rect x="631.16" y="435.35" width="2.35" height="7.50" fill="#e2f6fa"/>
<rect x="631.16" y="428.85" width="2.35" height="7.50" fill="#f7fcfd"/>
<rect x="632.51" y="539.35" width="2.35" height="2.95" fill="#38c4d9"/>
<rect x="632.51" y="532.85" width="2.35" height="7.50" fill="#3ac6da"/>
<rect x="632.51" y="526.35" width="2.35" height="7.50" fill="#3ac6da"/>
<rect x="632.51" y="519.85" width="2.35" height="7.50" fill="#42c8dc"/>
<rect x="632.51" y="513.35" width="2.35" height="7.50" fill="#43c8dc"/>
<rect x="632.51" y="506.85" width="2.35" height="7.50" fill="#39c5da"/>
<rect x="632.51" y="500.35" width="2.35" height="7.50" fill="#3ac6da"/>
<rect x="632.51" y="493.85" width="2.35" height="7.50" fill="#3bc6da"/>
<rect x="632.51" y="487.35" width="2.35" height="7.50" fill="#3fc7db"/>
<rect x="632.51" y="480.85" width="2.35" height="7.50" fill="#39c5da"/>
<rect x="632.51" y="474.35" width="2.35" height="7.50" fill="#4acade"/>
<rect x="632.51" y="467.85" width="2.35" height="7.50" fill="#65d1e4"/>
<rect x="632.51" y="461.35" width="2.35" height="7.50" fill="#8edceb"/>
<rect x="632.51" y="454.85" width="2.35" height="7.50" fill="#bfebf3"/>
<rect x="632.51" y="448.35" width="2.35" height="7.50" fill="#d7f2f8"/>
<rect x="632.51" y="441.85" width="2.35" height="7.50" fill="#f0fafc"/>
<rect x="632.51" y="435.35" width="2.35" height="7.50" fill="#f7fcfd"/>
<rect x="633.86" y="539.35" width="2.35" height="2.95" fill="#4ccbdf"/>
<rect x="633.86" y="532.85" width="2.35" height="7.50" fill="#52cce0"/>
<rect x="633.86" y="526.35" width="2.35" height="7.50" fill="#4ccbdf"/>
<rect x="633.86" y="519.85" width="2.35" height="7.50" fill="#4bcbdf"/>
<rect x="633.86" y="513.35" width="2.35" height="7.50" fill="#46c9dd"/>
<rect x="633.86" y="506.85" width="2.35" height="7.50" fill="#49cade"/>
<rect x="633.86" y="500.35" width="2.35" height="7.50" fill="#4ecbdf"/>
<rect x="633.86" y="493.85" width="2.35" height="7.50" fill="#4ecbdf"/>
<rect x="633.86" y="487.35" width="2.35" height="7.50" fill="#55cde1"/>
<rect x="633.86" y="480.85" width="2.35" height="7.50" fill="#50cce0"/>
<rect x="633.86" y="474.35" width="2.35" height="7.50" fill="#6bd3e5"/>
<rect x="633.86" y="467.85" width="2.35" height="7.50" fill="#8ddceb"/>
<rect x="633.86" y="461.35" width="2.35" height="7.50" fill="#beebf3"/>
<rect x="633.86" y="454.85" width="2.35" height="7.50" fill="#d8f3f8"/>
<rect x="633.86" y="448.35" width="2.35" height="7.50" fill="#edf9fb"/>
<rect x="635.20" y="539.35" width="2.35" height="2.95" fill="#4bcbdf"/>
<rect x="635.20" y="532.85" width="2.35" height="7.50" fill="#49cade"/>
<rect x="635.20" y="526.35" width="2.35" height="7.50" fill="#4ccbdf"/>
<rect x="635.20" y="519.85" width="2.35" height="7.50" fill="#4ccbdf"/>
<rect x="635.20" y="513.35" width="2.35" height="7.50" fill="#4acade"/>
<rect x="635.20" y="506.85" width="2.35" height="7.50" fill="#46c9dd"/>
<rect x="635.20" y="500.35" width="2.35" height="7.50" fill="#47cade"/>
<rect x="635.20" y="493.85" width="2.35" height="7.50" fill="#42c8dc"/>
<rect x="635.20" y="487.35" width="2.35" height="7.50" fill="#3ec7db"/>
<rect x="635.20" y="480.85" width="2.35" height="7.50" fill="#67d2e5"/>
<rect x="635.20" y="474.35" width="2.35" height="7.50" fill="#7ed8e9"/>
<rect x="635.20" y="467.85" width="2.35" height="7.50" fill="#99dfec"/>
<rect x="635.20" y="461.35" width="2.35" height="7.50" fill="#cdeff6"/>
<rect x="635.20" y="454.85" width="2.35" height="7.50" fill="#e8f7fb"/>
<rect x="635.20" y="448.35" width="2.35" height="7.50" fill="#f7fcfd"/>
<rect x="636.55" y="539.35" width="2.35" height="2.95" fill="#4dcbdf"/>
<rect x="636.55" y="532.85" width="2.35" height="7.50" fill="#45c9dd"/>
<rect x="636.55" y="526.35" width="2.35" height="7.50" fill="#4acade"/>
<rect x="636.55" y="519.85" width="2.35" height="7.50" fill="#4fcce0"/>
<rect x="636.55" y="513.35" width="2.35" height="7.50" fill="#4fcce0"/>
<rect x="636.55" y="506.85" width="2.35" height="7.50" fill="#4bcbdf"/>
<rect x="636.55" y="500.35" width="2.35" height="7.50" fill="#47cade"/>
<rect x="636.55" y="493.85" width="2.35" height="7.50" fill="#4acade"/>
<rect x="636.55" y="487.35" width="2.35" height="7.50" fill="#47cade"/>
<rect x="636.55" y="480.85" width="2.35" height="7.50" fill="#51cce0"/>
<rect x="636.55" y="474.35" width="2.35" height="7.50" fill="#65d1e4"/>
<rect x="636.55" y="467.85" width="2.35" height="7.50" fill="#8adbea"/>
<rect x="636.55" y="461.35" width="2.35" height="7.50" fill="#c7eef5"/>
<rect x="636.55" y="454.85" width="2.35" height="7.50" fill="#def4f9"/>
<rect x="636.55" y="448.35" width="2.35" height="7.50" fill="#f6fcfd"/>
<rect x="637.90" y="539.35" width="2.35" height="2.95" fill="#3fc7db"/>
<rect x="637.90" y="532.85" width="2.35" height="7.50" fill="#47c9dd"/>
<rect x="637.90" y="526.35" width="2.35" height="7.50" fill="#47cade"/>
<rect x="637.90" y="519.85" width="2.35" height="7.50" fill="#49cade"/>
<rect x="637.90" y="513.35" width="2.35" height="7.50" fill="#47cade"/>
<rect x="637.90" y="506.85" width="2.35" height="7.50" fill="#45c9dd"/>
<rect x="637.90" y="500.35" width="2.35" height="7.50" fill="#48cade"/>
<rect x="637.90" y="493.85" width="2.35" height="7.50" fill="#48cade"/>
<rect x="637.90" y="487.35" width="2.35" height="7.50" fill="#3fc7db"/>
<rect x="637.90" y="480.85" width="2.35" height="7.50" fill="#4dcbdf"/>
<rect x="637.90" y="474.35" width="2.35" height="7.50" fill="#4bcbdf"/>
<rect x="637.90" y="467.85" width="2.35" height="7.50" fill="#53cde1"/>
<rect x="637.90" y="461.35" width="2.35" height="7.50" fill="#5fd0e3"/>
<rect x="637.90" y="454.85" width="2.35" height="7.50" fill="#88daea"/>
<rect x="637.90" y="448.35" width="2.35" height="7.50" fill="#b2e6f1"/>
<rect x="637.90" y="441.85" width="2.35" height="7.50" fill="#d9f3f8"/>
<rect x="637.90" y="435.35" width="2.35" height="7.50" fill="#eaf8fb"/>
<rect x="639.25" y="539.35" width="1.35" height="2.95" fill="#3cc6da"/>
<rect x="639.25" y="532.85" width="1.35" height="7.50" fill="#39c5da"/>
<rect x="639.25" y="526.35" width="1.35" height="7.50" fill="#3ec7db"/>
<rect x="639.25" y="519.85" width="1.35" height="7.50" fill="#3ec7db"/>
<rect x="639.25" y="513.35" width="1.35" height="7.50" fill="#37c3d9"/>
<rect x="639.25" y="506.85" width="1.35" height="7.50" fill="#3ec7db"/>
<rect x="639.25" y="500.35" width="1.35" height="7.50" fill="#40c8dc"/>
<rect x="639.25" y="493.85" width="1.35" height="7.50" fill="#3cc6da"/>
<rect x="639.25" y="487.35" width="1.35" height="7.50" fill="#39c5da"/>
<rect x="639.25" y="480.85" width="1.35" height="7.50" fill="#5ccfe2"/>
<rect x="639.25" y="474.35" width="1.35" height="7.50" fill="#64d1e4"/>
<rect x="639.25" y="467.85" width="1.35" height="7.50" fill="#8edceb"/>
<rect x="639.25" y="461.35" width="1.35" height="7.50" fill="#c0ebf3"/>
<rect x="639.25" y="454.85" width="1.35" height="7.50" fill="#e8f7fb"/>
<rect x="639.25" y="448.35" width="1.35" height="7.50" fill="#f2fbfc"/>
<line x1="455.20" y1="425.60" x2="455.20" y2="542.30" stroke="#9a9a9a" stroke-width="1.2"/>
<line x1="455.20" y1="542.30" x2="640.60" y2="542.30" stroke="#555" stroke-width="1.2"/>
<line x1="453.00" y1="529.60" x2="455.20" y2="529.60" stroke="#666" stroke-width="1"/>
<text x="450.00" y="533.60" font-size="11.8" text-anchor="end" fill="#222">2</text>
<line x1="453.00" y1="503.60" x2="455.20" y2="503.60" stroke="#666" stroke-width="1"/>
<text x="450.00" y="507.60" font-size="11.8" text-anchor="end" fill="#222">4</text>
<line x1="453.00" y1="477.60" x2="455.20" y2="477.60" stroke="#666" stroke-width="1"/>
<text x="450.00" y="481.60" font-size="11.8" text-anchor="end" fill="#222">6</text>
<line x1="453.00" y1="451.60" x2="455.20" y2="451.60" stroke="#666" stroke-width="1"/>
<text x="450.00" y="455.60" font-size="11.8" text-anchor="end" fill="#222">8</text>
<line x1="453.00" y1="425.60" x2="455.20" y2="425.60" stroke="#666" stroke-width="1"/>
<text x="450.00" y="429.60" font-size="11.8" text-anchor="end" fill="#222" textLength="11" lengthAdjust="spacingAndGlyphs">10</text>
<line x1="508.40" y1="542.30" x2="508.40" y2="544.80" stroke="#555" stroke-width="1"/>
<text x="508.40" y="556.50" font-size="11.8" text-anchor="middle" fill="#222" textLength="11.0" lengthAdjust="spacingAndGlyphs">20</text>
<line x1="562.40" y1="542.30" x2="562.40" y2="544.80" stroke="#555" stroke-width="1"/>
<text x="562.40" y="556.50" font-size="11.8" text-anchor="middle" fill="#222" textLength="11.0" lengthAdjust="spacingAndGlyphs">40</text>
<line x1="616.40" y1="542.30" x2="616.40" y2="544.80" stroke="#555" stroke-width="1"/>
<text x="616.40" y="556.50" font-size="11.8" text-anchor="middle" fill="#222" textLength="11.0" lengthAdjust="spacingAndGlyphs">60</text>
<text x="551.50" y="568.70" font-size="12.6" text-anchor="middle" fill="#222" textLength="52.5" lengthAdjust="spacingAndGlyphs">Time [min]</text>
<text x="435.20" y="480.00" font-size="12.6" text-anchor="middle" fill="#222" textLength="119.6" lengthAdjust="spacingAndGlyphs" transform="rotate(-90 435.20 480.00)">Frequency for phase [Hz]</text>
<rect x="648.3" y="425.4" width="9.4" height="116.8" fill="url(#cbe)" stroke="#555" stroke-width="0.8"/>
<line x1="657.70" y1="542.20" x2="659.70" y2="542.20" stroke="#555" stroke-width="1"/>
<text x="663.60" y="546.20" font-size="11.8" fill="#222">4</text>
<line x1="657.70" y1="495.50" x2="659.70" y2="495.50" stroke="#555" stroke-width="1"/>
<text x="663.60" y="499.50" font-size="11.8" fill="#222">6</text>
<line x1="657.70" y1="448.80" x2="659.70" y2="448.80" stroke="#555" stroke-width="1"/>
<text x="663.60" y="452.80" font-size="11.8" fill="#222">8</text>
<text x="682.3" y="483" font-size="11.8" text-anchor="middle" transform="rotate(-90 682.3 483)" textLength="74.8" lengthAdjust="spacingAndGlyphs">log(power) [μV<tspan font-size="8" dy="-4">2</tspan><tspan dy="4">]</tspan></text>
<rect x="404" y="26" width="1" height="1" fill="#cfe6ea"/>
<rect x="216" y="222" width="1" height="1" fill="#e4f0f2"/>
</svg></body></html>
